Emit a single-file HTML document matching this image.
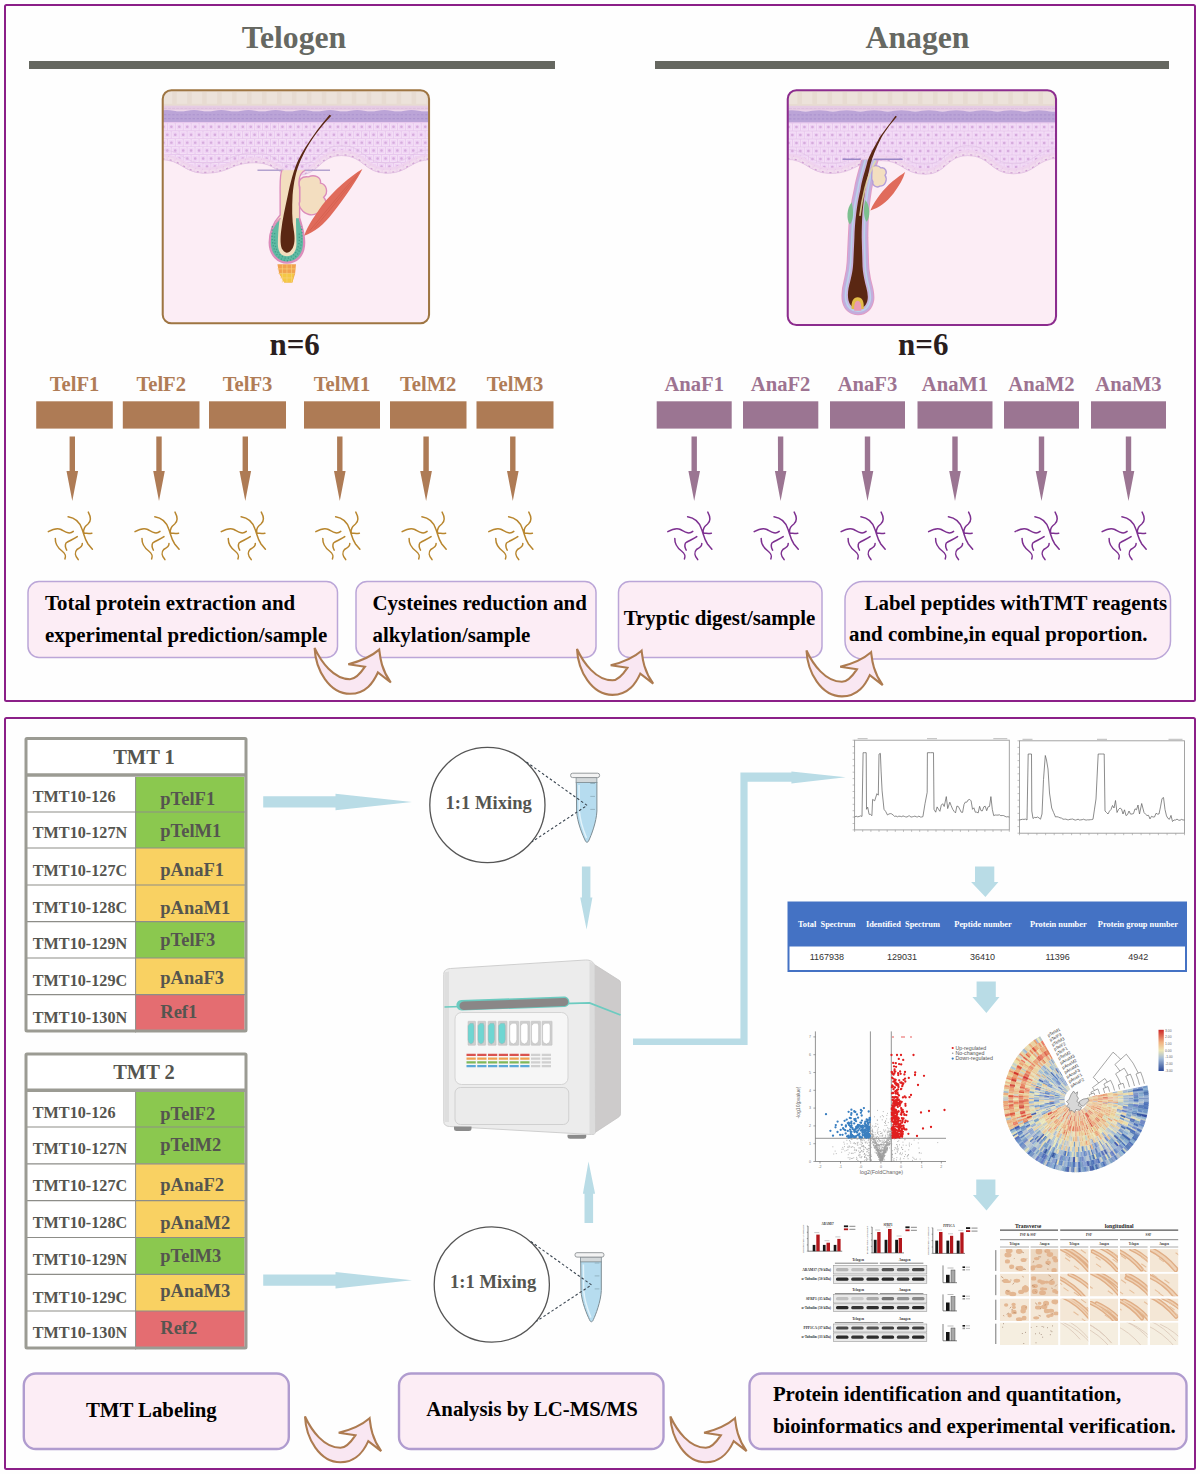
<!DOCTYPE html><html><head><meta charset="utf-8"><style>html,body{margin:0;padding:0;background:#fff;}svg{display:block;}</style></head><body>
<svg width="1200" height="1474" viewBox="0 0 1200 1474" font-family="Liberation Serif, serif">
<rect x="0" y="0" width="1200" height="1474" fill="#fefefe"/>
<rect x="5" y="5" width="1190" height="696" rx="1.5" fill="none" stroke="#8b1f88" stroke-width="2"/>
<rect x="5" y="718" width="1190" height="751" rx="1.5" fill="none" stroke="#8b1f88" stroke-width="2"/>
<text x="294" y="47.5" font-size="31.7" font-weight="bold" fill="#666862" text-anchor="middle">Telogen</text>
<text x="917.5" y="47.5" font-size="31.7" font-weight="bold" fill="#666862" text-anchor="middle">Anagen</text>
<rect x="29" y="61" width="526" height="8" fill="#656760"/>
<rect x="655" y="61" width="514" height="8" fill="#656760"/>
<text x="294.6" y="354.6" font-size="31" font-weight="bold" fill="#2a1e1e" text-anchor="middle">n=6</text>
<text x="923.3" y="354.6" font-size="31" font-weight="bold" fill="#2a1e1e" text-anchor="middle">n=6</text>
<g transform="translate(160,88) scale(0.226667)">
<clipPath id="cT"><rect x="12" y="10" width="1175" height="1028" rx="38"/></clipPath>
<clipPath id="eT"><path d="M0,140 H1200 V316 C1100.0,316 1100.0,376 1000,376 C900.0,376 900.0,298 800,298 C702.5,298 702.5,386 605,386 C512.5,386 512.5,330 420,330 C310.0,330 310.0,376 200,376 C100.0,376 100.0,316 0,316  V140 Z"/></clipPath>
<g clip-path="url(#cT)">
<rect x="0" y="0" width="1200" height="1060" fill="#fcedf5"/>
<path d="M0,140 H1200 V316 C1100.0,316 1100.0,376 1000,376 C900.0,376 900.0,298 800,298 C702.5,298 702.5,386 605,386 C512.5,386 512.5,330 420,330 C310.0,330 310.0,376 200,376 C100.0,376 100.0,316 0,316  V140 Z" fill="#e8c8ee"/>
<g clip-path="url(#eT)">
<path d="M2,158h26v26h-26zM37,158h26v26h-26zM72,158h26v26h-26zM107,158h26v26h-26zM142,158h26v26h-26zM177,158h26v26h-26zM212,158h26v26h-26zM247,158h26v26h-26zM282,158h26v26h-26zM317,158h26v26h-26zM352,158h26v26h-26zM387,158h26v26h-26zM422,158h26v26h-26zM457,158h26v26h-26zM492,158h26v26h-26zM527,158h26v26h-26zM562,158h26v26h-26zM597,158h26v26h-26zM632,158h26v26h-26zM667,158h26v26h-26zM702,158h26v26h-26zM737,158h26v26h-26zM772,158h26v26h-26zM807,158h26v26h-26zM842,158h26v26h-26zM877,158h26v26h-26zM912,158h26v26h-26zM947,158h26v26h-26zM982,158h26v26h-26zM1017,158h26v26h-26zM1052,158h26v26h-26zM1087,158h26v26h-26zM1122,158h26v26h-26zM1157,158h26v26h-26zM1192,158h26v26h-26zM1227,158h26v26h-26zM19,193h26v26h-26zM54,193h26v26h-26zM89,193h26v26h-26zM124,193h26v26h-26zM159,193h26v26h-26zM194,193h26v26h-26zM229,193h26v26h-26zM264,193h26v26h-26zM299,193h26v26h-26zM334,193h26v26h-26zM369,193h26v26h-26zM404,193h26v26h-26zM439,193h26v26h-26zM474,193h26v26h-26zM509,193h26v26h-26zM544,193h26v26h-26zM579,193h26v26h-26zM614,193h26v26h-26zM649,193h26v26h-26zM684,193h26v26h-26zM719,193h26v26h-26zM754,193h26v26h-26zM789,193h26v26h-26zM824,193h26v26h-26zM859,193h26v26h-26zM894,193h26v26h-26zM929,193h26v26h-26zM964,193h26v26h-26zM999,193h26v26h-26zM1034,193h26v26h-26zM1069,193h26v26h-26zM1104,193h26v26h-26zM1139,193h26v26h-26zM1174,193h26v26h-26zM1209,193h26v26h-26zM1244,193h26v26h-26zM2,228h26v26h-26zM37,228h26v26h-26zM72,228h26v26h-26zM107,228h26v26h-26zM142,228h26v26h-26zM177,228h26v26h-26zM212,228h26v26h-26zM247,228h26v26h-26zM282,228h26v26h-26zM317,228h26v26h-26zM352,228h26v26h-26zM387,228h26v26h-26zM422,228h26v26h-26zM457,228h26v26h-26zM492,228h26v26h-26zM527,228h26v26h-26zM562,228h26v26h-26zM597,228h26v26h-26zM632,228h26v26h-26zM667,228h26v26h-26zM702,228h26v26h-26zM737,228h26v26h-26zM772,228h26v26h-26zM807,228h26v26h-26zM842,228h26v26h-26zM877,228h26v26h-26zM912,228h26v26h-26zM947,228h26v26h-26zM982,228h26v26h-26zM1017,228h26v26h-26zM1052,228h26v26h-26zM1087,228h26v26h-26zM1122,228h26v26h-26zM1157,228h26v26h-26zM1192,228h26v26h-26zM1227,228h26v26h-26zM19,263h26v26h-26zM54,263h26v26h-26zM89,263h26v26h-26zM124,263h26v26h-26zM159,263h26v26h-26zM194,263h26v26h-26zM229,263h26v26h-26zM264,263h26v26h-26zM299,263h26v26h-26zM334,263h26v26h-26zM369,263h26v26h-26zM404,263h26v26h-26zM439,263h26v26h-26zM474,263h26v26h-26zM509,263h26v26h-26zM544,263h26v26h-26zM579,263h26v26h-26zM614,263h26v26h-26zM649,263h26v26h-26zM684,263h26v26h-26zM719,263h26v26h-26zM754,263h26v26h-26zM789,263h26v26h-26zM824,263h26v26h-26zM859,263h26v26h-26zM894,263h26v26h-26zM929,263h26v26h-26zM964,263h26v26h-26zM999,263h26v26h-26zM1034,263h26v26h-26zM1069,263h26v26h-26zM1104,263h26v26h-26zM1139,263h26v26h-26zM1174,263h26v26h-26zM1209,263h26v26h-26zM1244,263h26v26h-26zM2,298h26v26h-26zM37,298h26v26h-26zM72,298h26v26h-26zM107,298h26v26h-26zM142,298h26v26h-26zM177,298h26v26h-26zM212,298h26v26h-26zM247,298h26v26h-26zM282,298h26v26h-26zM317,298h26v26h-26zM352,298h26v26h-26zM387,298h26v26h-26zM422,298h26v26h-26zM457,298h26v26h-26zM492,298h26v26h-26zM527,298h26v26h-26zM562,298h26v26h-26zM597,298h26v26h-26zM632,298h26v26h-26zM667,298h26v26h-26zM702,298h26v26h-26zM737,298h26v26h-26zM772,298h26v26h-26zM807,298h26v26h-26zM842,298h26v26h-26zM877,298h26v26h-26zM912,298h26v26h-26zM947,298h26v26h-26zM982,298h26v26h-26zM1017,298h26v26h-26zM1052,298h26v26h-26zM1087,298h26v26h-26zM1122,298h26v26h-26zM1157,298h26v26h-26zM1192,298h26v26h-26zM1227,298h26v26h-26zM19,333h26v26h-26zM54,333h26v26h-26zM89,333h26v26h-26zM124,333h26v26h-26zM159,333h26v26h-26zM194,333h26v26h-26zM229,333h26v26h-26zM264,333h26v26h-26zM299,333h26v26h-26zM334,333h26v26h-26zM369,333h26v26h-26zM404,333h26v26h-26zM439,333h26v26h-26zM474,333h26v26h-26zM509,333h26v26h-26zM544,333h26v26h-26zM579,333h26v26h-26zM614,333h26v26h-26zM649,333h26v26h-26zM684,333h26v26h-26zM719,333h26v26h-26zM754,333h26v26h-26zM789,333h26v26h-26zM824,333h26v26h-26zM859,333h26v26h-26zM894,333h26v26h-26zM929,333h26v26h-26zM964,333h26v26h-26zM999,333h26v26h-26zM1034,333h26v26h-26zM1069,333h26v26h-26zM1104,333h26v26h-26zM1139,333h26v26h-26zM1174,333h26v26h-26zM1209,333h26v26h-26zM1244,333h26v26h-26zM2,368h26v26h-26zM37,368h26v26h-26zM72,368h26v26h-26zM107,368h26v26h-26zM142,368h26v26h-26zM177,368h26v26h-26zM212,368h26v26h-26zM247,368h26v26h-26zM282,368h26v26h-26zM317,368h26v26h-26zM352,368h26v26h-26zM387,368h26v26h-26zM422,368h26v26h-26zM457,368h26v26h-26zM492,368h26v26h-26zM527,368h26v26h-26zM562,368h26v26h-26zM597,368h26v26h-26zM632,368h26v26h-26zM667,368h26v26h-26zM702,368h26v26h-26zM737,368h26v26h-26zM772,368h26v26h-26zM807,368h26v26h-26zM842,368h26v26h-26zM877,368h26v26h-26zM912,368h26v26h-26zM947,368h26v26h-26zM982,368h26v26h-26zM1017,368h26v26h-26zM1052,368h26v26h-26zM1087,368h26v26h-26zM1122,368h26v26h-26zM1157,368h26v26h-26zM1192,368h26v26h-26zM1227,368h26v26h-26z" fill="#efd2f4" stroke="#f4dff6" stroke-width="5" stroke-linejoin="round"/>
<path d="M15,171h0.5M50,171h0.5M85,171h0.5M120,171h0.5M155,171h0.5M190,171h0.5M225,171h0.5M260,171h0.5M295,171h0.5M330,171h0.5M365,171h0.5M400,171h0.5M435,171h0.5M470,171h0.5M505,171h0.5M540,171h0.5M575,171h0.5M610,171h0.5M645,171h0.5M680,171h0.5M715,171h0.5M750,171h0.5M785,171h0.5M820,171h0.5M855,171h0.5M890,171h0.5M925,171h0.5M960,171h0.5M995,171h0.5M1030,171h0.5M1065,171h0.5M1100,171h0.5M1135,171h0.5M1170,171h0.5M1205,171h0.5M1240,171h0.5M32,206h0.5M67,206h0.5M102,206h0.5M137,206h0.5M172,206h0.5M207,206h0.5M242,206h0.5M277,206h0.5M312,206h0.5M347,206h0.5M382,206h0.5M417,206h0.5M452,206h0.5M487,206h0.5M522,206h0.5M557,206h0.5M592,206h0.5M627,206h0.5M662,206h0.5M697,206h0.5M732,206h0.5M767,206h0.5M802,206h0.5M837,206h0.5M872,206h0.5M907,206h0.5M942,206h0.5M977,206h0.5M1012,206h0.5M1047,206h0.5M1082,206h0.5M1117,206h0.5M1152,206h0.5M1187,206h0.5M1222,206h0.5M1257,206h0.5M15,241h0.5M50,241h0.5M85,241h0.5M120,241h0.5M155,241h0.5M190,241h0.5M225,241h0.5M260,241h0.5M295,241h0.5M330,241h0.5M365,241h0.5M400,241h0.5M435,241h0.5M470,241h0.5M505,241h0.5M540,241h0.5M575,241h0.5M610,241h0.5M645,241h0.5M680,241h0.5M715,241h0.5M750,241h0.5M785,241h0.5M820,241h0.5M855,241h0.5M890,241h0.5M925,241h0.5M960,241h0.5M995,241h0.5M1030,241h0.5M1065,241h0.5M1100,241h0.5M1135,241h0.5M1170,241h0.5M1205,241h0.5M1240,241h0.5M32,276h0.5M67,276h0.5M102,276h0.5M137,276h0.5M172,276h0.5M207,276h0.5M242,276h0.5M277,276h0.5M312,276h0.5M347,276h0.5M382,276h0.5M417,276h0.5M452,276h0.5M487,276h0.5M522,276h0.5M557,276h0.5M592,276h0.5M627,276h0.5M662,276h0.5M697,276h0.5M732,276h0.5M767,276h0.5M802,276h0.5M837,276h0.5M872,276h0.5M907,276h0.5M942,276h0.5M977,276h0.5M1012,276h0.5M1047,276h0.5M1082,276h0.5M1117,276h0.5M1152,276h0.5M1187,276h0.5M1222,276h0.5M1257,276h0.5M15,311h0.5M50,311h0.5M85,311h0.5M120,311h0.5M155,311h0.5M190,311h0.5M225,311h0.5M260,311h0.5M295,311h0.5M330,311h0.5M365,311h0.5M400,311h0.5M435,311h0.5M470,311h0.5M505,311h0.5M540,311h0.5M575,311h0.5M610,311h0.5M645,311h0.5M680,311h0.5M715,311h0.5M750,311h0.5M785,311h0.5M820,311h0.5M855,311h0.5M890,311h0.5M925,311h0.5M960,311h0.5M995,311h0.5M1030,311h0.5M1065,311h0.5M1100,311h0.5M1135,311h0.5M1170,311h0.5M1205,311h0.5M1240,311h0.5M32,346h0.5M67,346h0.5M102,346h0.5M137,346h0.5M172,346h0.5M207,346h0.5M242,346h0.5M277,346h0.5M312,346h0.5M347,346h0.5M382,346h0.5M417,346h0.5M452,346h0.5M487,346h0.5M522,346h0.5M557,346h0.5M592,346h0.5M627,346h0.5M662,346h0.5M697,346h0.5M732,346h0.5M767,346h0.5M802,346h0.5M837,346h0.5M872,346h0.5M907,346h0.5M942,346h0.5M977,346h0.5M1012,346h0.5M1047,346h0.5M1082,346h0.5M1117,346h0.5M1152,346h0.5M1187,346h0.5M1222,346h0.5M1257,346h0.5M15,381h0.5M50,381h0.5M85,381h0.5M120,381h0.5M155,381h0.5M190,381h0.5M225,381h0.5M260,381h0.5M295,381h0.5M330,381h0.5M365,381h0.5M400,381h0.5M435,381h0.5M470,381h0.5M505,381h0.5M540,381h0.5M575,381h0.5M610,381h0.5M645,381h0.5M680,381h0.5M715,381h0.5M750,381h0.5M785,381h0.5M820,381h0.5M855,381h0.5M890,381h0.5M925,381h0.5M960,381h0.5M995,381h0.5M1030,381h0.5M1065,381h0.5M1100,381h0.5M1135,381h0.5M1170,381h0.5M1205,381h0.5M1240,381h0.5" stroke="#d6acdd" stroke-width="11" stroke-linecap="round"/>
<path d="M0,316 C100.0,316 100.0,376 200,376 C310.0,376 310.0,330 420,330 C512.5,330 512.5,386 605,386 C702.5,386 702.5,298 800,298 C900.0,298 900.0,376 1000,376 C1100.0,376 1100.0,316 1200,316 " fill="none" stroke="#efd3ee" stroke-width="46" transform="translate(0,-2)"/>
<path d="M0,316 C100.0,316 100.0,376 200,376 C310.0,376 310.0,330 420,330 C512.5,330 512.5,386 605,386 C702.5,386 702.5,298 800,298 C900.0,298 900.0,376 1000,376 C1100.0,376 1100.0,316 1200,316 " fill="none" stroke="#dcbde0" stroke-width="2" transform="translate(0,-44)"/>
<path d="M0,316 C100.0,316 100.0,376 200,376 C310.0,376 310.0,330 420,330 C512.5,330 512.5,386 605,386 C702.5,386 702.5,298 800,298 C900.0,298 900.0,376 1000,376 C1100.0,376 1100.0,316 1200,316 " fill="none" stroke="#e6c2e6" stroke-width="34" stroke-dasharray="3 30" transform="translate(0,-2)"/>
<path d="M0,316 C100.0,316 100.0,376 200,376 C310.0,376 310.0,330 420,330 C512.5,330 512.5,386 605,386 C702.5,386 702.5,298 800,298 C900.0,298 900.0,376 1000,376 C1100.0,376 1100.0,316 1200,316 " fill="none" stroke="#f2dcee" stroke-width="24" stroke-dasharray="26 7" transform="translate(0,-2)"/>
<path d="M0,316 C100.0,316 100.0,376 200,376 C310.0,376 310.0,330 420,330 C512.5,330 512.5,386 605,386 C702.5,386 702.5,298 800,298 C900.0,298 900.0,376 1000,376 C1100.0,376 1100.0,316 1200,316 " fill="none" stroke="#cf9fd2" stroke-width="9" stroke-dasharray="9 24" stroke-dashoffset="-9" transform="translate(0,-2)"/>
</g>
<path d="M0,316 C100.0,316 100.0,376 200,376 C310.0,376 310.0,330 420,330 C512.5,330 512.5,386 605,386 C702.5,386 702.5,298 800,298 C900.0,298 900.0,376 1000,376 C1100.0,376 1100.0,316 1200,316 " fill="none" stroke="#e0bfe0" stroke-width="3"/>
<rect x="0" y="0" width="1200" height="80" fill="#e7dbd1"/>
<rect x="8" y="18" width="46" height="52" fill="#ece2da"/>
<rect x="74" y="18" width="46" height="52" fill="#ece2da"/>
<rect x="140" y="18" width="46" height="52" fill="#ece2da"/>
<rect x="206" y="18" width="46" height="52" fill="#ece2da"/>
<rect x="272" y="18" width="46" height="52" fill="#ece2da"/>
<rect x="338" y="18" width="46" height="52" fill="#ece2da"/>
<rect x="404" y="18" width="46" height="52" fill="#ece2da"/>
<rect x="470" y="18" width="46" height="52" fill="#ece2da"/>
<rect x="536" y="18" width="46" height="52" fill="#ece2da"/>
<rect x="602" y="18" width="46" height="52" fill="#ece2da"/>
<rect x="668" y="18" width="46" height="52" fill="#ece2da"/>
<rect x="734" y="18" width="46" height="52" fill="#ece2da"/>
<rect x="800" y="18" width="46" height="52" fill="#ece2da"/>
<rect x="866" y="18" width="46" height="52" fill="#ece2da"/>
<rect x="932" y="18" width="46" height="52" fill="#ece2da"/>
<rect x="998" y="18" width="46" height="52" fill="#ece2da"/>
<rect x="1064" y="18" width="46" height="52" fill="#ece2da"/>
<rect x="1130" y="18" width="46" height="52" fill="#ece2da"/>
<rect x="1196" y="18" width="46" height="52" fill="#ece2da"/>
<rect x="0" y="78" width="1200" height="22" fill="#e6cce4"/>
<path d="M0,90 H1200" stroke="#d9b8d9" stroke-width="3" stroke-dasharray="12 6"/>
<path d="M0,100 Q30,94 60,100 T120,100 T180,100 T240,100 T300,100 T360,100 T420,100 T480,100 T540,100 T600,100 T660,100 T720,100 T780,100 T840,100 T900,100 T960,100 T1020,100 T1080,100 T1140,100 T1200,100 V150 H0 Z" fill="#bba4d7"/>
<path d="M0,118 H1200 M0,135 H1200" stroke="#ad94cf" stroke-width="5" stroke-dasharray="10 8"/>
</g>
<path d="M430,363 H545 M638,363 H750" stroke="#b3a2cf" stroke-width="6"/>
<path d="M538,363 C528,380 530,420 530,470 L530,560 C498,595 482,640 482,682 C482,740 522,772 560,772 C604,772 638,740 638,682 C638,640 625,600 616,572 L616,450 C612,410 610,380 640,363" fill="#f3debf" stroke="#dc8cbb" stroke-width="6"/>
<path d="M617,438 C606,405 625,388 655,392 C680,380 712,392 708,420 C735,425 745,462 722,482 C744,505 725,550 695,552 C672,566 640,560 624,536 C612,520 612,510 617,500 Z" fill="#f3dec0" stroke="#dc8cbb" stroke-width="6"/>
<path d="M532,575 C500,600 486,640 486,682 C486,736 522,768 560,768 C602,768 634,736 634,682 C634,640 622,600 614,575 L600,575 C600,620 602,660 602,690 C600,730 578,742 560,742 C540,742 522,730 520,690 C520,660 522,620 528,575 Z" fill="#5fbaa3"/>
<path d="M532,575 C500,600 486,640 486,682 C486,736 522,768 560,768 C602,768 634,736 634,682 C634,640 622,600 614,575" fill="none" stroke="#dc8cbb" stroke-width="6"/>
<path d="M506,640 C500,700 520,745 560,752 C600,745 620,700 614,640 M496,610 C486,700 515,760 560,762 C608,760 634,700 624,610" fill="none" stroke="#3f9e8a" stroke-width="6" stroke-dasharray="5 9"/>
<path d="M748,118 C700,175 650,240 610,318 C590,360 575,420 564,472 C552,530 540,580 535,626 C530,660 530,700 541,714 C548,724 555,727 559,727 C566,727 575,722 580,714 C596,695 596,660 590,626 C582,580 582,530 585,472 C590,420 598,370 621,318 C650,250 700,180 756,122 Z" fill="#5a2713"/>
<path d="M518,778 L600,778 L596,820 L584,858 L548,858 L526,820 Z" fill="#f1a24e"/>
<path d="M528,818 L592,818 L584,858 L548,858 Z" fill="#f4c844"/>
<path d="M518,798 H600 M522,818 H596 M530,838 H588 M540,778 V858 M560,778 V858 M580,778 V858" stroke="#f7d27a" stroke-width="3"/>
<path d="M636,652 C652,605 688,556 716,516 C768,450 838,390 893,357 C872,402 824,470 762,552 C722,605 682,636 636,652 Z" fill="#e06b5b"/>
<path d="M660,630 C720,560 790,470 880,372 M680,620 C740,550 800,475 870,390" stroke="#cf5a48" stroke-width="2.5" fill="none"/>
<rect x="12" y="10" width="1175" height="1028" rx="38" fill="none" stroke="#9e7542" stroke-width="9"/>
</g>
<g transform="translate(785,88) scale(0.228333)">
<clipPath id="cA"><rect x="12" y="10" width="1175" height="1028" rx="38"/></clipPath>
<clipPath id="eA"><path d="M0,140 H1200 V308 C1100.0,308 1100.0,376 1000,376 C900.0,376 900.0,296 800,296 C707.5,296 707.5,378 615,378 C517.5,378 517.5,318 420,318 C310.0,318 310.0,374 200,374 C100.0,374 100.0,312 0,312  V140 Z"/></clipPath>
<g clip-path="url(#cA)">
<rect x="0" y="0" width="1200" height="1060" fill="#fcedf5"/>
<path d="M0,140 H1200 V308 C1100.0,308 1100.0,376 1000,376 C900.0,376 900.0,296 800,296 C707.5,296 707.5,378 615,378 C517.5,378 517.5,318 420,318 C310.0,318 310.0,374 200,374 C100.0,374 100.0,312 0,312  V140 Z" fill="#e8c8ee"/>
<g clip-path="url(#eA)">
<path d="M2,158h26v26h-26zM37,158h26v26h-26zM72,158h26v26h-26zM107,158h26v26h-26zM142,158h26v26h-26zM177,158h26v26h-26zM212,158h26v26h-26zM247,158h26v26h-26zM282,158h26v26h-26zM317,158h26v26h-26zM352,158h26v26h-26zM387,158h26v26h-26zM422,158h26v26h-26zM457,158h26v26h-26zM492,158h26v26h-26zM527,158h26v26h-26zM562,158h26v26h-26zM597,158h26v26h-26zM632,158h26v26h-26zM667,158h26v26h-26zM702,158h26v26h-26zM737,158h26v26h-26zM772,158h26v26h-26zM807,158h26v26h-26zM842,158h26v26h-26zM877,158h26v26h-26zM912,158h26v26h-26zM947,158h26v26h-26zM982,158h26v26h-26zM1017,158h26v26h-26zM1052,158h26v26h-26zM1087,158h26v26h-26zM1122,158h26v26h-26zM1157,158h26v26h-26zM1192,158h26v26h-26zM1227,158h26v26h-26zM19,193h26v26h-26zM54,193h26v26h-26zM89,193h26v26h-26zM124,193h26v26h-26zM159,193h26v26h-26zM194,193h26v26h-26zM229,193h26v26h-26zM264,193h26v26h-26zM299,193h26v26h-26zM334,193h26v26h-26zM369,193h26v26h-26zM404,193h26v26h-26zM439,193h26v26h-26zM474,193h26v26h-26zM509,193h26v26h-26zM544,193h26v26h-26zM579,193h26v26h-26zM614,193h26v26h-26zM649,193h26v26h-26zM684,193h26v26h-26zM719,193h26v26h-26zM754,193h26v26h-26zM789,193h26v26h-26zM824,193h26v26h-26zM859,193h26v26h-26zM894,193h26v26h-26zM929,193h26v26h-26zM964,193h26v26h-26zM999,193h26v26h-26zM1034,193h26v26h-26zM1069,193h26v26h-26zM1104,193h26v26h-26zM1139,193h26v26h-26zM1174,193h26v26h-26zM1209,193h26v26h-26zM1244,193h26v26h-26zM2,228h26v26h-26zM37,228h26v26h-26zM72,228h26v26h-26zM107,228h26v26h-26zM142,228h26v26h-26zM177,228h26v26h-26zM212,228h26v26h-26zM247,228h26v26h-26zM282,228h26v26h-26zM317,228h26v26h-26zM352,228h26v26h-26zM387,228h26v26h-26zM422,228h26v26h-26zM457,228h26v26h-26zM492,228h26v26h-26zM527,228h26v26h-26zM562,228h26v26h-26zM597,228h26v26h-26zM632,228h26v26h-26zM667,228h26v26h-26zM702,228h26v26h-26zM737,228h26v26h-26zM772,228h26v26h-26zM807,228h26v26h-26zM842,228h26v26h-26zM877,228h26v26h-26zM912,228h26v26h-26zM947,228h26v26h-26zM982,228h26v26h-26zM1017,228h26v26h-26zM1052,228h26v26h-26zM1087,228h26v26h-26zM1122,228h26v26h-26zM1157,228h26v26h-26zM1192,228h26v26h-26zM1227,228h26v26h-26zM19,263h26v26h-26zM54,263h26v26h-26zM89,263h26v26h-26zM124,263h26v26h-26zM159,263h26v26h-26zM194,263h26v26h-26zM229,263h26v26h-26zM264,263h26v26h-26zM299,263h26v26h-26zM334,263h26v26h-26zM369,263h26v26h-26zM404,263h26v26h-26zM439,263h26v26h-26zM474,263h26v26h-26zM509,263h26v26h-26zM544,263h26v26h-26zM579,263h26v26h-26zM614,263h26v26h-26zM649,263h26v26h-26zM684,263h26v26h-26zM719,263h26v26h-26zM754,263h26v26h-26zM789,263h26v26h-26zM824,263h26v26h-26zM859,263h26v26h-26zM894,263h26v26h-26zM929,263h26v26h-26zM964,263h26v26h-26zM999,263h26v26h-26zM1034,263h26v26h-26zM1069,263h26v26h-26zM1104,263h26v26h-26zM1139,263h26v26h-26zM1174,263h26v26h-26zM1209,263h26v26h-26zM1244,263h26v26h-26zM2,298h26v26h-26zM37,298h26v26h-26zM72,298h26v26h-26zM107,298h26v26h-26zM142,298h26v26h-26zM177,298h26v26h-26zM212,298h26v26h-26zM247,298h26v26h-26zM282,298h26v26h-26zM317,298h26v26h-26zM352,298h26v26h-26zM387,298h26v26h-26zM422,298h26v26h-26zM457,298h26v26h-26zM492,298h26v26h-26zM527,298h26v26h-26zM562,298h26v26h-26zM597,298h26v26h-26zM632,298h26v26h-26zM667,298h26v26h-26zM702,298h26v26h-26zM737,298h26v26h-26zM772,298h26v26h-26zM807,298h26v26h-26zM842,298h26v26h-26zM877,298h26v26h-26zM912,298h26v26h-26zM947,298h26v26h-26zM982,298h26v26h-26zM1017,298h26v26h-26zM1052,298h26v26h-26zM1087,298h26v26h-26zM1122,298h26v26h-26zM1157,298h26v26h-26zM1192,298h26v26h-26zM1227,298h26v26h-26zM19,333h26v26h-26zM54,333h26v26h-26zM89,333h26v26h-26zM124,333h26v26h-26zM159,333h26v26h-26zM194,333h26v26h-26zM229,333h26v26h-26zM264,333h26v26h-26zM299,333h26v26h-26zM334,333h26v26h-26zM369,333h26v26h-26zM404,333h26v26h-26zM439,333h26v26h-26zM474,333h26v26h-26zM509,333h26v26h-26zM544,333h26v26h-26zM579,333h26v26h-26zM614,333h26v26h-26zM649,333h26v26h-26zM684,333h26v26h-26zM719,333h26v26h-26zM754,333h26v26h-26zM789,333h26v26h-26zM824,333h26v26h-26zM859,333h26v26h-26zM894,333h26v26h-26zM929,333h26v26h-26zM964,333h26v26h-26zM999,333h26v26h-26zM1034,333h26v26h-26zM1069,333h26v26h-26zM1104,333h26v26h-26zM1139,333h26v26h-26zM1174,333h26v26h-26zM1209,333h26v26h-26zM1244,333h26v26h-26zM2,368h26v26h-26zM37,368h26v26h-26zM72,368h26v26h-26zM107,368h26v26h-26zM142,368h26v26h-26zM177,368h26v26h-26zM212,368h26v26h-26zM247,368h26v26h-26zM282,368h26v26h-26zM317,368h26v26h-26zM352,368h26v26h-26zM387,368h26v26h-26zM422,368h26v26h-26zM457,368h26v26h-26zM492,368h26v26h-26zM527,368h26v26h-26zM562,368h26v26h-26zM597,368h26v26h-26zM632,368h26v26h-26zM667,368h26v26h-26zM702,368h26v26h-26zM737,368h26v26h-26zM772,368h26v26h-26zM807,368h26v26h-26zM842,368h26v26h-26zM877,368h26v26h-26zM912,368h26v26h-26zM947,368h26v26h-26zM982,368h26v26h-26zM1017,368h26v26h-26zM1052,368h26v26h-26zM1087,368h26v26h-26zM1122,368h26v26h-26zM1157,368h26v26h-26zM1192,368h26v26h-26zM1227,368h26v26h-26z" fill="#efd2f4" stroke="#f4dff6" stroke-width="5" stroke-linejoin="round"/>
<path d="M15,171h0.5M50,171h0.5M85,171h0.5M120,171h0.5M155,171h0.5M190,171h0.5M225,171h0.5M260,171h0.5M295,171h0.5M330,171h0.5M365,171h0.5M400,171h0.5M435,171h0.5M470,171h0.5M505,171h0.5M540,171h0.5M575,171h0.5M610,171h0.5M645,171h0.5M680,171h0.5M715,171h0.5M750,171h0.5M785,171h0.5M820,171h0.5M855,171h0.5M890,171h0.5M925,171h0.5M960,171h0.5M995,171h0.5M1030,171h0.5M1065,171h0.5M1100,171h0.5M1135,171h0.5M1170,171h0.5M1205,171h0.5M1240,171h0.5M32,206h0.5M67,206h0.5M102,206h0.5M137,206h0.5M172,206h0.5M207,206h0.5M242,206h0.5M277,206h0.5M312,206h0.5M347,206h0.5M382,206h0.5M417,206h0.5M452,206h0.5M487,206h0.5M522,206h0.5M557,206h0.5M592,206h0.5M627,206h0.5M662,206h0.5M697,206h0.5M732,206h0.5M767,206h0.5M802,206h0.5M837,206h0.5M872,206h0.5M907,206h0.5M942,206h0.5M977,206h0.5M1012,206h0.5M1047,206h0.5M1082,206h0.5M1117,206h0.5M1152,206h0.5M1187,206h0.5M1222,206h0.5M1257,206h0.5M15,241h0.5M50,241h0.5M85,241h0.5M120,241h0.5M155,241h0.5M190,241h0.5M225,241h0.5M260,241h0.5M295,241h0.5M330,241h0.5M365,241h0.5M400,241h0.5M435,241h0.5M470,241h0.5M505,241h0.5M540,241h0.5M575,241h0.5M610,241h0.5M645,241h0.5M680,241h0.5M715,241h0.5M750,241h0.5M785,241h0.5M820,241h0.5M855,241h0.5M890,241h0.5M925,241h0.5M960,241h0.5M995,241h0.5M1030,241h0.5M1065,241h0.5M1100,241h0.5M1135,241h0.5M1170,241h0.5M1205,241h0.5M1240,241h0.5M32,276h0.5M67,276h0.5M102,276h0.5M137,276h0.5M172,276h0.5M207,276h0.5M242,276h0.5M277,276h0.5M312,276h0.5M347,276h0.5M382,276h0.5M417,276h0.5M452,276h0.5M487,276h0.5M522,276h0.5M557,276h0.5M592,276h0.5M627,276h0.5M662,276h0.5M697,276h0.5M732,276h0.5M767,276h0.5M802,276h0.5M837,276h0.5M872,276h0.5M907,276h0.5M942,276h0.5M977,276h0.5M1012,276h0.5M1047,276h0.5M1082,276h0.5M1117,276h0.5M1152,276h0.5M1187,276h0.5M1222,276h0.5M1257,276h0.5M15,311h0.5M50,311h0.5M85,311h0.5M120,311h0.5M155,311h0.5M190,311h0.5M225,311h0.5M260,311h0.5M295,311h0.5M330,311h0.5M365,311h0.5M400,311h0.5M435,311h0.5M470,311h0.5M505,311h0.5M540,311h0.5M575,311h0.5M610,311h0.5M645,311h0.5M680,311h0.5M715,311h0.5M750,311h0.5M785,311h0.5M820,311h0.5M855,311h0.5M890,311h0.5M925,311h0.5M960,311h0.5M995,311h0.5M1030,311h0.5M1065,311h0.5M1100,311h0.5M1135,311h0.5M1170,311h0.5M1205,311h0.5M1240,311h0.5M32,346h0.5M67,346h0.5M102,346h0.5M137,346h0.5M172,346h0.5M207,346h0.5M242,346h0.5M277,346h0.5M312,346h0.5M347,346h0.5M382,346h0.5M417,346h0.5M452,346h0.5M487,346h0.5M522,346h0.5M557,346h0.5M592,346h0.5M627,346h0.5M662,346h0.5M697,346h0.5M732,346h0.5M767,346h0.5M802,346h0.5M837,346h0.5M872,346h0.5M907,346h0.5M942,346h0.5M977,346h0.5M1012,346h0.5M1047,346h0.5M1082,346h0.5M1117,346h0.5M1152,346h0.5M1187,346h0.5M1222,346h0.5M1257,346h0.5M15,381h0.5M50,381h0.5M85,381h0.5M120,381h0.5M155,381h0.5M190,381h0.5M225,381h0.5M260,381h0.5M295,381h0.5M330,381h0.5M365,381h0.5M400,381h0.5M435,381h0.5M470,381h0.5M505,381h0.5M540,381h0.5M575,381h0.5M610,381h0.5M645,381h0.5M680,381h0.5M715,381h0.5M750,381h0.5M785,381h0.5M820,381h0.5M855,381h0.5M890,381h0.5M925,381h0.5M960,381h0.5M995,381h0.5M1030,381h0.5M1065,381h0.5M1100,381h0.5M1135,381h0.5M1170,381h0.5M1205,381h0.5M1240,381h0.5" stroke="#d6acdd" stroke-width="11" stroke-linecap="round"/>
<path d="M0,312 C100.0,312 100.0,374 200,374 C310.0,374 310.0,318 420,318 C517.5,318 517.5,378 615,378 C707.5,378 707.5,296 800,296 C900.0,296 900.0,376 1000,376 C1100.0,376 1100.0,308 1200,308 " fill="none" stroke="#efd3ee" stroke-width="46" transform="translate(0,-2)"/>
<path d="M0,312 C100.0,312 100.0,374 200,374 C310.0,374 310.0,318 420,318 C517.5,318 517.5,378 615,378 C707.5,378 707.5,296 800,296 C900.0,296 900.0,376 1000,376 C1100.0,376 1100.0,308 1200,308 " fill="none" stroke="#dcbde0" stroke-width="2" transform="translate(0,-44)"/>
<path d="M0,312 C100.0,312 100.0,374 200,374 C310.0,374 310.0,318 420,318 C517.5,318 517.5,378 615,378 C707.5,378 707.5,296 800,296 C900.0,296 900.0,376 1000,376 C1100.0,376 1100.0,308 1200,308 " fill="none" stroke="#e6c2e6" stroke-width="34" stroke-dasharray="3 30" transform="translate(0,-2)"/>
<path d="M0,312 C100.0,312 100.0,374 200,374 C310.0,374 310.0,318 420,318 C517.5,318 517.5,378 615,378 C707.5,378 707.5,296 800,296 C900.0,296 900.0,376 1000,376 C1100.0,376 1100.0,308 1200,308 " fill="none" stroke="#f2dcee" stroke-width="24" stroke-dasharray="26 7" transform="translate(0,-2)"/>
<path d="M0,312 C100.0,312 100.0,374 200,374 C310.0,374 310.0,318 420,318 C517.5,318 517.5,378 615,378 C707.5,378 707.5,296 800,296 C900.0,296 900.0,376 1000,376 C1100.0,376 1100.0,308 1200,308 " fill="none" stroke="#cf9fd2" stroke-width="9" stroke-dasharray="9 24" stroke-dashoffset="-9" transform="translate(0,-2)"/>
</g>
<path d="M0,312 C100.0,312 100.0,374 200,374 C310.0,374 310.0,318 420,318 C517.5,318 517.5,378 615,378 C707.5,378 707.5,296 800,296 C900.0,296 900.0,376 1000,376 C1100.0,376 1100.0,308 1200,308 " fill="none" stroke="#e0bfe0" stroke-width="3"/>
<rect x="0" y="0" width="1200" height="80" fill="#e7dbd1"/>
<rect x="8" y="18" width="46" height="52" fill="#ece2da"/>
<rect x="74" y="18" width="46" height="52" fill="#ece2da"/>
<rect x="140" y="18" width="46" height="52" fill="#ece2da"/>
<rect x="206" y="18" width="46" height="52" fill="#ece2da"/>
<rect x="272" y="18" width="46" height="52" fill="#ece2da"/>
<rect x="338" y="18" width="46" height="52" fill="#ece2da"/>
<rect x="404" y="18" width="46" height="52" fill="#ece2da"/>
<rect x="470" y="18" width="46" height="52" fill="#ece2da"/>
<rect x="536" y="18" width="46" height="52" fill="#ece2da"/>
<rect x="602" y="18" width="46" height="52" fill="#ece2da"/>
<rect x="668" y="18" width="46" height="52" fill="#ece2da"/>
<rect x="734" y="18" width="46" height="52" fill="#ece2da"/>
<rect x="800" y="18" width="46" height="52" fill="#ece2da"/>
<rect x="866" y="18" width="46" height="52" fill="#ece2da"/>
<rect x="932" y="18" width="46" height="52" fill="#ece2da"/>
<rect x="998" y="18" width="46" height="52" fill="#ece2da"/>
<rect x="1064" y="18" width="46" height="52" fill="#ece2da"/>
<rect x="1130" y="18" width="46" height="52" fill="#ece2da"/>
<rect x="1196" y="18" width="46" height="52" fill="#ece2da"/>
<rect x="0" y="78" width="1200" height="22" fill="#e6cce4"/>
<path d="M0,90 H1200" stroke="#d9b8d9" stroke-width="3" stroke-dasharray="12 6"/>
<path d="M0,100 Q30,94 60,100 T120,100 T180,100 T240,100 T300,100 T360,100 T420,100 T480,100 T540,100 T600,100 T660,100 T720,100 T780,100 T840,100 T900,100 T960,100 T1020,100 T1080,100 T1140,100 T1200,100 V150 H0 Z" fill="#bba4d7"/>
<path d="M0,118 H1200 M0,135 H1200" stroke="#ad94cf" stroke-width="5" stroke-dasharray="10 8"/>
</g>
<clipPath id="fA"><rect x="0" y="314" width="1200" height="800"/></clipPath>
<g clip-path="url(#fA)">
<path d="M484,122 C450,170 420,205 408,228 C385,270 366,300 358,335 C345,380 336,410 331,442 C322,480 316,515 312,549 C307,590 305,620 304,656 L299,763 C297,800 292,820 286,845 C278,875 272,900 278,930 C284,955 300,966 320,966 C342,966 358,952 362,925 C366,895 352,865 347,835 C342,810 339,790 339,763 L336,656 C336,620 337,590 339,549 C342,515 346,480 352,442 C358,410 364,380 374,335 C384,300 398,265 417,228 C430,200 460,160 490,126 Z" fill="#e39ac3" stroke="#e39ac3" stroke-width="58" stroke-linejoin="round"/>
<path d="M484,122 C450,170 420,205 408,228 C385,270 366,300 358,335 C345,380 336,410 331,442 C322,480 316,515 312,549 C307,590 305,620 304,656 L299,763 C297,800 292,820 286,845 C278,875 272,900 278,930 C284,955 300,966 320,966 C342,966 358,952 362,925 C366,895 352,865 347,835 C342,810 339,790 339,763 L336,656 C336,620 337,590 339,549 C342,515 346,480 352,442 C358,410 364,380 374,335 C384,300 398,265 417,228 C430,200 460,160 490,126 Z" fill="#c4acdc" stroke="#c4acdc" stroke-width="50" stroke-linejoin="round"/>
<path d="M484,122 C450,170 420,205 408,228 C385,270 366,300 358,335 C345,380 336,410 331,442 C322,480 316,515 312,549 C307,590 305,620 304,656 L299,763 C297,800 292,820 286,845 C278,875 272,900 278,930 C284,955 300,966 320,966 C342,966 358,952 362,925 C366,895 352,865 347,835 C342,810 339,790 339,763 L336,656 C336,620 337,590 339,549 C342,515 346,480 352,442 C358,410 364,380 374,335 C384,300 398,265 417,228 C430,200 460,160 490,126 Z" fill="#b9d3ec" stroke="#b9d3ec" stroke-width="30" stroke-linejoin="round"/>
<path d="M484,122 C450,170 420,205 408,228 C385,270 366,300 358,335 C345,380 336,410 331,442 C322,480 316,515 312,549 C307,590 305,620 304,656 L299,763 C297,800 292,820 286,845 C278,875 272,900 278,930 C284,955 300,966 320,966 C342,966 358,952 362,925 C366,895 352,865 347,835 C342,810 339,790 339,763 L336,656 C336,620 337,590 339,549 C342,515 346,480 352,442 C358,410 364,380 374,335 C384,300 398,265 417,228 C430,200 460,160 490,126 Z" fill="#c4acdc" stroke="#c9b4de" stroke-width="16" stroke-linejoin="round"/>
</g>
<path d="M252,312 H332 M388,312 H515" stroke="#9a86c6" stroke-width="7"/>
<path d="M380,350 C385,335 410,338 420,350 C440,345 450,370 438,382 C450,400 440,430 415,430 C400,440 380,425 385,410 C372,395 385,380 380,350 Z" fill="#f3dfc0" stroke="#b49ed8" stroke-width="6"/>
<path d="M292,500 C270,525 268,575 284,598 C300,578 302,540 292,500 Z" fill="#7cbf8f"/>
<path d="M352,490 C374,515 374,565 358,586 C344,568 342,528 352,490 Z" fill="#7cbf8f"/>
<path d="M484,122 C450,170 420,205 408,228 C385,270 366,300 358,335 C345,380 336,410 331,442 C322,480 316,515 312,549 C307,590 305,620 304,656 L299,763 C297,800 292,820 286,845 C278,875 272,900 278,930 C284,955 300,966 320,966 C342,966 358,952 362,925 C366,895 352,865 347,835 C342,810 339,790 339,763 L336,656 C336,620 337,590 339,549 C342,515 346,480 352,442 C358,410 364,380 374,335 C384,300 398,265 417,228 C430,200 460,160 490,126 Z" fill="#5a2713"/>
<path d="M398,318 C380,350 362,390 350,440 C340,480 333,520 328,560" stroke="#e8d9a6" stroke-width="7" fill="none" opacity="0.85"/>
<path d="M292,968 C288,935 300,916 318,916 C338,916 348,935 344,968 Z" fill="#e2bd48"/>
<path d="M303,976 C301,950 308,932 318,932 C330,932 336,950 334,976 Z" fill="#e99bb3"/>
<path d="M374,536 C395,490 430,445 470,410 C492,392 512,378 526,368 C518,398 500,428 475,462 C445,500 412,525 374,536 Z" fill="#e06b5b"/>
<rect x="12" y="10" width="1175" height="1028" rx="38" fill="none" stroke="#8c2c8e" stroke-width="9"/>
</g>
<text x="74.5" y="391" font-size="20.6" font-weight="bold" fill="#b07c56" text-anchor="middle">TelF1</text>
<rect x="36.2" y="401.3" width="76.6" height="27.3" fill="#ae7b55"/>
<path d="M69.6,436.5 h5.4 v34.5 h3.1 L72.3,501 L66.5,471 h3.1 z" fill="#ae7b55"/>
<path d="M4.3,25.7 C9,23 13,21.5 17,23.5 S25,29 29.3,25.4 M24.1,10.8 C32,12 36,17 38,23 C40,28 40.5,33 44,38 L48.4,43.2 M44.3,6.1 C47,11 47.5,15 44,18 C40,21 39,24 40,27 C43,27.5 46,27.5 47.9,27.2 M11.3,32.4 C11,39 14,42 18,45 C22,48 22,50 20.9,52.9 M33.3,30.6 C30,33 25,35 22,37 C21,39 21.5,42 22.7,44.1 M38.3,37.4 C38.5,40 37,41 33,43.5 C30.5,46 31,50 34.2,53.6" transform="translate(44.0,506)" fill="none" stroke="#b8862e" stroke-width="1.5" stroke-linecap="round"/>
<text x="161.2" y="391" font-size="20.6" font-weight="bold" fill="#b07c56" text-anchor="middle">TelF2</text>
<rect x="122.8" y="401.3" width="76.7" height="27.3" fill="#ae7b55"/>
<path d="M156.3,436.5 h5.4 v34.5 h3.1 L159.0,501 L153.2,471 h3.1 z" fill="#ae7b55"/>
<path d="M4.3,25.7 C9,23 13,21.5 17,23.5 S25,29 29.3,25.4 M24.1,10.8 C32,12 36,17 38,23 C40,28 40.5,33 44,38 L48.4,43.2 M44.3,6.1 C47,11 47.5,15 44,18 C40,21 39,24 40,27 C43,27.5 46,27.5 47.9,27.2 M11.3,32.4 C11,39 14,42 18,45 C22,48 22,50 20.9,52.9 M33.3,30.6 C30,33 25,35 22,37 C21,39 21.5,42 22.7,44.1 M38.3,37.4 C38.5,40 37,41 33,43.5 C30.5,46 31,50 34.2,53.6" transform="translate(130.7,506)" fill="none" stroke="#b8862e" stroke-width="1.5" stroke-linecap="round"/>
<text x="247.5" y="391" font-size="20.6" font-weight="bold" fill="#b07c56" text-anchor="middle">TelF3</text>
<rect x="209" y="401.3" width="77.0" height="27.3" fill="#ae7b55"/>
<path d="M242.6,436.5 h5.4 v34.5 h3.1 L245.3,501 L239.5,471 h3.1 z" fill="#ae7b55"/>
<path d="M4.3,25.7 C9,23 13,21.5 17,23.5 S25,29 29.3,25.4 M24.1,10.8 C32,12 36,17 38,23 C40,28 40.5,33 44,38 L48.4,43.2 M44.3,6.1 C47,11 47.5,15 44,18 C40,21 39,24 40,27 C43,27.5 46,27.5 47.9,27.2 M11.3,32.4 C11,39 14,42 18,45 C22,48 22,50 20.9,52.9 M33.3,30.6 C30,33 25,35 22,37 C21,39 21.5,42 22.7,44.1 M38.3,37.4 C38.5,40 37,41 33,43.5 C30.5,46 31,50 34.2,53.6" transform="translate(217.0,506)" fill="none" stroke="#b8862e" stroke-width="1.5" stroke-linecap="round"/>
<text x="342.0" y="391" font-size="20.6" font-weight="bold" fill="#b07c56" text-anchor="middle">TelM1</text>
<rect x="304" y="401.3" width="76.0" height="27.3" fill="#ae7b55"/>
<path d="M337.1,436.5 h5.4 v34.5 h3.1 L339.8,501 L334.0,471 h3.1 z" fill="#ae7b55"/>
<path d="M4.3,25.7 C9,23 13,21.5 17,23.5 S25,29 29.3,25.4 M24.1,10.8 C32,12 36,17 38,23 C40,28 40.5,33 44,38 L48.4,43.2 M44.3,6.1 C47,11 47.5,15 44,18 C40,21 39,24 40,27 C43,27.5 46,27.5 47.9,27.2 M11.3,32.4 C11,39 14,42 18,45 C22,48 22,50 20.9,52.9 M33.3,30.6 C30,33 25,35 22,37 C21,39 21.5,42 22.7,44.1 M38.3,37.4 C38.5,40 37,41 33,43.5 C30.5,46 31,50 34.2,53.6" transform="translate(311.5,506)" fill="none" stroke="#b8862e" stroke-width="1.5" stroke-linecap="round"/>
<text x="428.2" y="391" font-size="20.6" font-weight="bold" fill="#b07c56" text-anchor="middle">TelM2</text>
<rect x="390" y="401.3" width="76.5" height="27.3" fill="#ae7b55"/>
<path d="M423.4,436.5 h5.4 v34.5 h3.1 L426.1,501 L420.2,471 h3.1 z" fill="#ae7b55"/>
<path d="M4.3,25.7 C9,23 13,21.5 17,23.5 S25,29 29.3,25.4 M24.1,10.8 C32,12 36,17 38,23 C40,28 40.5,33 44,38 L48.4,43.2 M44.3,6.1 C47,11 47.5,15 44,18 C40,21 39,24 40,27 C43,27.5 46,27.5 47.9,27.2 M11.3,32.4 C11,39 14,42 18,45 C22,48 22,50 20.9,52.9 M33.3,30.6 C30,33 25,35 22,37 C21,39 21.5,42 22.7,44.1 M38.3,37.4 C38.5,40 37,41 33,43.5 C30.5,46 31,50 34.2,53.6" transform="translate(397.8,506)" fill="none" stroke="#b8862e" stroke-width="1.5" stroke-linecap="round"/>
<text x="515.0" y="391" font-size="20.6" font-weight="bold" fill="#b07c56" text-anchor="middle">TelM3</text>
<rect x="476.5" y="401.3" width="77.0" height="27.3" fill="#ae7b55"/>
<path d="M510.1,436.5 h5.4 v34.5 h3.1 L512.8,501 L507.0,471 h3.1 z" fill="#ae7b55"/>
<path d="M4.3,25.7 C9,23 13,21.5 17,23.5 S25,29 29.3,25.4 M24.1,10.8 C32,12 36,17 38,23 C40,28 40.5,33 44,38 L48.4,43.2 M44.3,6.1 C47,11 47.5,15 44,18 C40,21 39,24 40,27 C43,27.5 46,27.5 47.9,27.2 M11.3,32.4 C11,39 14,42 18,45 C22,48 22,50 20.9,52.9 M33.3,30.6 C30,33 25,35 22,37 C21,39 21.5,42 22.7,44.1 M38.3,37.4 C38.5,40 37,41 33,43.5 C30.5,46 31,50 34.2,53.6" transform="translate(484.5,506)" fill="none" stroke="#b8862e" stroke-width="1.5" stroke-linecap="round"/>
<text x="694.2" y="391" font-size="20.6" font-weight="bold" fill="#9d7391" text-anchor="middle">AnaF1</text>
<rect x="656.7" y="401.3" width="75.0" height="27.3" fill="#9b7592"/>
<path d="M691.5,436.5 h5.4 v34.5 h3.1 L694.2,501 L688.4,471 h3.1 z" fill="#9b7592"/>
<path d="M4.3,25.7 C9,23 13,21.5 17,23.5 S25,29 29.3,25.4 M24.1,10.8 C32,12 36,17 38,23 C40,28 40.5,33 44,38 L48.4,43.2 M44.3,6.1 C47,11 47.5,15 44,18 C40,21 39,24 40,27 C43,27.5 46,27.5 47.9,27.2 M11.3,32.4 C11,39 14,42 18,45 C22,48 22,50 20.9,52.9 M33.3,30.6 C30,33 25,35 22,37 C21,39 21.5,42 22.7,44.1 M38.3,37.4 C38.5,40 37,41 33,43.5 C30.5,46 31,50 34.2,53.6" transform="translate(663.5,506)" fill="none" stroke="#7d3090" stroke-width="1.5" stroke-linecap="round"/>
<text x="780.6" y="391" font-size="20.6" font-weight="bold" fill="#9d7391" text-anchor="middle">AnaF2</text>
<rect x="743" y="401.3" width="75.3" height="27.3" fill="#9b7592"/>
<path d="M777.9,436.5 h5.4 v34.5 h3.1 L780.6,501 L774.9,471 h3.1 z" fill="#9b7592"/>
<path d="M4.3,25.7 C9,23 13,21.5 17,23.5 S25,29 29.3,25.4 M24.1,10.8 C32,12 36,17 38,23 C40,28 40.5,33 44,38 L48.4,43.2 M44.3,6.1 C47,11 47.5,15 44,18 C40,21 39,24 40,27 C43,27.5 46,27.5 47.9,27.2 M11.3,32.4 C11,39 14,42 18,45 C22,48 22,50 20.9,52.9 M33.3,30.6 C30,33 25,35 22,37 C21,39 21.5,42 22.7,44.1 M38.3,37.4 C38.5,40 37,41 33,43.5 C30.5,46 31,50 34.2,53.6" transform="translate(749.9,506)" fill="none" stroke="#7d3090" stroke-width="1.5" stroke-linecap="round"/>
<text x="867.5" y="391" font-size="20.6" font-weight="bold" fill="#9d7391" text-anchor="middle">AnaF3</text>
<rect x="830" y="401.3" width="75.0" height="27.3" fill="#9b7592"/>
<path d="M864.8,436.5 h5.4 v34.5 h3.1 L867.5,501 L861.7,471 h3.1 z" fill="#9b7592"/>
<path d="M4.3,25.7 C9,23 13,21.5 17,23.5 S25,29 29.3,25.4 M24.1,10.8 C32,12 36,17 38,23 C40,28 40.5,33 44,38 L48.4,43.2 M44.3,6.1 C47,11 47.5,15 44,18 C40,21 39,24 40,27 C43,27.5 46,27.5 47.9,27.2 M11.3,32.4 C11,39 14,42 18,45 C22,48 22,50 20.9,52.9 M33.3,30.6 C30,33 25,35 22,37 C21,39 21.5,42 22.7,44.1 M38.3,37.4 C38.5,40 37,41 33,43.5 C30.5,46 31,50 34.2,53.6" transform="translate(836.8,506)" fill="none" stroke="#7d3090" stroke-width="1.5" stroke-linecap="round"/>
<text x="955.0" y="391" font-size="20.6" font-weight="bold" fill="#9d7391" text-anchor="middle">AnaM1</text>
<rect x="917.5" y="401.3" width="75.0" height="27.3" fill="#9b7592"/>
<path d="M952.3,436.5 h5.4 v34.5 h3.1 L955.0,501 L949.2,471 h3.1 z" fill="#9b7592"/>
<path d="M4.3,25.7 C9,23 13,21.5 17,23.5 S25,29 29.3,25.4 M24.1,10.8 C32,12 36,17 38,23 C40,28 40.5,33 44,38 L48.4,43.2 M44.3,6.1 C47,11 47.5,15 44,18 C40,21 39,24 40,27 C43,27.5 46,27.5 47.9,27.2 M11.3,32.4 C11,39 14,42 18,45 C22,48 22,50 20.9,52.9 M33.3,30.6 C30,33 25,35 22,37 C21,39 21.5,42 22.7,44.1 M38.3,37.4 C38.5,40 37,41 33,43.5 C30.5,46 31,50 34.2,53.6" transform="translate(924.3,506)" fill="none" stroke="#7d3090" stroke-width="1.5" stroke-linecap="round"/>
<text x="1041.5" y="391" font-size="20.6" font-weight="bold" fill="#9d7391" text-anchor="middle">AnaM2</text>
<rect x="1004" y="401.3" width="75.0" height="27.3" fill="#9b7592"/>
<path d="M1038.8,436.5 h5.4 v34.5 h3.1 L1041.5,501 L1035.7,471 h3.1 z" fill="#9b7592"/>
<path d="M4.3,25.7 C9,23 13,21.5 17,23.5 S25,29 29.3,25.4 M24.1,10.8 C32,12 36,17 38,23 C40,28 40.5,33 44,38 L48.4,43.2 M44.3,6.1 C47,11 47.5,15 44,18 C40,21 39,24 40,27 C43,27.5 46,27.5 47.9,27.2 M11.3,32.4 C11,39 14,42 18,45 C22,48 22,50 20.9,52.9 M33.3,30.6 C30,33 25,35 22,37 C21,39 21.5,42 22.7,44.1 M38.3,37.4 C38.5,40 37,41 33,43.5 C30.5,46 31,50 34.2,53.6" transform="translate(1010.8,506)" fill="none" stroke="#7d3090" stroke-width="1.5" stroke-linecap="round"/>
<text x="1128.5" y="391" font-size="20.6" font-weight="bold" fill="#9d7391" text-anchor="middle">AnaM3</text>
<rect x="1091" y="401.3" width="75.0" height="27.3" fill="#9b7592"/>
<path d="M1125.8,436.5 h5.4 v34.5 h3.1 L1128.5,501 L1122.7,471 h3.1 z" fill="#9b7592"/>
<path d="M4.3,25.7 C9,23 13,21.5 17,23.5 S25,29 29.3,25.4 M24.1,10.8 C32,12 36,17 38,23 C40,28 40.5,33 44,38 L48.4,43.2 M44.3,6.1 C47,11 47.5,15 44,18 C40,21 39,24 40,27 C43,27.5 46,27.5 47.9,27.2 M11.3,32.4 C11,39 14,42 18,45 C22,48 22,50 20.9,52.9 M33.3,30.6 C30,33 25,35 22,37 C21,39 21.5,42 22.7,44.1 M38.3,37.4 C38.5,40 37,41 33,43.5 C30.5,46 31,50 34.2,53.6" transform="translate(1097.8,506)" fill="none" stroke="#7d3090" stroke-width="1.5" stroke-linecap="round"/>
<rect x="28" y="581.5" width="309.5" height="76.0" rx="11" fill="#fcedf5" stroke="#bba6d8" stroke-width="1.5"/>
<rect x="356" y="581.5" width="240.0" height="76.0" rx="11" fill="#fcedf5" stroke="#bba6d8" stroke-width="1.5"/>
<rect x="618.5" y="581.5" width="203.5" height="76.0" rx="11" fill="#fcedf5" stroke="#bba6d8" stroke-width="1.5"/>
<rect x="845" y="581.5" width="325.5" height="77.5" rx="18" fill="#fcedf5" stroke="#bba6d8" stroke-width="1.5"/>
<text x="45" y="610" font-size="20.9" font-weight="bold" fill="#000" text-anchor="start" >Total protein extraction and</text>
<text x="45" y="641.5" font-size="20.9" font-weight="bold" fill="#000" text-anchor="start" >experimental prediction/sample</text>
<text x="372.5" y="610" font-size="20.9" font-weight="bold" fill="#000" text-anchor="start" >Cysteines reduction and</text>
<text x="372.5" y="641.5" font-size="20.9" font-weight="bold" fill="#000" text-anchor="start" >alkylation/sample</text>
<text x="623.7" y="625" font-size="20.9" font-weight="bold" fill="#000" text-anchor="start" >Tryptic digest/sample</text>
<text x="864.5" y="610" font-size="20.9" font-weight="bold" fill="#000" text-anchor="start" >Label peptides withTMT reagents</text>
<text x="849" y="641" font-size="20.9" font-weight="bold" fill="#000" text-anchor="start" >and combine,in equal proportion.</text>
<rect x="23.8" y="1373.5" width="265.0" height="75.5" rx="12" fill="#fcedf5" stroke="#b09ccf" stroke-width="2.4"/>
<rect x="399" y="1373.5" width="264.5" height="75.5" rx="12" fill="#fcedf5" stroke="#b09ccf" stroke-width="2.4"/>
<rect x="749.5" y="1373.5" width="437.0" height="75.5" rx="12" fill="#fcedf5" stroke="#b09ccf" stroke-width="2.4"/>
<text x="151.3" y="1416.7" font-size="20.8" font-weight="bold" fill="#000" text-anchor="middle">TMT Labeling</text>
<text x="532.1" y="1416" font-size="20.8" font-weight="bold" fill="#000" text-anchor="middle">Analysis by LC-MS/MS</text>
<text x="772.9" y="1400.7" font-size="20.85" font-weight="bold" fill="#000">Protein identification and quantitation,</text>
<text x="772.9" y="1433" font-size="20.85" font-weight="bold" fill="#000">bioinformatics and experimental verification.</text>
<path d="M314.6,647.9 C315.6,669.9 329.3,693.8 350.0,693.8 C366.3,693.8 373.5,682.0 377.9,672.5 L390.8,682.5 C381.3,669.5 380.2,657.6 379.2,649.6 C371.2,656.6 360.3,661.2 348.3,664.2 L365.0,666.7 C358.0,677.2 354.0,679.2 350.0,679.2 C333.5,679.2 321.0,661.8 314.6,647.9 Z" fill="#f9e7f2" stroke="#ad7b50" stroke-width="2.1" stroke-linejoin="miter"/>
<path d="M577.0,649.0 C578.0,671.0 591.7,694.9 612.4,694.9 C628.7,694.9 635.9,683.1 640.3,673.6 L653.2,683.6 C643.7,670.6 642.6,658.7 641.6,650.7 C633.6,657.7 622.7,662.3 610.7,665.3 L627.4,667.8 C620.4,678.3 616.4,680.3 612.4,680.3 C595.9,680.3 583.4,662.9 577.0,649.0 Z" fill="#f9e7f2" stroke="#ad7b50" stroke-width="2.1" stroke-linejoin="miter"/>
<path d="M806.5,650.5 C807.5,672.5 821.2,696.4 841.9,696.4 C858.2,696.4 865.4,684.6 869.8,675.1 L882.7,685.1 C873.2,672.1 872.1,660.2 871.1,652.2 C863.1,659.2 852.2,663.8 840.2,666.8 L856.9,669.3 C849.9,679.8 845.9,681.8 841.9,681.8 C825.4,681.8 812.9,664.4 806.5,650.5 Z" fill="#f9e7f2" stroke="#ad7b50" stroke-width="2.1" stroke-linejoin="miter"/>
<path d="M305.0,1416.5 C306.0,1438.5 319.7,1462.3 340.4,1462.3 C356.7,1462.3 363.9,1450.6 368.3,1441.1 L381.2,1451.1 C371.7,1438.1 370.6,1426.2 369.6,1418.2 C361.6,1425.2 350.7,1429.8 338.7,1432.8 L355.4,1435.3 C348.4,1445.8 344.4,1447.8 340.4,1447.8 C323.9,1447.8 311.4,1430.4 305.0,1416.5 Z" fill="#f9e7f2" stroke="#ad7b50" stroke-width="2.1" stroke-linejoin="miter"/>
<path d="M670.4,1416.5 C671.4,1438.5 685.1,1462.3 705.8,1462.3 C722.1,1462.3 729.3,1450.6 733.7,1441.1 L746.6,1451.1 C737.1,1438.1 736.0,1426.2 735.0,1418.2 C727.0,1425.2 716.1,1429.8 704.1,1432.8 L720.8,1435.3 C713.8,1445.8 709.8,1447.8 705.8,1447.8 C689.3,1447.8 676.8,1430.4 670.4,1416.5 Z" fill="#f9e7f2" stroke="#ad7b50" stroke-width="2.1" stroke-linejoin="miter"/>
<rect x="26.5" y="738.5" width="219" height="292.5" fill="#fff"/>
<rect x="135.6" y="777" width="109" height="35.0" fill="#8bc84f"/>
<rect x="135.6" y="812" width="109" height="36.0" fill="#8bc84f"/>
<rect x="135.6" y="848" width="109" height="37.0" fill="#f9d162"/>
<rect x="135.6" y="885" width="109" height="36.6" fill="#f9d162"/>
<rect x="135.6" y="921.6" width="109" height="36.4" fill="#8bc84f"/>
<rect x="135.6" y="958" width="109" height="36.6" fill="#f9d162"/>
<rect x="135.6" y="994.6" width="109" height="36.4" fill="#e46d71"/>
<path d="M27,812.0 H245" stroke="#8d8d88" stroke-width="1.2"/>
<path d="M27,848.0 H245" stroke="#8d8d88" stroke-width="1.2"/>
<path d="M27,885.0 H245" stroke="#8d8d88" stroke-width="1.2"/>
<path d="M27,921.6 H245" stroke="#8d8d88" stroke-width="1.2"/>
<path d="M27,958.0 H245" stroke="#8d8d88" stroke-width="1.2"/>
<path d="M27,994.6 H245" stroke="#8d8d88" stroke-width="1.2"/>
<path d="M135.6,777 V1032.5" stroke="#8d8d88" stroke-width="1"/>
<path d="M26.5,775 H245.5" stroke="#9b9b93" stroke-width="3.5"/>
<rect x="26" y="738.5" width="220" height="292.5" fill="none" stroke="#9b9b93" stroke-width="3" rx="1"/>
<text x="144" y="764.4" font-size="20.5" font-weight="bold" fill="#55554f" text-anchor="middle">TMT 1</text>
<text x="32.8" y="802.3" font-size="16.2" font-weight="bold" fill="#55554f">TMT10-126</text>
<text x="160.3" y="805" font-size="18.5" font-weight="bold" fill="#55554f">pTelF1</text>
<text x="32.8" y="838.3" font-size="16.2" font-weight="bold" fill="#55554f">TMT10-127N</text>
<text x="160.3" y="836.7" font-size="18.5" font-weight="bold" fill="#55554f">pTelM1</text>
<text x="32.8" y="876" font-size="16.2" font-weight="bold" fill="#55554f">TMT10-127C</text>
<text x="160.3" y="876" font-size="18.5" font-weight="bold" fill="#55554f">pAnaF1</text>
<text x="32.8" y="913" font-size="16.2" font-weight="bold" fill="#55554f">TMT10-128C</text>
<text x="160.3" y="914" font-size="18.5" font-weight="bold" fill="#55554f">pAnaM1</text>
<text x="32.8" y="949" font-size="16.2" font-weight="bold" fill="#55554f">TMT10-129N</text>
<text x="160.3" y="945.6" font-size="18.5" font-weight="bold" fill="#55554f">pTelF3</text>
<text x="32.8" y="986.4" font-size="16.2" font-weight="bold" fill="#55554f">TMT10-129C</text>
<text x="160.3" y="983.6" font-size="18.5" font-weight="bold" fill="#55554f">pAnaF3</text>
<text x="32.8" y="1023" font-size="16.2" font-weight="bold" fill="#55554f">TMT10-130N</text>
<text x="160.3" y="1018" font-size="18.5" font-weight="bold" fill="#55554f">Ref1</text>
<rect x="26.5" y="1053.9" width="219" height="294.0999999999999" fill="#fff"/>
<rect x="135.6" y="1091.7" width="109" height="35.3" fill="#8bc84f"/>
<rect x="135.6" y="1127" width="109" height="36.8" fill="#8bc84f"/>
<rect x="135.6" y="1163.8" width="109" height="36.9" fill="#f9d162"/>
<rect x="135.6" y="1200.7" width="109" height="36.8" fill="#f9d162"/>
<rect x="135.6" y="1237.5" width="109" height="36.8" fill="#8bc84f"/>
<rect x="135.6" y="1274.3" width="109" height="36.7" fill="#f9d162"/>
<rect x="135.6" y="1311" width="109" height="36.0" fill="#e46d71"/>
<path d="M27,1127.0 H245" stroke="#8d8d88" stroke-width="1.2"/>
<path d="M27,1163.8 H245" stroke="#8d8d88" stroke-width="1.2"/>
<path d="M27,1200.7 H245" stroke="#8d8d88" stroke-width="1.2"/>
<path d="M27,1237.5 H245" stroke="#8d8d88" stroke-width="1.2"/>
<path d="M27,1274.3 H245" stroke="#8d8d88" stroke-width="1.2"/>
<path d="M27,1311.0 H245" stroke="#8d8d88" stroke-width="1.2"/>
<path d="M135.6,1091.7 V1349.5" stroke="#8d8d88" stroke-width="1"/>
<path d="M26.5,1090.3 H245.5" stroke="#9b9b93" stroke-width="3.5"/>
<rect x="26" y="1053.9" width="220" height="294.0999999999999" fill="none" stroke="#9b9b93" stroke-width="3" rx="1"/>
<text x="144" y="1079" font-size="20.5" font-weight="bold" fill="#55554f" text-anchor="middle">TMT 2</text>
<text x="32.8" y="1117.6" font-size="16.2" font-weight="bold" fill="#55554f">TMT10-126</text>
<text x="160.3" y="1119.7" font-size="18.5" font-weight="bold" fill="#55554f">pTelF2</text>
<text x="32.8" y="1154.4" font-size="16.2" font-weight="bold" fill="#55554f">TMT10-127N</text>
<text x="160.3" y="1151.2" font-size="18.5" font-weight="bold" fill="#55554f">pTelM2</text>
<text x="32.8" y="1191.2" font-size="16.2" font-weight="bold" fill="#55554f">TMT10-127C</text>
<text x="160.3" y="1191.2" font-size="18.5" font-weight="bold" fill="#55554f">pAnaF2</text>
<text x="32.8" y="1228" font-size="16.2" font-weight="bold" fill="#55554f">TMT10-128C</text>
<text x="160.3" y="1229" font-size="18.5" font-weight="bold" fill="#55554f">pAnaM2</text>
<text x="32.8" y="1264.8" font-size="16.2" font-weight="bold" fill="#55554f">TMT10-129N</text>
<text x="160.3" y="1261.7" font-size="18.5" font-weight="bold" fill="#55554f">pTelM3</text>
<text x="32.8" y="1302.7" font-size="16.2" font-weight="bold" fill="#55554f">TMT10-129C</text>
<text x="160.3" y="1297.4" font-size="18.5" font-weight="bold" fill="#55554f">pAnaM3</text>
<text x="32.8" y="1338.4" font-size="16.2" font-weight="bold" fill="#55554f">TMT10-130N</text>
<text x="160.3" y="1334.2" font-size="18.5" font-weight="bold" fill="#55554f">Ref2</text>
<path d="M263.2,796.3 H335.5 V793.7 L412,801.9 L335.5,810.2 V807.5 H263.2 Z" fill="#b9dce6"/>
<path d="M263.2,1274.6 H335.5 V1272.0 L412,1280.2 L335.5,1288.5 V1285.8 H263.2 Z" fill="#b9dce6"/>
<path d="M581.9,866.6 H590.4 V897.5 H592.4 L586.6,929.4 L580.2,897.5 H581.9 Z" fill="#b9dce6"/>
<path d="M584.5,1222.9 H593.1 V1193.8 H595.1 L588.5,1161.5 L582.9,1193.8 H584.5 Z" fill="#b9dce6"/>
<path d="M633,1038.4 H740.4 V772.6 H791.4 V771.5 L845.7,777.3 L791.4,783.4 V781.7 H747.6 V1045 H633 Z" fill="#b9dce6"/>
<path d="M975,866.5 H994.3 V882 H998.4 L985.4,897 L971.1,882 H975 Z" fill="#b9dce6"/>
<path d="M976.6,981.6 H995.8 V997.1 H999.5 L986.4,1013 L972.4,997.1 H976.6 Z" fill="#b9dce6"/>
<path d="M976.25,1179.6 H995.4 V1195 H999.2 L986.5,1210.4 L972.9,1195 H976.25 Z" fill="#b9dce6"/>
<g transform="translate(0,0)">
<circle cx="487.4" cy="805" r="57.6" fill="#fff" stroke="#555" stroke-width="1.3"/>
<text x="488.7" y="808.8" font-size="18.6" font-weight="bold" fill="#55554f" text-anchor="middle">1:1 Mixing</text>
<path d="M576.3,782 L576.6,811 C577,822 583,836 585,840 C586,843 588,843 589,840 C591,836 596.5,822 596.9,811 L596.9,782 Z" fill="#b6dcef" stroke="#7d8c93" stroke-width="1"/>
<path d="M579,785 L579.3,811 C580,820 584,832 586.5,838" stroke="#e2f3fb" stroke-width="1.5" fill="none"/>
<rect x="576.1" y="777.4" width="20.8" height="5" fill="#d3d8da" stroke="#7d8c93" stroke-width="0.8"/>
<rect x="570.6" y="773.2" width="29" height="4.4" rx="2" fill="#f3f3f3" stroke="#8a8f92" stroke-width="0.9"/>
<path d="M590.3,783.5 H595 M590.3,796.4 H595 M590.3,809.4 H595" stroke="#8aa9b8" stroke-width="0.8"/>
<path d="M526.4,762 L587.1,805.4 L532,841.8" fill="none" stroke="#3a4550" stroke-width="1.1" stroke-dasharray="2.6 2.2"/>
</g>
<g transform="translate(4.4,479.5)">
<circle cx="487.4" cy="805" r="57.6" fill="#fff" stroke="#555" stroke-width="1.3"/>
<text x="488.7" y="808.8" font-size="18.6" font-weight="bold" fill="#55554f" text-anchor="middle">1:1 Mixing</text>
<path d="M576.3,782 L576.6,811 C577,822 583,836 585,840 C586,843 588,843 589,840 C591,836 596.5,822 596.9,811 L596.9,782 Z" fill="#b6dcef" stroke="#7d8c93" stroke-width="1"/>
<path d="M579,785 L579.3,811 C580,820 584,832 586.5,838" stroke="#e2f3fb" stroke-width="1.5" fill="none"/>
<rect x="576.1" y="777.4" width="20.8" height="5" fill="#d3d8da" stroke="#7d8c93" stroke-width="0.8"/>
<rect x="570.6" y="773.2" width="29" height="4.4" rx="2" fill="#f3f3f3" stroke="#8a8f92" stroke-width="0.9"/>
<path d="M590.3,783.5 H595 M590.3,796.4 H595 M590.3,809.4 H595" stroke="#8aa9b8" stroke-width="0.8"/>
<path d="M526.4,762 L587.1,805.4 L532,841.8" fill="none" stroke="#3a4550" stroke-width="1.1" stroke-dasharray="2.6 2.2"/>
</g>
<g transform="translate(380,940) scale(0.25)">
<path d="M835,84 L958,162 C962,166 962,170 962,175 L962,695 C962,702 958,706 952,710 L848,778 Z" fill="#cdcbcb" stroke="#c2c0c0" stroke-width="3"/>
<path d="M255,138 C255,122 264,116 282,114 L822,80 C842,79 856,88 858,104 L860,770 C860,776 855,779 846,778 L278,746 C263,745 255,738 255,726 Z" fill="#ececec" stroke="#cfcfcf" stroke-width="4"/>
<path d="M258,130 L258,728 L276,728 L276,126 Z" fill="#dedede"/>
<path d="M838,86 L838,776 L858,778 L858,96 Z" fill="#dcdcdc"/>
<path d="M258,268 L838,252 L962,300" fill="none" stroke="#6ccbc0" stroke-width="7"/>
<path d="M325,240 L735,226 C760,225 768,262 740,268 L328,282 C300,283 298,241 325,240 Z" fill="#6ccbc0"/>
<path d="M335,246 L738,232 C756,232 760,262 738,264 L336,280 C312,281 312,247 335,246 Z" fill="#8a8787"/>
<rect x="300" y="290" width="452" height="288" rx="26" fill="#f6f6f6" stroke="#d4d4d4" stroke-width="4"/>
<rect x="352" y="325" width="30" height="96" rx="2" fill="#cfcfcf" stroke="#bdbdbd" stroke-width="2"/>
<path d="M361.0,333 h12.0 l3,10 v55 l-3,12 l-9.0,6 l-9.0,-6 l-3,-12 v-55 z" fill="#6fd6d2" stroke="#a9a9a9" stroke-width="1.5"/>
<rect x="391.6" y="325" width="31" height="96" rx="2" fill="#cfcfcf" stroke="#bdbdbd" stroke-width="2"/>
<path d="M400.8,333 h12.6 l3,10 v55 l-3,12 l-9.3,6 l-9.3,-6 l-3,-12 v-55 z" fill="#6fd6d2" stroke="#a9a9a9" stroke-width="1.5"/>
<rect x="432.4" y="325" width="32" height="96" rx="2" fill="#cfcfcf" stroke="#bdbdbd" stroke-width="2"/>
<path d="M441.8,333 h13.2 l3,10 v55 l-3,12 l-9.6,6 l-9.6,-6 l-3,-12 v-55 z" fill="#6fd6d2" stroke="#a9a9a9" stroke-width="1.5"/>
<rect x="473.2" y="325" width="35" height="96" rx="2" fill="#cfcfcf" stroke="#bdbdbd" stroke-width="2"/>
<path d="M483.2,333 h15.0 l3,10 v55 l-3,12 l-10.5,6 l-10.5,-6 l-3,-12 v-55 z" fill="#6fd6d2" stroke="#a9a9a9" stroke-width="1.5"/>
<rect x="517.6" y="325" width="37" height="96" rx="2" fill="#cfcfcf" stroke="#bdbdbd" stroke-width="2"/>
<path d="M528.0,333 h16.2 l3,10 v55 l-3,12 l-11.1,6 l-11.1,-6 l-3,-12 v-55 z" fill="#ffffff" stroke="#a9a9a9" stroke-width="1.5"/>
<rect x="561.2" y="325" width="38" height="96" rx="2" fill="#cfcfcf" stroke="#bdbdbd" stroke-width="2"/>
<path d="M571.8,333 h16.8 l3,10 v55 l-3,12 l-11.4,6 l-11.4,-6 l-3,-12 v-55 z" fill="#ffffff" stroke="#a9a9a9" stroke-width="1.5"/>
<rect x="604.8" y="325" width="37" height="96" rx="2" fill="#cfcfcf" stroke="#bdbdbd" stroke-width="2"/>
<path d="M615.2,333 h16.2 l3,10 v55 l-3,12 l-11.1,6 l-11.1,-6 l-3,-12 v-55 z" fill="#ffffff" stroke="#a9a9a9" stroke-width="1.5"/>
<rect x="648.4" y="325" width="40" height="96" rx="2" fill="#cfcfcf" stroke="#bdbdbd" stroke-width="2"/>
<path d="M659.4,333 h18.0 l3,10 v55 l-3,12 l-12.0,6 l-12.0,-6 l-3,-12 v-55 z" fill="#ffffff" stroke="#a9a9a9" stroke-width="1.5"/>
<rect x="346" y="455" width="37" height="9" fill="#d9534f"/>
<rect x="346" y="470" width="37" height="9" fill="#f0a050"/>
<rect x="346" y="485" width="37" height="9" fill="#7fb85a"/>
<rect x="346" y="500" width="37" height="9" fill="#5ba8d8"/>
<rect x="389" y="455" width="37" height="9" fill="#d9534f"/>
<rect x="389" y="470" width="37" height="9" fill="#f0a050"/>
<rect x="389" y="485" width="37" height="9" fill="#7fb85a"/>
<rect x="389" y="500" width="37" height="9" fill="#5ba8d8"/>
<rect x="432" y="455" width="37" height="9" fill="#d9534f"/>
<rect x="432" y="470" width="37" height="9" fill="#f0a050"/>
<rect x="432" y="485" width="37" height="9" fill="#7fb85a"/>
<rect x="432" y="500" width="37" height="9" fill="#5ba8d8"/>
<rect x="475" y="455" width="37" height="9" fill="#d9534f"/>
<rect x="475" y="470" width="37" height="9" fill="#f0a050"/>
<rect x="475" y="485" width="37" height="9" fill="#7fb85a"/>
<rect x="475" y="500" width="37" height="9" fill="#5ba8d8"/>
<rect x="518" y="455" width="37" height="9" fill="#d9534f"/>
<rect x="518" y="470" width="37" height="9" fill="#f0a050"/>
<rect x="518" y="485" width="37" height="9" fill="#7fb85a"/>
<rect x="518" y="500" width="37" height="9" fill="#5ba8d8"/>
<rect x="561" y="455" width="37" height="9" fill="#d9534f"/>
<rect x="561" y="470" width="37" height="9" fill="#f0a050"/>
<rect x="561" y="485" width="37" height="9" fill="#7fb85a"/>
<rect x="561" y="500" width="37" height="9" fill="#5ba8d8"/>
<rect x="604" y="455" width="37" height="9" fill="#d0d0d0"/>
<rect x="604" y="470" width="37" height="9" fill="#d0d0d0"/>
<rect x="604" y="485" width="37" height="9" fill="#d0d0d0"/>
<rect x="604" y="500" width="37" height="9" fill="#d0d0d0"/>
<rect x="647" y="455" width="37" height="9" fill="#d0d0d0"/>
<rect x="647" y="470" width="37" height="9" fill="#d0d0d0"/>
<rect x="647" y="485" width="37" height="9" fill="#d0d0d0"/>
<rect x="647" y="500" width="37" height="9" fill="#d0d0d0"/>
<rect x="300" y="590" width="455" height="148" rx="22" fill="#ebebeb" stroke="#d0d0d0" stroke-width="4"/>
<path d="M296,746 h70 v10 q0,8 -10,8 h-50 q-10,0 -10,-8 z" fill="#8b8b8b"/>
<path d="M750,779 h75 v8 q0,8 -10,8 h-55 q-10,0 -10,-8 z" fill="#8b8b8b"/>
</g>
<rect x="854.6" y="740.2" width="154.7" height="89.7" fill="#fff" stroke="#9a9a9a" stroke-width="0.9"/>
<path d="M852.6,740.2h2M852.6,746.6h2M852.6,753.0h2M852.6,759.4h2M852.6,765.8h2M852.6,772.2h2M852.6,778.6h2M852.6,785.0h2M852.6,791.5h2M852.6,797.9h2M852.6,804.3h2M852.6,810.7h2M852.6,817.1h2M852.6,823.5h2M852.6,829.9h2M854.6,829.9v2M862.7,829.9v2M870.9,829.9v2M879.0,829.9v2M887.2,829.9v2M895.3,829.9v2M903.5,829.9v2M911.6,829.9v2M919.7,829.9v2M927.9,829.9v2M936.0,829.9v2M944.2,829.9v2M952.3,829.9v2M960.4,829.9v2M968.6,829.9v2M976.7,829.9v2M984.9,829.9v2M993.0,829.9v2M1001.2,829.9v2M1009.3,829.9v2" stroke="#999" stroke-width="0.6"/>
<path d="M854.6,817.1 L856.1,816.2 L857.6,816.8 L859.1,816.5 L860.5,815.9 L862.0,816.4 L863.1,752.7 L864.7,752.7 L866.2,752.7 L866.5,809.3 L867.7,807.2 L869.1,814.3 L870.5,814.4 L871.9,815.7 L872.6,799.4 L874.7,800.8 L876.9,793.7 L878.3,795.2 L879.0,754.1 L880.4,753.4 L881.1,771.1 L882.1,790.9 L884.0,809.3 L885.7,811.5 L887.5,815.0 L888.9,814.0 L890.3,813.6 L891.7,813.9 L893.2,815.1 L894.6,816.4 L896.0,816.0 L897.4,816.8 L898.8,816.2 L900.2,816.3 L901.7,816.7 L903.0,815.9 L904.3,816.4 L905.6,816.9 L907.0,817.0 L908.3,816.1 L909.6,815.9 L911.0,817.1 L912.3,816.8 L913.6,816.5 L914.9,816.1 L916.3,816.8 L917.6,816.9 L918.9,816.1 L920.3,817.0 L921.6,817.0 L922.9,816.7 L925.0,803.7 L927.2,792.3 L927.4,752.7 L929.0,752.7 L930.5,752.7 L932.0,752.7 L933.5,752.7 L934.0,809.3 L935.7,812.2 L937.1,806.9 L938.5,809.3 L939.9,811.3 L941.3,805.1 L942.7,803.7 L944.2,806.5 L946.3,796.6 L947.7,808.6 L949.8,802.2 L951.2,805.7 L952.7,809.3 L954.1,811.4 L955.5,812.9 L956.9,806.1 L958.3,806.5 L959.7,809.1 L961.2,812.2 L962.6,812.4 L964.0,804.5 L965.4,802.0 L966.8,802.2 L968.2,799.9 L969.7,799.4 L971.1,800.9 L972.5,809.3 L973.9,807.8 L975.3,812.2 L976.7,812.2 L978.2,812.9 L979.6,806.3 L981.0,810.7 L982.4,810.8 L983.8,806.8 L985.2,806.2 L986.7,810.7 L988.1,806.8 L989.5,806.5 L990.9,796.6 L992.3,809.3 L993.7,815.6 L995.2,815.0 L996.6,815.1 L998.0,815.1 L999.4,814.8 L1000.8,815.7 L1002.2,815.5 L1003.7,815.6 L1005.1,816.4 L1006.5,816.9 L1007.9,816.7 L1009.3,817.1" fill="none" stroke="#666" stroke-width="0.75" stroke-linejoin="round"/>
<path d="M857.6,738.7h10 M927.0,738.7h10 M993.3,738.7h14" stroke="#bbb" stroke-width="1"/>
<rect x="1019.5" y="740.8" width="165.0" height="92.4" fill="#fff" stroke="#9a9a9a" stroke-width="0.9"/>
<path d="M1017.5,740.8h2M1017.5,747.4h2M1017.5,754.0h2M1017.5,760.6h2M1017.5,767.2h2M1017.5,773.8h2M1017.5,780.4h2M1017.5,787.0h2M1017.5,793.6h2M1017.5,800.2h2M1017.5,806.8h2M1017.5,813.4h2M1017.5,820.0h2M1017.5,826.6h2M1017.5,833.2h2M1019.5,833.2v2M1028.2,833.2v2M1036.9,833.2v2M1045.6,833.2v2M1054.2,833.2v2M1062.9,833.2v2M1071.6,833.2v2M1080.3,833.2v2M1089.0,833.2v2M1097.7,833.2v2M1106.3,833.2v2M1115.0,833.2v2M1123.7,833.2v2M1132.4,833.2v2M1141.1,833.2v2M1149.8,833.2v2M1158.4,833.2v2M1167.1,833.2v2M1175.8,833.2v2M1184.5,833.2v2" stroke="#999" stroke-width="0.6"/>
<path d="M1019.5,820.0 L1021.0,819.6 L1022.5,819.3 L1024.0,819.4 L1025.5,819.1 L1027.0,820.0 L1028.2,754.0 L1029.8,754.0 L1031.5,754.0 L1031.8,811.0 L1033.0,818.5 L1034.5,817.4 L1036.0,817.7 L1037.5,817.0 L1039.0,817.9 L1040.5,819.2 L1042.0,814.0 L1043.5,779.5 L1045.3,755.5 L1046.5,760.0 L1048.0,769.0 L1049.5,793.0 L1051.7,808.0 L1053.6,812.5 L1055.5,817.0 L1057.0,816.7 L1058.5,817.1 L1060.0,817.8 L1061.5,818.1 L1063.0,819.2 L1064.5,819.2 L1065.9,819.1 L1067.2,819.7 L1068.6,819.8 L1070.0,819.3 L1071.3,819.2 L1072.7,819.0 L1074.0,819.7 L1075.4,820.1 L1076.8,819.7 L1078.1,819.2 L1079.5,820.0 L1080.8,819.9 L1082.2,819.7 L1083.5,819.2 L1084.9,819.8 L1086.2,820.1 L1087.6,819.8 L1088.9,819.9 L1090.3,819.7 L1091.6,819.6 L1093.0,819.2 L1094.5,809.1 L1096.0,799.0 L1098.2,754.0 L1099.7,754.0 L1101.2,754.0 L1102.7,754.0 L1104.2,754.0 L1105.0,811.0 L1106.5,812.5 L1108.0,814.0 L1109.5,811.1 L1111.0,809.5 L1112.5,805.5 L1114.0,808.0 L1115.5,800.5 L1117.0,812.5 L1118.5,809.5 L1120.0,808.0 L1121.5,809.0 L1123.0,814.0 L1124.5,809.8 L1126.0,815.6 L1127.5,814.6 L1129.0,811.0 L1130.5,814.1 L1132.0,814.0 L1133.5,813.6 L1135.0,808.8 L1136.5,809.8 L1138.0,805.0 L1139.5,814.0 L1141.7,803.5 L1144.0,812.5 L1145.5,814.2 L1147.0,815.5 L1148.5,815.3 L1150.0,818.9 L1151.5,816.3 L1153.0,817.0 L1154.5,817.0 L1156.0,813.3 L1157.5,814.1 L1159.0,814.0 L1160.5,806.9 L1162.0,798.6 L1163.5,797.5 L1165.0,809.5 L1166.5,815.9 L1168.0,818.5 L1169.5,819.2 L1171.0,815.4 L1172.5,821.5 L1174.0,820.0 L1175.5,820.0 L1177.0,819.1 L1178.5,820.1 L1180.0,820.3 L1181.5,819.4 L1183.0,820.0 L1184.5,820.0" fill="none" stroke="#666" stroke-width="0.75" stroke-linejoin="round"/>
<path d="M1022.5,739.3h10 M1097.0,739.3h10 M1168.5,739.3h14" stroke="#bbb" stroke-width="1"/>
<rect x="788.5" y="902.5" width="397.5" height="68.5" fill="#fff" stroke="#4472c4" stroke-width="2"/>
<rect x="788.5" y="902.5" width="397.5" height="44" fill="#4472c4"/>
<text x="826.7" y="927" font-size="8.4" font-weight="bold" fill="#fff" text-anchor="middle" xml:space="preserve">Total  Spectrum</text>
<text x="902.9" y="927" font-size="8.4" font-weight="bold" fill="#fff" text-anchor="middle" xml:space="preserve">Identified  Spectrum</text>
<text x="983" y="927" font-size="8.4" font-weight="bold" fill="#fff" text-anchor="middle" xml:space="preserve">Peptide number</text>
<text x="1058.3" y="927" font-size="8.4" font-weight="bold" fill="#fff" text-anchor="middle" xml:space="preserve">Protein number</text>
<text x="1137.9" y="927" font-size="8.4" font-weight="bold" fill="#fff" text-anchor="middle" xml:space="preserve">Protein group number</text>
<text x="826.9" y="960" font-size="9" fill="#333" text-anchor="middle" font-family="Liberation Sans, sans-serif">1167938</text>
<text x="902.1" y="960" font-size="9" fill="#333" text-anchor="middle" font-family="Liberation Sans, sans-serif">129031</text>
<text x="982.5" y="960" font-size="9" fill="#333" text-anchor="middle" font-family="Liberation Sans, sans-serif">36410</text>
<text x="1057.7" y="960" font-size="9" fill="#333" text-anchor="middle" font-family="Liberation Sans, sans-serif">11396</text>
<text x="1138.2" y="960" font-size="9" fill="#333" text-anchor="middle" font-family="Liberation Sans, sans-serif">4942</text>
<path d="M815.4,1031.4 V1161.5 H946 M870.4,1031.4 V1161.5 M891.3,1031.4 V1161.5 M815.4,1138.3 H946" stroke="#666" stroke-width="0.7" fill="none"/>
<path d="M813.4,1161.5h2M813.4,1143.7h2M813.4,1125.9h2M813.4,1108.1h2M813.4,1090.3h2M813.4,1072.5h2M813.4,1054.7h2M813.4,1036.9h2M820,1161.5v2M840.5,1161.5v2M860.7,1161.5v2M880.9,1161.5v2M901,1161.5v2M921.7,1161.5v2M941.3,1161.5v2" stroke="#666" stroke-width="0.6"/>
<text x="811" y="1162.8" font-size="3.6" fill="#777" text-anchor="end" font-family="Liberation Sans, sans-serif">0</text>
<text x="811" y="1145.0" font-size="3.6" fill="#777" text-anchor="end" font-family="Liberation Sans, sans-serif">1</text>
<text x="811" y="1127.2" font-size="3.6" fill="#777" text-anchor="end" font-family="Liberation Sans, sans-serif">2</text>
<text x="811" y="1109.4" font-size="3.6" fill="#777" text-anchor="end" font-family="Liberation Sans, sans-serif">3</text>
<text x="811" y="1091.6" font-size="3.6" fill="#777" text-anchor="end" font-family="Liberation Sans, sans-serif">4</text>
<text x="811" y="1073.8" font-size="3.6" fill="#777" text-anchor="end" font-family="Liberation Sans, sans-serif">5</text>
<text x="811" y="1056.0" font-size="3.6" fill="#777" text-anchor="end" font-family="Liberation Sans, sans-serif">6</text>
<text x="811" y="1038.2" font-size="3.6" fill="#777" text-anchor="end" font-family="Liberation Sans, sans-serif">7</text>
<text x="820" y="1167.5" font-size="3.6" fill="#777" text-anchor="middle" font-family="Liberation Sans, sans-serif">-2</text>
<text x="840.5" y="1167.5" font-size="3.6" fill="#777" text-anchor="middle" font-family="Liberation Sans, sans-serif">-1</text>
<text x="860.7" y="1167.5" font-size="3.6" fill="#777" text-anchor="middle" font-family="Liberation Sans, sans-serif">-0</text>
<text x="880.9" y="1167.5" font-size="3.6" fill="#777" text-anchor="middle" font-family="Liberation Sans, sans-serif">0</text>
<text x="901" y="1167.5" font-size="3.6" fill="#777" text-anchor="middle" font-family="Liberation Sans, sans-serif">0</text>
<text x="921.7" y="1167.5" font-size="3.6" fill="#777" text-anchor="middle" font-family="Liberation Sans, sans-serif">1</text>
<text x="941.3" y="1167.5" font-size="3.6" fill="#777" text-anchor="middle" font-family="Liberation Sans, sans-serif">2</text>
<text x="0" y="0" font-size="5" fill="#666" text-anchor="middle" font-family="Liberation Sans, sans-serif" transform="translate(799.5,1102.5) rotate(-90)">-log10(pvalue)</text>
<text x="881.4" y="1174" font-size="5.4" fill="#666" text-anchor="middle" font-family="Liberation Sans, sans-serif">log2(FoldChange)</text>
<path d="M879.9,1158.3h0.9M880.0,1158.7h0.9M882.4,1158.6h0.9M872.3,1131.3h0.9M884.0,1140.2h0.9M880.1,1154.6h0.9M886.7,1150.7h0.9M885.0,1137.1h0.9M881.7,1146.9h0.9M871.9,1134.7h0.9M879.3,1159.0h0.9M879.5,1147.2h0.9M885.0,1151.0h0.9M882.3,1144.7h0.9M872.8,1144.6h0.9M885.2,1130.1h0.9M881.3,1159.4h0.9M880.4,1160.8h0.9M879.1,1148.7h0.9M877.0,1110.4h0.9M887.3,1144.8h0.9M880.7,1159.2h0.9M881.9,1161.1h0.9M889.4,1141.8h0.9M875.7,1153.1h0.9M882.0,1153.6h0.9M876.1,1144.6h0.9M881.6,1157.5h0.9M885.9,1145.9h0.9M880.9,1161.4h0.9M886.6,1142.1h0.9M881.4,1159.5h0.9M880.3,1157.6h0.9M888.8,1145.4h0.9M876.7,1145.8h0.9M880.7,1157.2h0.9M879.5,1155.0h0.9M880.1,1160.5h0.9M878.7,1150.7h0.9M880.6,1159.9h0.9M883.1,1153.2h0.9M877.8,1146.9h0.9M877.1,1154.5h0.9M883.5,1150.2h0.9M879.2,1157.9h0.9M882.8,1154.2h0.9M876.2,1150.0h0.9M872.6,1139.2h0.9M882.8,1111.6h0.9M890.0,1135.3h0.9M878.1,1156.5h0.9M880.3,1144.3h0.9M884.2,1159.9h0.9M876.0,1142.4h0.9M881.4,1144.7h0.9M875.2,1139.0h0.9M876.8,1148.4h0.9M878.6,1149.9h0.9M891.9,1134.3h0.9M880.3,1151.0h0.9M875.8,1138.4h0.9M878.3,1148.1h0.9M869.8,1135.5h0.9M881.2,1161.4h0.9M877.7,1152.9h0.9M876.9,1120.1h0.9M888.8,1143.0h0.9M884.3,1131.8h0.9M877.1,1150.5h0.9M883.6,1144.9h0.9M879.3,1155.7h0.9M884.2,1148.6h0.9M873.0,1142.2h0.9M881.1,1157.4h0.9M873.2,1139.5h0.9M891.3,1126.2h0.9M877.2,1150.7h0.9M890.2,1129.9h0.9M889.5,1138.2h0.9M880.2,1151.3h0.9M883.4,1152.2h0.9M882.9,1152.7h0.9M880.5,1157.9h0.9M881.6,1158.2h0.9M888.5,1135.1h0.9M873.8,1126.8h0.9M880.1,1133.5h0.9M874.0,1148.2h0.9M883.3,1154.6h0.9M886.8,1143.1h0.9M887.9,1144.2h0.9M878.7,1157.4h0.9M882.3,1157.5h0.9M875.2,1142.6h0.9M873.9,1142.5h0.9M885.3,1137.1h0.9M879.7,1149.2h0.9M875.2,1141.2h0.9M873.2,1142.8h0.9M877.2,1136.5h0.9M880.7,1160.9h0.9M871.7,1133.4h0.9M882.1,1155.9h0.9M891.5,1137.2h0.9M886.7,1148.0h0.9M879.0,1156.9h0.9M879.3,1154.6h0.9M882.9,1153.0h0.9M870.2,1124.8h0.9M882.3,1160.2h0.9M886.2,1118.8h0.9M889.4,1132.0h0.9M881.3,1159.3h0.9M880.3,1160.5h0.9M887.9,1137.2h0.9M880.1,1160.1h0.9M875.3,1149.9h0.9M878.2,1149.6h0.9M873.2,1139.5h0.9M887.3,1137.4h0.9M879.4,1145.1h0.9M886.3,1141.0h0.9M880.9,1160.7h0.9M880.8,1161.1h0.9M871.0,1133.9h0.9M880.8,1159.4h0.9M886.7,1148.9h0.9M873.3,1139.8h0.9M879.9,1157.8h0.9M878.3,1154.6h0.9M889.3,1144.2h0.9M878.5,1153.2h0.9M888.0,1138.2h0.9M891.2,1130.4h0.9M880.2,1160.1h0.9M884.6,1147.8h0.9M881.2,1160.1h0.9M874.7,1148.2h0.9M892.1,1130.9h0.9M878.4,1153.0h0.9M879.2,1155.5h0.9M889.8,1119.1h0.9M886.9,1148.2h0.9M874.1,1138.3h0.9M884.5,1125.5h0.9M885.2,1145.1h0.9M881.4,1144.5h0.9M880.9,1157.7h0.9M884.3,1147.5h0.9M886.2,1145.0h0.9M880.2,1155.2h0.9M883.0,1147.7h0.9M880.7,1161.0h0.9M880.9,1158.4h0.9M880.9,1159.8h0.9M870.8,1127.8h0.9M884.6,1155.5h0.9M891.1,1134.8h0.9M873.0,1144.8h0.9M885.3,1151.1h0.9M880.8,1160.4h0.9M880.3,1151.9h0.9M876.1,1149.8h0.9M891.1,1134.4h0.9M891.9,1129.4h0.9M879.9,1116.9h0.9M882.0,1158.9h0.9M878.0,1155.0h0.9M874.3,1141.5h0.9M888.4,1144.7h0.9M886.8,1134.0h0.9M873.2,1136.2h0.9M882.1,1158.1h0.9M882.8,1151.0h0.9M874.7,1132.7h0.9M876.5,1153.7h0.9M881.5,1160.1h0.9M881.5,1157.4h0.9M885.5,1146.1h0.9M886.4,1115.4h0.9M888.1,1140.3h0.9M870.0,1126.9h0.9M878.9,1148.5h0.9M869.9,1129.9h0.9M880.8,1161.1h0.9M884.6,1146.5h0.9M887.0,1113.4h0.9M883.7,1152.3h0.9M880.8,1149.3h0.9M889.9,1135.0h0.9M878.9,1145.3h0.9M882.4,1155.2h0.9M880.3,1144.5h0.9M880.4,1153.8h0.9M889.5,1143.6h0.9M882.1,1159.1h0.9M884.6,1142.2h0.9M880.5,1153.5h0.9M873.4,1134.9h0.9M870.3,1131.8h0.9M890.1,1135.0h0.9M887.8,1140.6h0.9M888.3,1130.2h0.9M880.2,1149.9h0.9M881.0,1148.2h0.9M883.0,1153.8h0.9M890.3,1136.0h0.9M873.8,1145.8h0.9M881.2,1155.3h0.9M885.7,1148.7h0.9M882.4,1155.0h0.9M889.6,1137.0h0.9M890.4,1140.2h0.9M882.6,1155.5h0.9M890.8,1136.5h0.9M869.6,1134.4h0.9M883.1,1141.9h0.9M881.9,1157.7h0.9M885.0,1147.9h0.9M880.1,1158.9h0.9M887.0,1127.8h0.9M875.2,1143.4h0.9M874.1,1116.8h0.9M884.5,1152.8h0.9M881.7,1158.0h0.9M877.8,1149.6h0.9M876.8,1150.3h0.9M885.9,1144.6h0.9M879.3,1155.8h0.9M872.2,1134.7h0.9M878.4,1153.2h0.9M881.7,1159.2h0.9M881.5,1157.0h0.9M880.9,1161.3h0.9M879.8,1154.5h0.9M882.9,1152.4h0.9M883.7,1137.5h0.9M883.1,1138.7h0.9M872.6,1135.4h0.9M870.7,1130.2h0.9M881.3,1161.3h0.9M887.4,1134.9h0.9M883.2,1156.7h0.9M878.2,1139.0h0.9M888.7,1139.0h0.9M878.2,1134.3h0.9M880.7,1160.6h0.9M884.6,1146.2h0.9M872.5,1132.4h0.9M880.9,1161.0h0.9M879.9,1156.6h0.9M875.4,1123.7h0.9M873.1,1145.6h0.9M889.4,1135.1h0.9M884.4,1148.8h0.9M881.0,1160.0h0.9M875.8,1144.2h0.9M879.8,1150.7h0.9M890.6,1136.1h0.9M883.9,1151.1h0.9M870.7,1134.6h0.9M875.8,1145.5h0.9M880.9,1160.1h0.9M878.7,1155.6h0.9M878.0,1150.6h0.9M885.8,1150.1h0.9M880.2,1157.7h0.9M881.3,1160.9h0.9M883.2,1155.1h0.9M891.6,1136.5h0.9M887.5,1145.0h0.9M881.2,1159.8h0.9M870.4,1138.0h0.9M876.5,1146.9h0.9M881.4,1140.9h0.9M892.2,1132.8h0.9M884.0,1142.3h0.9M872.5,1136.0h0.9M879.5,1156.8h0.9M880.4,1156.5h0.9M882.8,1153.2h0.9M881.3,1156.0h0.9M874.6,1143.3h0.9M883.9,1142.9h0.9M883.2,1129.9h0.9M888.7,1144.3h0.9M880.7,1159.8h0.9M881.5,1151.1h0.9M884.4,1146.5h0.9M885.1,1121.7h0.9M879.7,1153.2h0.9M881.0,1160.2h0.9M879.4,1159.4h0.9M875.8,1137.3h0.9M888.0,1143.9h0.9M880.3,1156.7h0.9M878.1,1144.7h0.9M880.6,1136.0h0.9M876.2,1145.1h0.9M878.9,1155.2h0.9M870.0,1129.1h0.9M870.9,1138.0h0.9M879.4,1158.6h0.9M882.6,1154.1h0.9M871.4,1136.7h0.9M882.2,1156.6h0.9M879.3,1136.0h0.9M886.8,1148.3h0.9M881.5,1159.0h0.9M879.3,1153.2h0.9M881.0,1156.9h0.9M874.7,1146.5h0.9M886.9,1148.6h0.9M884.9,1144.6h0.9M878.7,1150.1h0.9M882.6,1152.7h0.9M878.1,1149.9h0.9M881.6,1157.8h0.9M892.1,1136.1h0.9M884.4,1148.5h0.9M878.1,1152.7h0.9M883.8,1155.8h0.9M885.3,1152.6h0.9M884.2,1122.5h0.9M886.7,1141.1h0.9M880.7,1155.0h0.9M878.1,1149.8h0.9M882.9,1156.9h0.9M871.9,1142.2h0.9M881.9,1161.2h0.9M875.7,1150.0h0.9M882.6,1145.8h0.9M869.6,1136.3h0.9M883.0,1143.0h0.9M882.8,1148.6h0.9M877.5,1145.7h0.9M887.8,1122.6h0.9M880.3,1150.9h0.9M872.4,1136.8h0.9M880.8,1151.0h0.9M882.0,1159.7h0.9M889.5,1131.1h0.9M873.9,1139.1h0.9M872.1,1126.1h0.9M876.8,1140.6h0.9M878.1,1152.9h0.9M877.3,1124.3h0.9M885.6,1141.6h0.9M876.0,1143.3h0.9M880.9,1161.5h0.9M875.0,1126.1h0.9M884.4,1151.2h0.9M878.3,1157.3h0.9M890.6,1137.0h0.9M881.8,1157.8h0.9M881.7,1157.8h0.9M882.6,1149.8h0.9M876.2,1147.7h0.9M889.3,1138.4h0.9M881.8,1119.8h0.9M875.1,1147.6h0.9M888.8,1137.0h0.9M881.6,1160.9h0.9M880.5,1160.1h0.9M873.6,1138.7h0.9M881.9,1135.7h0.9M881.2,1157.2h0.9M877.0,1155.7h0.9M881.3,1157.5h0.9M880.6,1156.7h0.9M888.5,1128.4h0.9M877.9,1154.0h0.9M889.9,1137.5h0.9M877.4,1155.4h0.9M880.5,1159.6h0.9M877.9,1137.6h0.9M889.6,1131.5h0.9M878.0,1127.4h0.9M890.0,1136.1h0.9M882.0,1156.7h0.9M887.4,1142.9h0.9M886.2,1151.1h0.9M880.5,1157.6h0.9M880.0,1156.3h0.9M889.6,1135.7h0.9M872.1,1131.6h0.9M871.8,1137.5h0.9M882.5,1140.8h0.9M886.2,1138.4h0.9M889.0,1137.3h0.9M880.9,1161.5h0.9M877.7,1150.7h0.9M884.1,1155.0h0.9M879.6,1161.1h0.9M879.7,1131.5h0.9M877.1,1133.1h0.9M888.9,1144.0h0.9M882.6,1150.6h0.9M881.1,1133.4h0.9M886.2,1147.7h0.9M884.1,1150.0h0.9M881.5,1154.5h0.9M883.5,1145.3h0.9M877.0,1151.7h0.9M885.2,1120.8h0.9M881.7,1155.6h0.9M884.2,1153.9h0.9M888.5,1131.8h0.9M874.8,1140.6h0.9M879.5,1156.1h0.9M885.7,1142.4h0.9M888.0,1132.0h0.9M881.3,1154.9h0.9M881.1,1160.3h0.9M892.1,1134.3h0.9M888.9,1147.9h0.9M879.0,1154.2h0.9M890.2,1138.0h0.9M884.5,1148.1h0.9M872.1,1129.2h0.9M872.4,1142.1h0.9M879.6,1159.7h0.9M890.7,1138.8h0.9M879.4,1151.0h0.9M880.9,1145.0h0.9M871.5,1135.8h0.9M875.7,1136.9h0.9M885.3,1152.7h0.9M880.7,1153.5h0.9M880.6,1156.2h0.9M876.8,1148.4h0.9M883.3,1155.3h0.9M875.9,1143.8h0.9M878.3,1139.8h0.9M881.5,1158.1h0.9M876.7,1153.2h0.9M875.3,1148.6h0.9M887.5,1140.7h0.9M875.7,1126.4h0.9M890.3,1137.6h0.9M882.1,1142.2h0.9M877.3,1151.3h0.9M882.2,1153.6h0.9M881.9,1149.9h0.9M879.1,1154.8h0.9M880.2,1159.2h0.9M882.6,1156.4h0.9M885.6,1149.9h0.9M885.1,1151.8h0.9M887.7,1142.7h0.9M882.7,1150.2h0.9M883.4,1144.3h0.9M884.5,1150.4h0.9M874.6,1152.2h0.9M875.9,1152.4h0.9M883.2,1151.9h0.9M885.2,1142.2h0.9M880.4,1156.9h0.9M874.5,1144.0h0.9M869.4,1136.4h0.9M881.8,1147.6h0.9M882.7,1159.9h0.9M874.5,1140.0h0.9M878.2,1154.1h0.9M886.5,1143.4h0.9M876.7,1147.8h0.9M881.6,1132.9h0.9M878.8,1152.8h0.9M888.3,1139.7h0.9M878.1,1157.2h0.9M881.4,1159.6h0.9M875.5,1147.4h0.9M887.2,1145.1h0.9M879.2,1154.3h0.9M889.0,1133.9h0.9M884.2,1149.2h0.9M878.6,1156.7h0.9M881.3,1160.4h0.9M886.8,1145.4h0.9M879.8,1158.2h0.9M886.7,1147.6h0.9M872.4,1134.4h0.9M877.6,1145.6h0.9M885.3,1152.2h0.9M890.2,1131.5h0.9M879.3,1153.9h0.9M880.7,1160.9h0.9M882.8,1153.0h0.9M878.6,1153.8h0.9M889.0,1138.0h0.9M880.7,1156.7h0.9M872.1,1137.3h0.9M883.7,1149.2h0.9M880.1,1160.7h0.9M871.4,1134.0h0.9M892.1,1129.8h0.9M879.7,1141.1h0.9M887.4,1139.9h0.9M881.0,1160.5h0.9M877.6,1132.0h0.9M886.6,1149.6h0.9M880.7,1161.2h0.9M884.3,1148.7h0.9M881.8,1161.2h0.9M880.8,1159.8h0.9M883.9,1150.9h0.9M875.3,1146.6h0.9M889.8,1133.5h0.9M886.3,1148.4h0.9M890.6,1137.1h0.9M881.2,1159.3h0.9M887.7,1142.3h0.9M885.1,1149.9h0.9M883.2,1154.1h0.9M886.0,1145.2h0.9M876.8,1130.9h0.9M885.9,1149.7h0.9M887.9,1144.3h0.9M885.5,1146.4h0.9M889.7,1139.5h0.9M871.7,1131.1h0.9M881.2,1159.2h0.9M891.8,1125.8h0.9M881.4,1157.0h0.9M880.7,1150.8h0.9M881.4,1158.9h0.9M882.8,1152.4h0.9M872.4,1141.6h0.9M890.3,1135.8h0.9M876.9,1120.2h0.9M878.6,1153.5h0.9M877.5,1155.5h0.9M884.6,1150.0h0.9M875.1,1142.6h0.9M890.4,1133.9h0.9M885.7,1145.4h0.9M889.0,1144.4h0.9M870.3,1131.1h0.9M886.8,1131.2h0.9M884.7,1148.2h0.9M881.0,1160.7h0.9M890.5,1136.2h0.9M891.0,1134.6h0.9M890.0,1121.4h0.9M879.6,1157.2h0.9M885.1,1151.2h0.9M879.1,1154.6h0.9M876.1,1137.9h0.9M885.0,1145.7h0.9M873.5,1136.8h0.9M880.9,1159.1h0.9M880.9,1161.5h0.9M871.6,1139.2h0.9M872.1,1130.4h0.9M883.0,1116.7h0.9M890.4,1138.9h0.9M882.4,1153.2h0.9M879.9,1156.4h0.9M883.5,1159.0h0.9M889.6,1143.4h0.9M879.5,1157.3h0.9M891.1,1135.9h0.9M879.6,1144.5h0.9M881.0,1160.7h0.9M879.9,1140.9h0.9M881.0,1160.3h0.9M885.0,1135.3h0.9M887.8,1145.8h0.9M877.0,1132.9h0.9M880.2,1159.7h0.9M879.9,1160.0h0.9M873.5,1140.3h0.9M870.6,1136.7h0.9M883.9,1155.8h0.9M876.8,1147.2h0.9M884.3,1152.3h0.9M877.2,1144.9h0.9M879.1,1146.8h0.9M883.5,1149.8h0.9M883.4,1152.0h0.9M876.2,1144.1h0.9M870.1,1132.7h0.9M883.2,1152.6h0.9M881.8,1138.4h0.9M880.5,1146.4h0.9M882.1,1155.4h0.9M876.9,1145.0h0.9M882.6,1150.5h0.9M877.1,1149.3h0.9M890.1,1136.4h0.9M890.6,1131.9h0.9M877.4,1129.1h0.9M874.4,1142.3h0.9M872.8,1138.7h0.9M882.4,1135.0h0.9M881.4,1159.7h0.9M872.2,1137.6h0.9M882.8,1157.4h0.9M880.3,1158.9h0.9M887.6,1139.1h0.9M880.1,1158.0h0.9M885.1,1123.4h0.9M879.8,1155.7h0.9M886.1,1149.7h0.9M888.9,1137.7h0.9M876.6,1153.6h0.9M880.4,1156.0h0.9M881.9,1157.3h0.9M873.6,1147.2h0.9M889.5,1134.9h0.9M881.8,1157.0h0.9M878.3,1138.8h0.9M883.5,1144.3h0.9M872.1,1136.3h0.9M882.9,1155.4h0.9M876.6,1148.3h0.9M882.1,1155.6h0.9M881.9,1136.1h0.9M876.4,1149.4h0.9M873.2,1141.9h0.9M876.0,1138.9h0.9M880.8,1152.4h0.9M870.8,1140.6h0.9M878.8,1154.3h0.9M881.5,1158.4h0.9M884.5,1151.2h0.9M877.7,1152.2h0.9M881.5,1142.7h0.9M882.8,1151.3h0.9M879.8,1160.8h0.9M880.9,1161.4h0.9M882.6,1144.1h0.9M876.4,1150.8h0.9M884.6,1150.0h0.9M875.9,1147.1h0.9M887.2,1144.1h0.9M881.8,1157.3h0.9M884.1,1152.6h0.9M879.5,1153.8h0.9M883.0,1153.0h0.9M881.3,1159.1h0.9M882.8,1158.8h0.9M878.6,1154.4h0.9M878.4,1142.1h0.9M884.2,1153.3h0.9M874.0,1143.7h0.9M890.0,1138.7h0.9M880.7,1143.9h0.9M872.3,1143.0h0.9M881.8,1156.3h0.9M880.7,1160.7h0.9M880.8,1161.2h0.9M879.6,1153.9h0.9M879.0,1151.0h0.9M886.9,1149.8h0.9M880.8,1161.2h0.9M884.1,1156.6h0.9M875.3,1134.7h0.9M875.2,1142.0h0.9M884.8,1152.2h0.9M878.7,1153.4h0.9M876.4,1149.3h0.9M882.2,1147.6h0.9M886.2,1142.3h0.9M889.2,1143.8h0.9M871.6,1139.8h0.9M883.5,1157.1h0.9M883.8,1147.4h0.9M878.6,1145.9h0.9M869.5,1121.8h0.9M878.4,1159.3h0.9M890.6,1128.8h0.9M880.9,1161.4h0.9M881.4,1150.8h0.9M882.0,1156.8h0.9M874.7,1145.9h0.9M880.9,1155.1h0.9M890.1,1136.1h0.9M879.5,1152.8h0.9M885.7,1151.8h0.9M886.2,1140.2h0.9M879.3,1156.5h0.9M877.2,1150.2h0.9M891.6,1127.7h0.9M877.4,1151.8h0.9M886.3,1125.4h0.9M881.3,1159.1h0.9M879.0,1156.1h0.9M879.7,1154.7h0.9M879.3,1145.0h0.9M889.7,1141.6h0.9M886.9,1144.2h0.9M880.3,1161.1h0.9M881.9,1157.7h0.9M875.2,1145.6h0.9M877.4,1144.3h0.9M881.1,1160.9h0.9M878.1,1153.5h0.9M876.9,1150.5h0.9M885.9,1145.3h0.9M882.6,1154.2h0.9M874.1,1147.5h0.9M873.7,1139.7h0.9M883.3,1152.9h0.9M881.2,1160.4h0.9M880.8,1161.1h0.9M875.2,1145.6h0.9M878.9,1140.2h0.9M876.0,1145.5h0.9M877.8,1151.8h0.9M880.6,1154.8h0.9M875.3,1145.7h0.9M879.5,1150.8h0.9M879.2,1154.8h0.9M886.7,1148.9h0.9M875.7,1146.9h0.9M883.2,1152.1h0.9M877.9,1152.7h0.9M878.0,1151.4h0.9M878.0,1145.2h0.9M873.7,1140.7h0.9M877.2,1141.6h0.9M875.6,1147.9h0.9M885.0,1150.1h0.9M886.1,1143.6h0.9M880.6,1153.5h0.9M879.2,1160.4h0.9M888.6,1138.3h0.9M880.6,1158.3h0.9M878.5,1154.6h0.9M877.8,1145.0h0.9M878.8,1155.2h0.9M889.6,1139.7h0.9M883.6,1150.4h0.9M886.9,1132.5h0.9M888.6,1144.0h0.9M872.9,1139.7h0.9M877.9,1152.5h0.9M881.9,1115.6h0.9M878.2,1152.3h0.9M883.9,1151.9h0.9M887.1,1147.1h0.9M880.9,1161.1h0.9M886.8,1138.9h0.9M876.8,1149.7h0.9M891.5,1129.6h0.9M889.8,1135.4h0.9M875.0,1142.7h0.9M886.4,1148.0h0.9M879.6,1151.3h0.9M887.7,1136.1h0.9M879.3,1140.9h0.9M879.1,1156.3h0.9M883.3,1150.2h0.9M891.7,1130.6h0.9M877.3,1143.9h0.9M882.3,1157.2h0.9M880.0,1150.9h0.9M878.7,1150.3h0.9M879.7,1156.8h0.9M881.6,1154.4h0.9M880.7,1155.2h0.9M879.7,1159.9h0.9M881.2,1160.6h0.9M884.4,1151.7h0.9M875.4,1142.0h0.9M884.0,1151.1h0.9M885.7,1149.5h0.9M886.9,1142.4h0.9M869.5,1138.0h0.9M881.5,1157.6h0.9M878.5,1147.8h0.9M882.7,1158.3h0.9M878.9,1154.7h0.9M878.9,1152.5h0.9M878.6,1145.4h0.9M874.7,1141.1h0.9M874.2,1146.2h0.9M892.3,1137.0h0.9M885.2,1147.6h0.9M881.8,1138.7h0.9M886.8,1139.6h0.9M880.6,1144.8h0.9M889.5,1143.0h0.9M885.3,1141.5h0.9M884.4,1148.0h0.9M887.6,1131.9h0.9M883.8,1131.1h0.9M883.5,1152.9h0.9M876.4,1146.8h0.9M883.8,1147.2h0.9M881.1,1149.9h0.9M889.0,1141.6h0.9M881.0,1158.8h0.9M889.4,1134.9h0.9M887.1,1144.5h0.9M876.8,1149.4h0.9M885.8,1146.3h0.9M883.8,1155.7h0.9M883.6,1152.8h0.9M881.4,1159.4h0.9M873.4,1145.5h0.9M881.0,1144.6h0.9M878.5,1154.0h0.9M881.6,1150.1h0.9M866.0,1157.7h0.9M891.0,1154.9h0.9M849.5,1157.8h0.9M844.0,1146.6h0.9M864.9,1155.3h0.9M846.7,1143.8h0.9M867.8,1140.5h0.9M869.4,1155.7h0.9M892.0,1154.5h0.9M900.1,1152.8h0.9M859.4,1155.7h0.9M859.4,1152.4h0.9M847.5,1149.7h0.9M863.4,1146.6h0.9M859.6,1154.6h0.9M832.4,1146.8h0.9M907.2,1155.5h0.9M900.1,1158.1h0.9M898.3,1140.8h0.9M897.0,1146.3h0.9M908.8,1144.9h0.9M860.1,1151.9h0.9M870.7,1160.7h0.9M899.1,1144.8h0.9M866.9,1149.2h0.9M908.3,1149.8h0.9M902.5,1142.2h0.9M893.6,1158.6h0.9M865.1,1142.9h0.9M899.5,1153.8h0.9M851.6,1153.3h0.9M899.6,1153.9h0.9M847.8,1154.7h0.9M918.5,1148.1h0.9M896.1,1159.9h0.9M919.0,1152.7h0.9M870.8,1160.3h0.9M897.0,1152.1h0.9M863.8,1140.6h0.9M861.9,1143.6h0.9M850.6,1147.0h0.9M870.0,1155.2h0.9M891.9,1157.6h0.9M914.6,1159.5h0.9M869.3,1146.9h0.9M857.5,1160.6h0.9M867.9,1152.9h0.9M859.3,1157.1h0.9M847.1,1147.1h0.9M866.4,1158.5h0.9M858.8,1148.0h0.9M865.6,1154.8h0.9M901.4,1147.8h0.9M835.8,1153.6h0.9M920.7,1153.2h0.9M841.2,1152.2h0.9M860.9,1144.8h0.9M869.0,1157.6h0.9M852.3,1146.5h0.9M863.2,1149.2h0.9M863.4,1138.6h0.9M869.3,1145.6h0.9M868.6,1152.8h0.9M862.9,1145.5h0.9M869.6,1154.6h0.9M865.1,1147.6h0.9M861.4,1142.4h0.9M869.5,1158.9h0.9M864.0,1156.9h0.9M869.5,1156.9h0.9M907.9,1154.7h0.9M861.3,1140.0h0.9M870.7,1161.4h0.9M848.7,1146.1h0.9M856.2,1159.4h0.9M869.8,1155.6h0.9M864.5,1138.8h0.9M864.6,1157.5h0.9M869.5,1154.8h0.9M899.7,1159.3h0.9M912.1,1160.4h0.9M895.3,1153.3h0.9M863.6,1147.2h0.9M912.4,1157.3h0.9M856.7,1139.4h0.9M850.3,1143.1h0.9M852.9,1143.2h0.9M869.3,1139.8h0.9M866.3,1151.9h0.9M864.1,1157.3h0.9M850.9,1153.3h0.9M860.2,1139.1h0.9M846.4,1140.3h0.9M867.3,1155.5h0.9M868.6,1145.3h0.9M868.9,1148.5h0.9M909.1,1146.1h0.9M849.4,1159.3h0.9M867.8,1155.8h0.9M864.7,1142.2h0.9M858.6,1138.8h0.9M865.8,1142.0h0.9M897.3,1141.5h0.9M860.5,1139.2h0.9M870.4,1156.4h0.9M862.5,1150.9h0.9M896.8,1151.2h0.9M897.6,1150.1h0.9M868.6,1159.1h0.9M870.7,1159.4h0.9M870.8,1147.3h0.9M861.4,1146.1h0.9M891.4,1153.1h0.9M868.3,1148.6h0.9M855.7,1150.6h0.9M869.4,1144.0h0.9M864.2,1153.6h0.9M902.2,1149.5h0.9M893.5,1160.4h0.9M856.8,1144.9h0.9M853.7,1147.5h0.9M858.2,1151.0h0.9M896.8,1145.0h0.9M843.4,1142.2h0.9M854.5,1143.7h0.9M851.9,1158.4h0.9M841.5,1149.3h0.9M846.3,1150.4h0.9M860.3,1140.3h0.9M850.9,1158.5h0.9M860.2,1147.7h0.9M904.7,1139.0h0.9M891.3,1144.0h0.9M834.7,1151.1h0.9M862.5,1152.0h0.9M891.0,1145.4h0.9M902.7,1145.1h0.9M897.2,1147.1h0.9M864.0,1153.6h0.9M850.8,1139.5h0.9M868.5,1145.5h0.9M861.1,1150.5h0.9M862.2,1146.2h0.9M870.5,1154.9h0.9M917.8,1142.9h0.9M863.2,1146.1h0.9M869.7,1144.2h0.9M868.5,1142.2h0.9M901.3,1154.7h0.9M916.1,1159.1h0.9M896.1,1144.5h0.9M891.8,1156.0h0.9M908.9,1143.1h0.9M854.5,1152.6h0.9M918.4,1139.1h0.9M868.8,1155.7h0.9M870.2,1143.5h0.9M905.7,1145.3h0.9M843.9,1144.1h0.9M851.6,1139.3h0.9M856.2,1157.4h0.9M894.2,1149.7h0.9M862.9,1151.6h0.9M858.2,1155.6h0.9M857.4,1145.2h0.9M863.9,1160.3h0.9M901.1,1147.3h0.9M852.7,1153.3h0.9M892.0,1154.2h0.9M868.8,1149.9h0.9M866.1,1149.1h0.9M869.2,1153.9h0.9M861.4,1156.5h0.9M937.3,1142.6h0.9M899.9,1161.3h0.9M842.3,1147.4h0.9M860.7,1139.4h0.9M904.3,1139.8h0.9M842.8,1149.1h0.9M848.8,1152.9h0.9M904.7,1151.3h0.9M863.6,1149.7h0.9M896.4,1157.6h0.9M892.6,1160.0h0.9M870.5,1143.7h0.9M896.7,1149.1h0.9M893.9,1139.0h0.9M911.0,1144.3h0.9M844.5,1150.9h0.9M866.9,1143.2h0.9M868.5,1148.3h0.9M870.1,1147.0h0.9M857.0,1161.1h0.9M851.3,1147.3h0.9M895.3,1148.0h0.9M919.7,1159.1h0.9M905.0,1154.6h0.9M869.5,1152.4h0.9M855.9,1150.6h0.9M861.8,1143.2h0.9M860.4,1139.4h0.9M857.2,1143.2h0.9M918.7,1152.9h0.9M907.7,1158.7h0.9M865.0,1147.8h0.9M859.6,1144.3h0.9M894.8,1153.6h0.9M860.7,1157.8h0.9M857.6,1142.3h0.9M860.4,1141.9h0.9M913.7,1140.1h0.9M908.1,1154.8h0.9M866.6,1159.2h0.9M903.4,1158.6h0.9M869.9,1159.2h0.9M861.0,1151.1h0.9M863.7,1154.5h0.9M858.7,1154.2h0.9M865.6,1161.4h0.9M866.8,1151.5h0.9M913.5,1158.4h0.9M902.1,1153.2h0.9M860.1,1148.8h0.9M849.8,1141.7h0.9M854.2,1149.1h0.9M866.7,1159.8h0.9M867.2,1149.8h0.9M858.5,1147.9h0.9M897.9,1148.8h0.9M855.1,1143.7h0.9M870.8,1156.4h0.9M892.1,1150.8h0.9M859.4,1152.4h0.9M856.7,1142.9h0.9M847.7,1157.7h0.9M862.6,1139.7h0.9M868.0,1139.2h0.9M904.0,1156.5h0.9M869.5,1160.1h0.9M861.7,1140.6h0.9M868.4,1150.7h0.9M833.3,1154.0h0.9M902.2,1149.5h0.9M896.5,1149.0h0.9M861.5,1146.5h0.9M855.7,1149.6h0.9M849.1,1140.6h0.9M853.9,1150.3h0.9M848.4,1147.6h0.9M865.5,1159.7h0.9M864.4,1156.6h0.9M856.5,1158.8h0.9M854.0,1142.8h0.9M906.8,1156.7h0.9M869.0,1142.3h0.9M853.3,1157.8h0.9M866.0,1160.6h0.9M860.7,1157.4h0.9M894.6,1147.7h0.9M848.7,1146.3h0.9" stroke="#a0a0a0" stroke-width="0.8"/>
<path d="M893.0,1134.6h0.01M894.6,1080.3h0.01M898.6,1103.7h0.01M903.3,1083.5h0.01M899.1,1127.7h0.01M895.7,1122.0h0.01M896.3,1132.4h0.01M898.0,1089.4h0.01M894.4,1133.3h0.01M898.6,1118.2h0.01M894.7,1109.4h0.01M898.1,1119.1h0.01M893.6,1102.5h0.01M896.2,1129.9h0.01M893.0,1128.5h0.01M899.8,1105.8h0.01M897.1,1102.7h0.01M898.7,1100.1h0.01M904.9,1129.4h0.01M901.7,1101.8h0.01M892.6,1093.0h0.01M894.0,1129.2h0.01M904.2,1128.8h0.01M898.3,1085.0h0.01M897.8,1133.7h0.01M902.5,1121.3h0.01M893.9,1110.6h0.01M892.4,1118.4h0.01M896.1,1110.2h0.01M896.7,1115.7h0.01M901.9,1125.8h0.01M900.6,1134.6h0.01M892.3,1105.3h0.01M900.5,1123.5h0.01M897.8,1106.9h0.01M900.1,1136.3h0.01M905.5,1105.8h0.01M894.8,1128.8h0.01M902.1,1136.8h0.01M898.9,1128.8h0.01M899.6,1104.9h0.01M898.2,1137.2h0.01M897.7,1104.8h0.01M900.8,1131.3h0.01M905.4,1104.0h0.01M901.5,1082.4h0.01M895.3,1124.1h0.01M895.8,1110.0h0.01M895.4,1082.2h0.01M895.1,1132.0h0.01M895.7,1134.2h0.01M891.9,1120.1h0.01M893.8,1101.7h0.01M895.1,1113.2h0.01M893.6,1128.8h0.01M892.6,1097.2h0.01M905.1,1078.6h0.01M893.2,1062.9h0.01M901.4,1114.8h0.01M900.8,1114.3h0.01M893.5,1100.1h0.01M902.2,1135.8h0.01M893.5,1100.9h0.01M896.6,1135.3h0.01M895.9,1110.6h0.01M892.9,1115.8h0.01M891.7,1071.9h0.01M891.9,1115.0h0.01M897.3,1098.7h0.01M896.1,1136.8h0.01M894.3,1111.8h0.01M894.8,1097.5h0.01M905.3,1081.5h0.01M906.4,1129.4h0.01M901.1,1108.1h0.01M906.9,1111.7h0.01M894.2,1123.0h0.01M893.5,1109.5h0.01M894.3,1073.3h0.01M895.8,1063.2h0.01M895.5,1118.8h0.01M900.1,1104.0h0.01M908.8,1077.9h0.01M896.3,1133.5h0.01M909.5,1097.2h0.01M893.7,1130.3h0.01M892.6,1127.4h0.01M893.4,1093.0h0.01M908.4,1133.8h0.01M897.7,1094.0h0.01M894.0,1066.3h0.01M892.5,1137.8h0.01M894.8,1105.5h0.01M903.2,1059.9h0.01M899.1,1102.9h0.01M892.7,1114.3h0.01M895.1,1083.5h0.01M895.2,1100.3h0.01M896.1,1118.7h0.01M902.5,1120.0h0.01M895.1,1129.6h0.01M896.8,1121.7h0.01M894.5,1071.0h0.01M901.5,1112.8h0.01M900.9,1089.2h0.01M899.5,1127.2h0.01M892.2,1085.4h0.01M892.8,1078.3h0.01M892.7,1108.0h0.01M897.7,1119.4h0.01M893.2,1129.3h0.01M900.7,1073.8h0.01M895.9,1091.0h0.01M892.9,1100.0h0.01M891.8,1128.8h0.01M895.7,1079.8h0.01M893.3,1081.7h0.01M894.4,1111.9h0.01M892.1,1108.6h0.01M894.7,1115.6h0.01M895.2,1111.3h0.01M893.2,1086.5h0.01M893.4,1108.3h0.01M897.8,1123.5h0.01M902.2,1086.2h0.01M901.6,1133.6h0.01M896.0,1104.2h0.01M898.4,1135.7h0.01M894.9,1134.5h0.01M896.8,1104.1h0.01M894.5,1079.5h0.01M905.7,1097.4h0.01M901.9,1118.1h0.01M899.1,1064.1h0.01M892.1,1077.7h0.01M892.9,1130.9h0.01M897.5,1092.5h0.01M895.2,1091.3h0.01M898.1,1073.2h0.01M896.4,1085.0h0.01M893.1,1105.4h0.01M893.7,1106.7h0.01M898.6,1111.3h0.01M893.9,1118.8h0.01M892.1,1072.4h0.01M905.0,1122.3h0.01M900.4,1124.1h0.01M895.2,1131.3h0.01M898.1,1117.6h0.01M898.9,1131.3h0.01M906.3,1115.1h0.01M895.6,1123.6h0.01M894.6,1103.8h0.01M902.7,1110.0h0.01M900.1,1071.5h0.01M897.6,1117.6h0.01M893.5,1133.5h0.01M897.8,1130.3h0.01M897.0,1119.4h0.01M896.1,1066.8h0.01M896.4,1105.0h0.01M898.8,1099.6h0.01M893.3,1134.7h0.01M893.1,1130.2h0.01M901.9,1083.1h0.01M895.7,1117.9h0.01M893.7,1127.0h0.01M893.2,1103.3h0.01M897.8,1100.3h0.01M892.9,1136.5h0.01M894.6,1136.3h0.01M895.8,1093.5h0.01M903.7,1127.6h0.01M896.6,1126.6h0.01M901.3,1088.8h0.01M901.5,1082.8h0.01M893.5,1116.5h0.01M896.5,1102.1h0.01M894.5,1132.2h0.01M899.2,1080.3h0.01M893.8,1115.3h0.01M900.2,1101.3h0.01M899.0,1095.4h0.01M895.0,1117.1h0.01M896.3,1110.9h0.01M898.8,1124.2h0.01M898.8,1118.4h0.01M895.8,1137.8h0.01M891.8,1108.5h0.01M904.2,1114.2h0.01M898.2,1075.0h0.01M892.5,1132.9h0.01M891.8,1109.3h0.01M894.2,1137.5h0.01M892.5,1110.6h0.01M896.8,1102.6h0.01M894.3,1105.8h0.01M901.5,1109.5h0.01M896.1,1134.8h0.01M899.0,1133.8h0.01M903.6,1079.8h0.01M898.5,1125.6h0.01M897.0,1134.9h0.01M904.4,1074.4h0.01M898.8,1125.1h0.01M897.0,1103.6h0.01M899.1,1130.6h0.01M901.4,1135.1h0.01M893.0,1093.2h0.01M894.4,1131.1h0.01M894.7,1130.8h0.01M902.7,1134.0h0.01M896.7,1112.1h0.01M898.3,1120.1h0.01M896.8,1097.1h0.01M915.2,1072.5h0.01M894.5,1102.6h0.01M903.5,1125.7h0.01M892.4,1135.7h0.01M894.4,1113.6h0.01M892.6,1099.9h0.01M902.5,1128.9h0.01M894.8,1134.7h0.01M897.0,1132.5h0.01M899.2,1137.2h0.01M893.5,1074.7h0.01M894.6,1106.6h0.01M894.3,1124.3h0.01M897.2,1114.3h0.01M900.5,1103.4h0.01M896.0,1136.9h0.01M901.7,1112.8h0.01M905.6,1120.6h0.01M895.4,1097.2h0.01M898.2,1127.6h0.01M895.5,1134.9h0.01M895.2,1136.8h0.01M892.6,1073.8h0.01M894.9,1087.4h0.01M893.2,1126.6h0.01M893.9,1128.9h0.01M894.3,1073.5h0.01M902.7,1084.8h0.01M891.9,1087.2h0.01M895.4,1117.7h0.01M903.5,1118.5h0.01M895.3,1071.5h0.01M893.1,1135.1h0.01M904.4,1114.9h0.01M893.4,1124.7h0.01M897.8,1084.1h0.01M902.9,1097.4h0.01M892.4,1121.7h0.01M902.1,1129.0h0.01M895.9,1102.5h0.01M901.0,1126.6h0.01M904.7,1096.5h0.01M896.3,1118.0h0.01M893.4,1129.6h0.01M896.9,1137.0h0.01M891.9,1114.0h0.01M896.9,1135.1h0.01M893.0,1097.1h0.01M901.2,1133.7h0.01M902.9,1112.2h0.01M899.0,1102.8h0.01M897.2,1089.9h0.01M891.8,1112.6h0.01M895.7,1126.4h0.01M894.3,1124.0h0.01M892.1,1127.8h0.01M894.9,1120.1h0.01M895.1,1120.7h0.01M892.0,1072.8h0.01M897.4,1112.6h0.01M898.9,1129.2h0.01M896.8,1103.4h0.01M898.8,1058.9h0.01M898.7,1126.7h0.01M899.6,1126.1h0.01M893.5,1133.8h0.01M894.1,1110.3h0.01M897.6,1097.4h0.01M899.8,1124.7h0.01M896.6,1124.0h0.01M892.4,1107.6h0.01M907.6,1121.3h0.01M892.5,1130.7h0.01M900.2,1120.8h0.01M899.6,1137.6h0.01M901.5,1110.7h0.01M902.2,1122.5h0.01M893.4,1115.0h0.01M896.7,1083.7h0.01M894.4,1121.0h0.01M894.5,1121.7h0.01M898.1,1126.3h0.01M895.2,1096.9h0.01M891.8,1118.2h0.01M896.6,1104.4h0.01M892.0,1093.3h0.01M900.3,1082.6h0.01M896.5,1100.0h0.01M897.4,1123.5h0.01M903.3,1112.0h0.01M894.1,1097.8h0.01M893.5,1089.2h0.01M898.5,1087.1h0.01M892.7,1117.9h0.01M894.1,1129.6h0.01M896.4,1133.1h0.01M892.9,1112.6h0.01M901.3,1130.2h0.01M900.5,1127.7h0.01M897.2,1103.4h0.01M893.2,1114.6h0.01M896.8,1113.9h0.01M894.2,1131.8h0.01M894.6,1069.3h0.01M900.9,1132.0h0.01M902.9,1131.8h0.01M895.9,1111.4h0.01M901.2,1064.4h0.01M898.7,1111.5h0.01M895.0,1132.0h0.01M900.8,1126.6h0.01M892.8,1133.4h0.01M898.1,1121.8h0.01M898.3,1086.2h0.01M902.1,1129.9h0.01M944.5,1110.0h0.01M929.0,1111.0h0.01M921.0,1112.5h0.01M923.0,1128.5h0.01M915.0,1075.0h0.01M917.0,1136.0h0.01M931.0,1127.0h0.01M924.0,1075.8h0.01M918.0,1085.0h0.01M911.0,1095.0h0.01M905.0,1072.0h0.01M891.5,1055.0h0.01M897.0,1055.0h0.01M901.0,1055.0h0.01M913.5,1055.0h0.01" stroke="#e01f1f" stroke-width="2.3" stroke-linecap="round"/>
<path d="M847.1,1136.4h0.01M868.6,1135.8h0.01M854.6,1136.7h0.01M865.7,1130.8h0.01M867.8,1128.8h0.01M869.9,1118.0h0.01M862.0,1127.0h0.01M859.3,1125.3h0.01M859.4,1136.1h0.01M857.1,1132.5h0.01M864.8,1123.3h0.01M859.8,1125.5h0.01M865.2,1124.8h0.01M860.5,1137.0h0.01M861.7,1127.0h0.01M854.7,1119.2h0.01M868.3,1132.0h0.01M849.2,1137.1h0.01M858.1,1117.7h0.01M858.0,1124.9h0.01M837.6,1121.6h0.01M857.4,1127.3h0.01M863.3,1130.5h0.01M850.7,1127.0h0.01M868.0,1120.1h0.01M868.4,1124.0h0.01M869.0,1135.6h0.01M866.3,1134.4h0.01M860.4,1122.6h0.01M850.9,1134.2h0.01M863.9,1108.1h0.01M857.0,1114.5h0.01M855.8,1137.1h0.01M867.7,1135.8h0.01M862.8,1135.3h0.01M869.0,1133.9h0.01M850.9,1133.5h0.01M851.4,1137.2h0.01M851.7,1137.1h0.01M861.3,1137.2h0.01M867.2,1121.4h0.01M858.3,1130.4h0.01M867.5,1133.1h0.01M842.5,1134.8h0.01M866.5,1137.1h0.01M868.4,1130.1h0.01M861.9,1126.6h0.01M851.3,1136.3h0.01M867.7,1125.3h0.01M853.0,1136.5h0.01M854.5,1132.1h0.01M869.0,1127.6h0.01M840.7,1129.8h0.01M868.1,1123.6h0.01M870.0,1135.6h0.01M868.6,1137.7h0.01M850.5,1131.5h0.01M856.3,1131.4h0.01M857.8,1127.1h0.01M852.1,1134.9h0.01M826.0,1114.2h0.01M869.9,1119.2h0.01M846.7,1119.6h0.01M851.4,1121.7h0.01M866.4,1136.6h0.01M861.1,1122.8h0.01M856.0,1127.1h0.01M861.9,1120.6h0.01M864.7,1131.4h0.01M861.9,1137.5h0.01M860.9,1110.0h0.01M863.6,1130.2h0.01M852.5,1136.1h0.01M861.7,1115.5h0.01M862.7,1130.7h0.01M859.6,1133.6h0.01M851.4,1109.7h0.01M830.4,1130.8h0.01M868.7,1111.5h0.01M855.5,1131.2h0.01M851.5,1131.8h0.01M867.6,1127.0h0.01M840.1,1134.8h0.01M843.1,1128.2h0.01M858.8,1126.1h0.01M860.9,1112.8h0.01M856.4,1128.5h0.01M864.9,1136.9h0.01M862.6,1129.2h0.01M845.2,1130.2h0.01M861.9,1129.4h0.01M865.4,1135.8h0.01M845.9,1125.4h0.01M851.2,1122.8h0.01M867.3,1121.8h0.01M854.7,1120.1h0.01M847.8,1130.9h0.01M869.6,1136.8h0.01M866.3,1137.8h0.01M867.3,1136.3h0.01M853.7,1136.1h0.01M861.7,1110.8h0.01M855.3,1112.0h0.01M867.2,1126.5h0.01M869.2,1128.6h0.01M866.9,1134.9h0.01M867.5,1136.8h0.01M854.5,1131.1h0.01M849.8,1137.2h0.01M848.6,1111.8h0.01M864.9,1134.4h0.01M851.2,1114.8h0.01M861.1,1126.8h0.01M856.1,1121.2h0.01M854.2,1123.4h0.01M863.3,1135.2h0.01M866.4,1134.6h0.01M854.5,1129.8h0.01M841.8,1124.8h0.01M866.1,1134.7h0.01M866.6,1130.8h0.01M869.2,1131.1h0.01M854.7,1136.9h0.01M862.4,1132.5h0.01M833.0,1135.7h0.01M862.0,1125.8h0.01M861.0,1130.5h0.01M850.8,1136.0h0.01M859.6,1128.5h0.01M866.7,1127.9h0.01M837.5,1132.0h0.01M845.7,1133.4h0.01M864.6,1126.3h0.01M865.4,1125.3h0.01M867.8,1134.0h0.01M851.6,1125.9h0.01M865.3,1121.7h0.01M851.4,1123.7h0.01M859.3,1134.0h0.01M862.4,1132.5h0.01M862.7,1134.8h0.01M853.9,1129.9h0.01M844.6,1120.8h0.01M862.7,1132.9h0.01M864.4,1132.7h0.01M848.7,1137.7h0.01M852.4,1128.0h0.01M854.3,1111.1h0.01M868.9,1136.7h0.01M848.8,1124.8h0.01M867.6,1122.5h0.01M859.7,1137.5h0.01M850.0,1125.9h0.01M856.1,1136.1h0.01M865.6,1126.7h0.01M851.4,1113.2h0.01M862.9,1125.6h0.01M843.6,1129.2h0.01M835.8,1125.1h0.01M865.1,1129.5h0.01M848.6,1122.7h0.01M854.3,1119.1h0.01M854.3,1131.7h0.01M854.3,1111.5h0.01M852.5,1128.9h0.01M862.6,1129.4h0.01M858.6,1125.5h0.01M863.1,1127.7h0.01M865.9,1124.7h0.01M851.7,1135.6h0.01M850.8,1118.2h0.01M866.3,1133.2h0.01M865.1,1135.7h0.01M847.8,1123.1h0.01M868.6,1126.6h0.01M835.5,1127.3h0.01M869.0,1129.2h0.01M861.3,1130.4h0.01M861.8,1126.5h0.01M855.1,1119.8h0.01M867.3,1129.8h0.01M869.6,1122.2h0.01M854.2,1137.3h0.01M870.0,1120.0h0.01M866.7,1119.4h0.01M849.1,1123.2h0.01M850.0,1129.6h0.01M852.4,1136.7h0.01M868.3,1134.8h0.01M857.7,1135.2h0.01M856.8,1126.5h0.01M869.5,1118.2h0.01M869.2,1126.7h0.01M848.5,1135.6h0.01M867.5,1132.8h0.01M857.3,1127.8h0.01M849.8,1117.9h0.01M855.7,1128.9h0.01M855.6,1118.9h0.01M845.9,1126.6h0.01" stroke="#3a7fc0" stroke-width="2.3" stroke-linecap="round"/>
<path d="M893,1037 h0.01 M902,1037 h0.01 M904,1037 h0.01 M911,1037 h0.01" stroke="#e88" stroke-width="1.8" stroke-linecap="round" fill="none"/>
<circle cx="952.7" cy="1048" r="1.1" fill="#e01f1f"/><circle cx="952.7" cy="1053.3" r="0.8" fill="#999"/><circle cx="952.7" cy="1058.6" r="1.1" fill="#3a7fc0"/>
<text x="955.5" y="1049.8" font-size="5.3" fill="#555" font-family="Liberation Sans, sans-serif">Up-regulated</text>
<text x="955.5" y="1055.1" font-size="5.3" fill="#555" font-family="Liberation Sans, sans-serif">No-changed</text>
<text x="955.5" y="1060.4" font-size="5.3" fill="#555" font-family="Liberation Sans, sans-serif">Down-regulated</text>
<path d="M1070.3,1089.5L1067.8,1085.1L1067.3,1085.3L1070.0,1089.7ZM1055.2,1062.8L1052.7,1058.4L1051.4,1059.2L1054.0,1063.5ZM1042.6,1040.6L1040.1,1036.2L1038.0,1037.4L1040.7,1041.7ZM1047.7,1068.2L1044.3,1064.4L1043.2,1065.5L1046.7,1069.2ZM1026.5,1070.2L1022.1,1067.6L1021.1,1069.4L1025.6,1071.9ZM1061.5,1091.4L1057.0,1089.0L1056.7,1089.6L1061.2,1091.9ZM1045.4,1090.4L1040.5,1089.0L1040.2,1090.2L1045.1,1091.4ZM1044.1,1099.1L1039.0,1099.0L1039.0,1100.2L1044.1,1100.1ZM1054.3,1099.8L1049.2,1099.9L1049.2,1100.8L1054.3,1100.5ZM1035.6,1111.5L1030.7,1112.9L1031.2,1114.4L1036.0,1112.8ZM1041.5,1112.9L1036.7,1114.8L1037.2,1116.0L1041.9,1114.0ZM1046.4,1121.8L1042.3,1124.8L1043.2,1125.9L1047.1,1122.7ZM1041.6,1131.9L1037.8,1135.4L1039.0,1136.6L1042.6,1133.0ZM1038.8,1136.4L1035.2,1140.0L1036.5,1141.3L1040.1,1137.6ZM1039.4,1150.3L1036.4,1154.4L1038.2,1155.7L1041.1,1151.4ZM1056.7,1148.2L1054.8,1152.9L1056.5,1153.6L1058.3,1148.8ZM1062.7,1160.7L1061.7,1165.7L1063.8,1166.1L1064.7,1161.1ZM1116.2,1153.9L1119.3,1158.1L1121.1,1156.6L1118.0,1152.6ZM1107.1,1128.0L1110.8,1131.5L1111.8,1130.3L1108.0,1127.0ZM1118.3,1138.4L1122.1,1141.8L1123.5,1140.3L1119.6,1137.0ZM1116.3,1124.2L1120.6,1126.9L1121.5,1125.4L1117.1,1122.9ZM1128.0,1124.0L1132.6,1126.2L1133.4,1124.4L1128.7,1122.3ZM1140.6,1119.8L1145.5,1121.3L1146.1,1119.0L1141.2,1117.6ZM1122.1,1109.9L1127.1,1111.0L1127.4,1109.3L1122.4,1108.4ZM1112.3,1106.7L1117.4,1107.6L1117.6,1106.3L1112.6,1105.5ZM1118.0,1103.1L1123.1,1103.5L1123.2,1102.0L1118.1,1101.7ZM1128.2,1103.9L1133.3,1104.4L1133.4,1102.5L1128.3,1102.2ZM1123.2,1100.9L1128.3,1101.1L1128.4,1099.4L1123.3,1099.4Z" fill="#bac6c6"/>
<path d="M1067.8,1085.1L1065.3,1080.6L1064.7,1081.0L1067.3,1085.3ZM1068.3,1091.0L1064.9,1087.2L1064.5,1087.6L1068.0,1091.2ZM1053.3,1077.0L1049.7,1073.4L1048.9,1074.3L1052.6,1077.8ZM1058.3,1086.9L1054.1,1084.0L1053.6,1084.7L1057.9,1087.5ZM1049.0,1082.5L1044.6,1079.8L1044.0,1080.8L1048.4,1083.4ZM1040.2,1090.0L1035.3,1088.7L1034.9,1090.0L1039.9,1091.1ZM1054.9,1094.5L1049.9,1093.3L1049.7,1094.2L1054.7,1095.2ZM1039.2,1095.0L1034.2,1094.3L1034.0,1095.7L1039.1,1096.2ZM1054.3,1098.0L1049.2,1097.7L1049.2,1098.5L1054.3,1098.7ZM1059.5,1101.5L1054.4,1102.2L1054.5,1102.9L1059.6,1102.1ZM1054.9,1104.5L1049.9,1105.7L1050.1,1106.6L1055.0,1105.2ZM1040.2,1109.0L1035.3,1110.4L1035.7,1111.7L1040.5,1110.2ZM1060.2,1104.7L1055.4,1106.2L1055.6,1106.9L1060.4,1105.2ZM1050.5,1107.8L1045.6,1109.4L1046.0,1110.4L1050.8,1108.7ZM1028.2,1131.5L1024.0,1134.3L1025.2,1136.0L1029.3,1133.0ZM1035.9,1133.2L1032.0,1136.5L1033.2,1137.9L1037.0,1134.5ZM1024.2,1143.1L1020.3,1146.4L1021.8,1148.2L1025.6,1144.7ZM1025.4,1144.5L1021.6,1147.9L1023.2,1149.6L1026.9,1146.1ZM1034.1,1146.0L1030.6,1149.7L1032.3,1151.2L1035.6,1147.3ZM1033.5,1152.2L1030.2,1156.1L1032.1,1157.6L1035.2,1153.5ZM1042.2,1152.2L1039.5,1156.5L1041.4,1157.7L1044.0,1153.3ZM1046.7,1154.8L1044.3,1159.3L1046.3,1160.3L1048.5,1155.7ZM1069.5,1161.7L1069.0,1166.8L1071.2,1167.0L1071.5,1161.9ZM1070.8,1167.0L1070.4,1172.1L1072.8,1172.2L1073.0,1167.1ZM1081.5,1161.8L1081.9,1166.9L1084.1,1166.7L1083.5,1161.6ZM1084.9,1151.1L1085.7,1156.1L1087.6,1155.8L1086.6,1150.8ZM1089.1,1144.9L1090.5,1149.8L1092.1,1149.3L1090.5,1144.5ZM1093.3,1159.6L1094.7,1164.6L1096.8,1163.9L1095.2,1159.1ZM1096.5,1164.0L1098.0,1168.9L1100.3,1168.1L1098.6,1163.3ZM1103.4,1161.4L1105.5,1166.1L1107.6,1165.1L1105.4,1160.5ZM1098.6,1141.0L1101.1,1145.5L1102.6,1144.6L1100.0,1140.2ZM1110.0,1158.0L1112.6,1162.4L1114.6,1161.2L1111.9,1156.9ZM1108.9,1152.7L1111.6,1157.1L1113.5,1155.9L1110.6,1151.6ZM1104.8,1143.3L1107.6,1147.5L1109.1,1146.5L1106.2,1142.3ZM1123.3,1147.9L1126.9,1151.6L1128.5,1149.9L1124.8,1146.4ZM1116.5,1132.7L1120.4,1136.0L1121.6,1134.5L1117.5,1131.4ZM1134.6,1133.3L1139.1,1135.9L1140.2,1133.8L1135.7,1131.4ZM1125.0,1117.9L1129.8,1119.7L1130.4,1117.9L1125.6,1116.3ZM1127.4,1109.6L1132.4,1110.6L1132.7,1108.8L1127.7,1107.9ZM1132.9,1107.5L1138.0,1108.2L1138.2,1106.2L1133.1,1105.6ZM1128.4,1099.6L1133.5,1099.6L1133.4,1097.8L1128.3,1097.9ZM1138.6,1099.7L1143.7,1099.7L1143.7,1097.5L1138.6,1097.6ZM1143.7,1099.7L1148.8,1099.7L1148.8,1097.3L1143.7,1097.5ZM1133.3,1094.9L1138.4,1094.5L1138.2,1092.5L1133.1,1093.1ZM1137.8,1089.4L1142.8,1088.6L1142.4,1086.4L1137.4,1087.4Z" fill="#7e96c6"/>
<path d="M1065.3,1080.6L1062.8,1076.2L1062.0,1076.6L1064.7,1081.0ZM1060.3,1071.7L1057.7,1067.3L1056.7,1067.9L1059.4,1072.2ZM1039.4,1042.5L1036.7,1038.2L1034.7,1039.5L1037.6,1043.8ZM1067.2,1092.1L1063.3,1088.8L1062.9,1089.2L1067.0,1092.4ZM1044.1,1080.6L1039.7,1078.0L1039.0,1079.2L1043.5,1081.7ZM1065.0,1096.2L1060.1,1094.8L1059.9,1095.3L1064.9,1096.6ZM1049.5,1095.5L1044.4,1094.7L1044.3,1095.7L1049.4,1096.3ZM1039.0,1098.0L1033.9,1097.8L1033.9,1099.2L1039.0,1099.2ZM1045.1,1107.7L1040.2,1109.0L1040.5,1110.2L1045.4,1108.7ZM1033.0,1119.0L1028.3,1121.1L1029.0,1122.6L1033.6,1120.4ZM1034.1,1138.9L1030.4,1142.4L1031.8,1143.8L1035.4,1140.2ZM1043.1,1140.2L1039.9,1144.2L1041.4,1145.4L1044.4,1141.3ZM1059.4,1149.2L1057.7,1154.0L1059.5,1154.6L1061.0,1149.7ZM1071.6,1156.8L1071.2,1161.9L1073.3,1162.0L1073.5,1156.9ZM1076.4,1162.1L1076.4,1167.2L1078.6,1167.1L1078.4,1162.0ZM1086.3,1150.8L1087.3,1155.9L1089.1,1155.5L1088.0,1150.5ZM1093.2,1149.0L1094.9,1153.8L1096.6,1153.1L1094.8,1148.4ZM1098.2,1158.0L1100.0,1162.8L1102.0,1162.0L1100.1,1157.3ZM1095.9,1147.9L1097.8,1152.7L1099.6,1151.9L1097.5,1147.3ZM1096.3,1142.2L1098.5,1146.8L1100.0,1146.0L1097.7,1141.5ZM1102.1,1150.7L1104.4,1155.2L1106.2,1154.3L1103.8,1149.8ZM1102.3,1144.8L1104.9,1149.2L1106.5,1148.2L1103.8,1143.9ZM1114.7,1155.0L1117.6,1159.2L1119.6,1157.8L1116.5,1153.7ZM1101.0,1133.4L1104.1,1137.5L1105.3,1136.6L1102.1,1132.6ZM1137.2,1128.4L1141.8,1130.6L1142.8,1128.4L1138.1,1126.4ZM1122.6,1091.9L1127.7,1091.1L1127.4,1089.4L1122.4,1090.4Z" fill="#aebad2"/>
<path d="M1062.8,1076.2L1060.3,1071.7L1059.4,1072.2L1062.0,1076.6ZM1060.6,1084.2L1056.9,1080.6L1056.3,1081.2L1060.1,1084.7ZM1067.4,1091.9L1063.6,1088.5L1063.2,1088.9L1067.2,1092.1ZM1062.4,1089.9L1058.3,1086.9L1057.9,1087.5L1062.1,1090.3ZM1052.2,1087.1L1047.7,1084.8L1047.2,1085.7L1051.8,1087.9ZM1065.7,1094.5L1061.1,1092.2L1060.8,1092.7L1065.5,1094.8ZM1041.1,1087.1L1036.3,1085.4L1035.9,1086.7L1040.7,1088.2ZM1055.0,1105.1L1050.1,1106.4L1050.3,1107.3L1055.2,1105.8ZM1051.0,1109.2L1046.2,1111.1L1046.6,1112.0L1051.3,1110.0ZM1014.3,1127.4L1009.7,1129.5L1010.7,1131.7L1015.3,1129.4ZM1016.8,1132.4L1012.4,1134.9L1013.6,1136.9L1017.9,1134.3ZM1024.0,1134.3L1019.7,1137.1L1021.0,1139.0L1025.2,1136.0ZM1033.0,1137.7L1029.2,1141.1L1030.6,1142.6L1034.3,1139.1ZM1037.8,1135.4L1034.1,1138.9L1035.4,1140.2L1039.0,1136.6ZM1045.3,1135.4L1042.0,1139.3L1043.3,1140.4L1046.5,1136.4ZM1051.9,1151.7L1049.7,1156.3L1051.6,1157.1L1053.6,1152.4ZM1049.7,1156.3L1047.6,1160.9L1049.6,1161.8L1051.6,1157.1ZM1054.8,1152.9L1052.9,1157.7L1054.8,1158.4L1056.5,1153.6ZM1056.1,1158.8L1054.5,1163.7L1056.6,1164.4L1058.1,1159.5ZM1054.5,1163.7L1052.9,1168.5L1055.1,1169.2L1056.6,1164.4ZM1065.3,1166.3L1064.5,1171.4L1066.8,1171.7L1067.5,1166.7ZM1068.5,1156.5L1067.8,1161.5L1069.8,1161.8L1070.3,1156.7ZM1072.7,1167.1L1072.4,1172.2L1074.8,1172.3L1074.9,1167.2ZM1090.0,1160.5L1091.1,1165.5L1093.3,1165.0L1092.0,1160.0ZM1090.5,1149.8L1091.9,1154.7L1093.7,1154.2L1092.1,1149.3ZM1094.6,1148.5L1096.4,1153.2L1098.1,1152.6L1096.1,1147.8ZM1113.2,1156.1L1116.0,1160.3L1117.9,1159.0L1115.0,1154.8ZM1117.3,1139.5L1120.9,1143.1L1122.3,1141.6L1118.5,1138.1ZM1124.6,1146.6L1128.3,1150.2L1129.9,1148.4L1126.1,1145.0ZM1125.9,1145.3L1129.6,1148.7L1131.2,1147.0L1127.3,1143.6ZM1132.7,1136.5L1137.0,1139.3L1138.2,1137.3L1133.9,1134.6ZM1129.3,1132.3L1133.7,1134.9L1134.8,1133.0L1130.4,1130.5ZM1133.7,1134.9L1138.0,1137.6L1139.2,1135.6L1134.8,1133.0ZM1129.2,1121.2L1134.0,1123.1L1134.7,1121.2L1129.9,1119.4ZM1131.7,1113.7L1136.6,1114.9L1137.1,1112.9L1132.1,1111.9ZM1138.0,1108.2L1143.0,1108.9L1143.3,1106.7L1138.2,1106.2ZM1138.2,1106.5L1143.3,1107.1L1143.5,1104.9L1138.4,1104.5ZM1143.3,1107.1L1148.3,1107.6L1148.6,1105.3L1143.5,1104.9ZM1143.6,1103.4L1148.7,1103.7L1148.8,1101.3L1143.7,1101.2ZM1133.5,1098.1L1138.6,1097.9L1138.5,1095.9L1133.4,1096.2ZM1143.6,1096.0L1148.7,1095.7L1148.5,1093.3L1143.4,1093.8Z" fill="#5a7eba"/>
<path d="M1057.7,1067.3L1055.2,1062.8L1054.0,1063.5L1056.7,1067.9ZM1070.1,1089.7L1067.4,1085.3L1067.0,1085.6L1069.7,1089.9ZM1043.7,1045.9L1041.0,1041.6L1039.1,1042.7L1041.9,1047.0ZM1056.6,1074.1L1053.5,1070.1L1052.6,1070.8L1055.8,1074.8ZM1032.0,1048.1L1028.7,1044.2L1026.9,1045.8L1030.3,1049.5ZM1032.8,1054.2L1029.2,1050.5L1027.7,1052.1L1031.3,1055.7ZM1044.5,1071.5L1040.7,1068.1L1039.7,1069.3L1043.6,1072.6ZM1051.5,1079.0L1047.6,1075.7L1046.9,1076.6L1050.9,1079.8ZM1039.8,1069.1L1035.9,1065.8L1034.8,1067.1L1038.8,1070.3ZM1021.9,1058.9L1017.8,1055.8L1016.4,1057.7L1020.6,1060.7ZM1045.2,1078.9L1041.0,1076.1L1040.2,1077.2L1044.5,1079.9ZM1018.7,1063.4L1014.4,1060.7L1013.2,1062.8L1017.6,1065.3ZM1039.7,1078.0L1035.3,1075.4L1034.6,1076.8L1039.0,1079.2ZM1035.3,1075.4L1030.9,1072.8L1030.1,1074.3L1034.6,1076.8ZM1016.8,1066.6L1012.4,1064.2L1011.2,1066.3L1015.8,1068.6ZM1033.5,1078.9L1028.9,1076.6L1028.2,1078.2L1032.8,1080.3ZM1060.9,1092.7L1056.2,1090.6L1055.9,1091.2L1060.7,1093.2ZM1055.8,1091.7L1051.0,1089.8L1050.7,1090.6L1055.5,1092.3ZM1065.1,1095.9L1060.2,1094.4L1060.0,1094.9L1065.0,1096.3ZM1055.4,1092.8L1050.5,1091.2L1050.2,1092.0L1055.1,1093.5ZM1021.4,1081.7L1016.5,1080.1L1015.9,1082.1L1020.8,1083.5ZM1044.9,1092.1L1040.0,1091.0L1039.7,1092.1L1044.7,1093.2ZM1035.0,1089.8L1030.0,1088.6L1029.7,1090.1L1034.7,1091.1ZM1020.1,1086.2L1015.1,1085.1L1014.7,1087.1L1019.7,1088.1ZM1010.1,1083.9L1005.2,1082.7L1004.7,1085.0L1009.7,1086.1ZM1034.7,1090.9L1029.7,1089.9L1029.4,1091.4L1034.5,1092.3ZM1039.5,1092.9L1034.5,1092.0L1034.3,1093.4L1039.3,1094.1ZM1034.3,1093.2L1029.3,1092.4L1029.1,1093.9L1034.1,1094.5ZM1029.1,1093.7L1024.0,1093.1L1023.8,1094.8L1028.9,1095.2ZM1024.0,1093.1L1019.0,1092.4L1018.8,1094.3L1023.8,1094.8ZM1059.5,1097.9L1054.4,1097.4L1054.3,1098.1L1059.4,1098.5ZM1008.5,1094.9L1003.4,1094.5L1003.2,1096.9L1008.4,1097.1ZM1018.6,1097.2L1013.5,1096.9L1013.4,1099.0L1018.5,1099.0ZM1064.5,1099.7L1059.4,1099.7L1059.4,1100.3L1064.5,1100.0ZM1033.9,1100.1L1028.7,1100.2L1028.8,1101.7L1033.9,1101.5ZM1019.0,1106.6L1013.9,1107.2L1014.2,1109.2L1019.2,1108.4ZM1049.7,1105.0L1044.7,1106.0L1045.0,1107.0L1049.9,1105.8ZM1034.7,1108.1L1029.7,1109.2L1030.1,1110.7L1035.0,1109.5ZM1030.3,1111.7L1025.4,1113.0L1025.9,1114.6L1030.8,1113.2ZM1055.2,1105.7L1050.3,1107.1L1050.5,1108.0L1055.4,1106.3ZM1051.6,1110.6L1046.9,1112.7L1047.4,1113.6L1051.9,1111.4ZM1065.7,1104.5L1061.1,1106.8L1061.3,1107.2L1065.8,1104.9ZM1039.2,1120.0L1034.7,1122.5L1035.5,1123.8L1039.9,1121.2ZM1052.9,1113.2L1048.5,1115.8L1049.1,1116.7L1053.4,1113.9ZM1039.7,1121.0L1035.3,1123.6L1036.2,1124.9L1040.5,1122.2ZM1057.6,1111.1L1053.3,1113.8L1053.8,1114.5L1058.0,1111.7ZM1036.0,1124.7L1031.7,1127.4L1032.6,1128.8L1036.9,1126.0ZM1066.6,1106.2L1062.5,1109.1L1062.8,1109.5L1066.8,1106.5ZM1050.0,1118.0L1045.8,1120.9L1046.5,1121.9L1050.6,1118.8ZM1045.8,1120.9L1041.6,1123.9L1042.4,1125.0L1046.5,1121.9ZM1058.6,1112.5L1054.6,1115.6L1055.1,1116.3L1059.1,1113.1ZM1043.0,1125.7L1039.0,1128.9L1040.0,1130.1L1043.9,1126.8ZM1032.0,1136.5L1028.1,1139.8L1029.4,1141.3L1033.2,1137.9ZM1060.2,1114.4L1056.4,1117.9L1057.1,1118.5L1060.7,1114.9ZM1053.3,1122.0L1049.7,1125.6L1050.6,1126.4L1054.1,1122.7ZM1046.9,1130.0L1043.4,1133.7L1044.5,1134.7L1047.9,1130.9ZM1065.2,1112.1L1061.9,1116.0L1062.4,1116.5L1065.6,1112.5ZM1059.1,1120.4L1055.9,1124.3L1056.8,1125.0L1059.8,1120.9ZM1047.3,1137.1L1044.2,1141.1L1045.6,1142.1L1048.6,1138.0ZM1044.2,1141.1L1041.1,1145.2L1042.6,1146.3L1045.6,1142.1ZM1041.1,1145.2L1038.0,1149.2L1039.7,1150.5L1042.6,1146.3ZM1066.3,1113.0L1063.3,1117.1L1063.9,1117.5L1066.7,1113.3ZM1054.3,1129.5L1051.3,1133.7L1052.5,1134.5L1055.3,1130.2ZM1051.3,1133.7L1048.4,1137.8L1049.6,1138.7L1052.5,1134.5ZM1066.7,1113.2L1063.8,1117.5L1064.4,1117.8L1067.1,1113.5ZM1064.3,1117.8L1061.5,1122.1L1062.3,1122.5L1064.9,1118.2ZM1053.3,1135.0L1050.5,1139.3L1051.8,1140.1L1054.4,1135.7ZM1059.5,1126.8L1056.9,1131.2L1057.9,1131.8L1060.4,1127.4ZM1063.4,1123.2L1061.0,1127.7L1062.0,1128.2L1064.2,1123.6ZM1069.0,1114.6L1066.9,1119.2L1067.5,1119.5L1069.5,1114.8ZM1058.0,1148.7L1056.3,1153.5L1058.0,1154.1L1059.6,1149.2ZM1057.8,1159.4L1056.3,1164.3L1058.4,1164.9L1059.7,1159.9ZM1071.6,1115.5L1070.2,1120.4L1070.9,1120.6L1072.1,1115.6ZM1070.2,1120.4L1068.9,1125.4L1069.7,1125.6L1070.9,1120.6ZM1072.5,1115.7L1071.4,1120.7L1072.1,1120.9L1073.0,1115.8ZM1066.3,1151.0L1065.4,1156.0L1067.2,1156.3L1068.0,1151.3ZM1072.6,1120.9L1071.8,1126.0L1072.6,1126.1L1073.3,1121.0ZM1070.5,1141.3L1069.8,1146.4L1071.3,1146.5L1071.8,1141.4ZM1069.8,1146.4L1069.1,1151.4L1070.8,1151.6L1071.3,1146.5ZM1073.6,1131.3L1073.2,1136.4L1074.4,1136.5L1074.6,1131.4ZM1074.9,1121.2L1074.7,1126.3L1075.6,1126.3L1075.6,1121.2ZM1074.9,1151.9L1074.8,1157.0L1076.6,1157.0L1076.6,1151.9ZM1077.1,1131.4L1077.2,1136.5L1078.4,1136.5L1078.1,1131.4ZM1076.7,1111.0L1077.0,1116.1L1077.5,1116.0L1077.1,1111.0ZM1077.9,1131.4L1078.2,1136.5L1079.4,1136.4L1079.0,1131.3ZM1077.0,1111.0L1077.5,1116.0L1078.0,1116.0L1077.4,1110.9ZM1079.1,1121.0L1079.8,1126.1L1080.7,1125.9L1079.8,1120.9ZM1082.0,1141.2L1082.7,1146.3L1084.2,1146.0L1083.4,1141.0ZM1084.0,1146.1L1084.9,1151.1L1086.6,1150.8L1085.5,1145.8ZM1082.7,1125.5L1084.0,1130.4L1085.0,1130.1L1083.5,1125.2ZM1087.8,1145.3L1089.1,1150.2L1090.7,1149.8L1089.3,1144.9ZM1082.6,1120.2L1084.1,1125.1L1084.9,1124.8L1083.2,1120.0ZM1080.4,1110.1L1082.3,1114.9L1082.8,1114.7L1080.7,1110.0ZM1090.1,1133.8L1092.0,1138.5L1093.3,1137.9L1091.2,1133.3ZM1093.1,1138.0L1095.1,1142.7L1096.5,1142.1L1094.3,1137.5ZM1085.9,1118.8L1088.2,1123.4L1089.0,1123.0L1086.5,1118.5ZM1092.8,1132.5L1095.2,1137.0L1096.4,1136.4L1093.9,1131.9ZM1097.5,1141.6L1099.8,1146.1L1101.3,1145.3L1098.8,1140.9ZM1084.0,1114.1L1086.4,1118.6L1087.0,1118.2L1084.4,1113.8ZM1102.0,1139.0L1104.8,1143.3L1106.2,1142.3L1103.2,1138.1ZM1097.2,1129.9L1100.1,1134.1L1101.2,1133.3L1098.2,1129.2ZM1082.8,1108.7L1085.9,1112.9L1086.3,1112.5L1083.1,1108.5ZM1098.8,1128.7L1102.0,1132.7L1103.0,1131.8L1099.8,1127.9ZM1085.1,1106.6L1089.1,1109.7L1089.4,1109.3L1085.3,1106.3ZM1105.3,1122.2L1109.3,1125.4L1110.1,1124.3L1106.0,1121.3ZM1106.5,1120.6L1110.7,1123.5L1111.4,1122.4L1107.1,1119.6ZM1107.0,1119.7L1111.3,1122.5L1112.0,1121.4L1107.7,1118.7ZM1111.9,1121.6L1116.3,1124.2L1117.1,1122.9L1112.6,1120.4ZM1099.6,1112.3L1104.1,1114.7L1104.6,1113.8L1100.0,1111.5ZM1095.4,1109.3L1099.9,1111.6L1100.3,1110.8L1095.7,1108.7ZM1109.0,1116.2L1113.6,1118.5L1114.2,1117.3L1109.6,1115.1ZM1109.5,1115.3L1114.1,1117.5L1114.7,1116.2L1110.0,1114.2ZM1119.8,1117.3L1124.5,1119.2L1125.1,1117.6L1120.3,1115.9ZM1101.1,1108.9L1105.9,1110.7L1106.2,1109.7L1101.4,1108.1ZM1110.7,1112.5L1115.5,1114.3L1115.9,1113.0L1111.1,1111.4ZM1086.9,1103.2L1091.7,1104.9L1091.9,1104.4L1087.0,1102.9ZM1096.9,1105.4L1101.8,1106.8L1102.0,1106.0L1097.1,1104.7ZM1101.8,1106.8L1106.7,1108.2L1107.0,1107.2L1102.0,1106.0ZM1102.0,1106.1L1106.9,1107.4L1107.2,1106.4L1102.2,1105.3ZM1087.3,1101.7L1092.3,1102.7L1092.4,1102.2L1087.3,1101.4ZM1097.5,1102.5L1102.6,1103.2L1102.7,1102.4L1097.6,1101.8ZM1112.7,1104.7L1117.7,1105.4L1117.9,1104.0L1112.8,1103.5ZM1097.7,1099.6L1102.8,1099.6L1102.8,1098.7L1097.7,1098.8ZM1118.1,1098.5L1123.2,1098.3L1123.2,1096.8L1118.1,1097.1ZM1107.9,1097.8L1113.0,1097.6L1112.9,1096.4L1107.8,1096.8ZM1118.1,1097.3L1123.2,1097.0L1123.1,1095.5L1118.0,1095.9ZM1102.7,1097.4L1107.8,1097.0L1107.7,1095.9L1102.7,1096.5ZM1123.1,1095.7L1128.2,1095.3L1128.0,1093.6L1123.0,1094.2ZM1107.8,1096.1L1112.8,1095.5L1112.7,1094.3L1107.6,1095.1ZM1123.0,1094.4L1128.1,1093.9L1127.9,1092.2L1122.8,1092.9ZM1128.1,1093.9L1133.1,1093.4L1132.9,1091.5L1127.9,1092.2ZM1087.3,1097.6L1092.4,1096.8L1092.3,1096.3L1087.3,1097.3ZM1117.6,1092.7L1122.6,1091.9L1122.4,1090.4L1117.4,1091.3Z" fill="#eadeae"/>
<path d="M1052.7,1058.4L1050.2,1053.9L1048.7,1054.8L1051.4,1059.2ZM1048.9,1054.7L1046.3,1050.3L1044.7,1051.3L1047.5,1055.6ZM1034.0,1053.1L1030.6,1049.3L1029.0,1050.8L1032.5,1054.5ZM1032.0,1062.5L1028.1,1059.2L1026.8,1060.8L1030.8,1064.0ZM1024.2,1056.0L1020.3,1052.7L1018.8,1054.5L1022.8,1057.7ZM1034.1,1068.1L1030.0,1065.0L1028.9,1066.5L1033.1,1069.4ZM1028.9,1076.6L1024.3,1074.4L1023.5,1076.1L1028.2,1078.2ZM1014.3,1071.6L1009.7,1069.5L1008.7,1071.7L1013.4,1073.6ZM1011.6,1078.5L1006.8,1077.0L1006.1,1079.2L1011.0,1080.6ZM1025.8,1084.7L1020.9,1083.2L1020.4,1085.0L1025.3,1086.3ZM1025.4,1086.0L1020.5,1084.7L1020.0,1086.5L1025.0,1087.7ZM1014.7,1086.7L1009.7,1085.7L1009.3,1087.9L1014.3,1088.8ZM1024.5,1090.2L1019.4,1089.3L1019.1,1091.2L1024.2,1091.9ZM1023.7,1097.4L1018.6,1097.2L1018.5,1099.0L1023.6,1099.1ZM1028.7,1098.9L1023.6,1098.8L1023.6,1100.5L1028.8,1100.4ZM1013.7,1105.5L1008.6,1106.0L1008.9,1108.2L1013.9,1107.5ZM1015.1,1114.0L1010.1,1115.2L1010.7,1117.3L1015.6,1116.0ZM1026.7,1117.1L1021.9,1118.8L1022.5,1120.6L1027.3,1118.7ZM1017.1,1120.5L1012.3,1122.3L1013.0,1124.3L1017.8,1122.5ZM1065.8,1104.8L1061.3,1107.2L1061.5,1107.6L1066.0,1105.1ZM1061.0,1127.7L1058.6,1132.2L1059.7,1132.8L1062.0,1128.2ZM1068.5,1119.9L1066.8,1124.7L1067.6,1125.0L1069.2,1120.1ZM1069.6,1125.6L1068.4,1130.5L1069.4,1130.7L1070.5,1125.7ZM1072.0,1120.8L1071.0,1125.9L1071.9,1126.0L1072.7,1121.0ZM1074.5,1110.9L1073.8,1116.0L1074.4,1116.0L1074.9,1110.9ZM1072.5,1126.1L1071.8,1131.2L1072.9,1131.3L1073.4,1126.2ZM1074.7,1116.1L1074.3,1121.2L1075.0,1121.2L1075.3,1116.1ZM1075.6,1116.1L1075.5,1121.2L1076.2,1121.2L1076.2,1116.1ZM1076.1,1121.2L1076.2,1126.3L1077.0,1126.3L1076.8,1121.2ZM1081.3,1125.8L1082.3,1130.8L1083.3,1130.6L1082.1,1125.6ZM1080.8,1120.7L1082.0,1125.6L1082.8,1125.4L1081.5,1120.5ZM1082.0,1120.4L1083.4,1125.3L1084.2,1125.0L1082.7,1120.2ZM1079.5,1110.5L1081.0,1115.3L1081.5,1115.2L1079.8,1110.3ZM1094.3,1125.7L1097.2,1129.9L1098.2,1129.2L1095.1,1125.1ZM1086.2,1112.6L1089.4,1116.6L1089.9,1116.2L1086.7,1112.2ZM1084.0,1107.7L1087.6,1111.4L1088.0,1111.0L1084.3,1107.5ZM1088.2,1110.7L1092.0,1114.2L1092.5,1113.7L1088.6,1110.3ZM1091.0,1106.6L1095.6,1108.8L1095.9,1108.1L1091.2,1106.1ZM1104.9,1113.1L1109.5,1115.3L1110.0,1114.2L1105.3,1112.2ZM1096.1,1107.7L1100.8,1109.6L1101.2,1108.8L1096.4,1107.0ZM1091.7,1104.9L1096.5,1106.6L1096.8,1105.9L1091.9,1104.4ZM1092.4,1101.8L1097.5,1102.5L1097.6,1101.8L1092.5,1101.3ZM1087.4,1100.8L1092.5,1101.4L1092.6,1100.8L1087.5,1100.4ZM1092.6,1100.5L1097.7,1100.7L1097.7,1100.0L1092.6,1099.9ZM1102.8,1098.8L1107.9,1098.7L1107.9,1097.7L1102.8,1098.0Z" fill="#ea8a66"/>
<path d="M1050.2,1053.9L1047.7,1049.5L1046.0,1050.5L1048.7,1054.8ZM1046.3,1062.8L1043.1,1058.8L1041.8,1059.9L1045.1,1063.7ZM1027.7,1119.8L1023.0,1121.8L1023.8,1123.5L1028.4,1121.4ZM1077.9,1121.1L1078.4,1126.2L1079.2,1126.1L1078.6,1121.1ZM1090.5,1127.9L1092.8,1132.5L1093.9,1131.9L1091.4,1127.5ZM1085.1,1113.4L1087.9,1117.6L1088.5,1117.2L1085.6,1113.1ZM1101.2,1119.1L1105.3,1122.2L1106.0,1121.3L1101.8,1118.3ZM1094.5,1110.9L1098.9,1113.5L1099.3,1112.8L1094.9,1110.3ZM1086.1,1105.0L1090.6,1107.4L1090.9,1106.9L1086.3,1104.6ZM1102.6,1095.9L1107.6,1095.2L1107.5,1094.2L1102.5,1095.0ZM1092.4,1096.8L1097.4,1096.0L1097.3,1095.3L1092.3,1096.3Z" fill="#de7e5a"/>
<path d="M1047.7,1049.5L1045.1,1045.1L1043.4,1046.1L1046.0,1050.5ZM1042.2,1046.8L1039.4,1042.5L1037.6,1043.8L1040.5,1048.0ZM1033.3,1069.2L1029.1,1066.3L1028.0,1067.8L1032.3,1070.6ZM1021.3,1069.1L1016.8,1066.6L1015.8,1068.6L1020.3,1070.9ZM1030.0,1088.6L1025.0,1087.4L1024.7,1089.1L1029.7,1090.1ZM1009.7,1085.7L1004.7,1084.7L1004.3,1087.0L1009.3,1087.9ZM1028.9,1102.8L1023.8,1103.1L1023.9,1104.8L1029.0,1104.3ZM1008.5,1104.2L1003.4,1104.5L1003.6,1106.9L1008.7,1106.4ZM1013.9,1107.2L1008.8,1107.9L1009.1,1110.0L1014.2,1109.2ZM1008.8,1107.9L1003.8,1108.5L1004.1,1110.8L1009.1,1110.0ZM1024.2,1107.4L1019.2,1108.2L1019.5,1110.0L1024.5,1109.1ZM1030.7,1112.9L1025.8,1114.4L1026.3,1116.0L1031.2,1114.4ZM1020.9,1115.8L1016.0,1117.3L1016.6,1119.2L1021.5,1117.6ZM1027.2,1118.5L1022.4,1120.3L1023.1,1122.0L1027.8,1120.0ZM1061.1,1106.8L1056.5,1109.0L1056.8,1109.6L1061.3,1107.2ZM1061.3,1107.2L1056.7,1109.5L1057.1,1110.2L1061.5,1107.6ZM1056.7,1109.5L1052.2,1111.9L1052.6,1112.7L1057.1,1110.2ZM1057.0,1110.1L1052.6,1112.5L1053.0,1113.3L1057.4,1110.7ZM1063.6,1110.5L1059.8,1113.9L1060.3,1114.5L1064.0,1110.9ZM1066.4,1119.0L1064.1,1123.5L1064.9,1123.9L1067.0,1119.3ZM1069.9,1114.9L1068.0,1119.7L1068.6,1119.9L1070.4,1115.1ZM1066.1,1124.4L1064.2,1129.2L1065.2,1129.5L1066.9,1124.7ZM1074.7,1126.3L1074.4,1131.4L1075.5,1131.4L1075.6,1126.3ZM1078.3,1110.8L1079.3,1115.8L1079.8,1115.7L1078.6,1110.7ZM1085.4,1140.6L1086.5,1145.6L1088.0,1145.2L1086.7,1140.3ZM1081.4,1120.5L1082.7,1125.5L1083.5,1125.2L1082.1,1120.3ZM1083.4,1125.3L1084.8,1130.2L1085.8,1129.9L1084.2,1125.0ZM1083.7,1119.8L1085.5,1124.6L1086.3,1124.3L1084.4,1119.5ZM1085.3,1119.1L1087.5,1123.7L1088.3,1123.3L1086.0,1118.8ZM1090.7,1121.9L1093.5,1126.2L1094.4,1125.6L1091.5,1121.4ZM1088.4,1117.3L1091.3,1121.5L1092.1,1121.0L1089.0,1116.9ZM1091.9,1121.1L1095.0,1125.2L1095.8,1124.6L1092.6,1120.5ZM1095.7,1124.7L1098.8,1128.7L1099.8,1127.9L1096.5,1124.0ZM1093.5,1112.3L1097.6,1115.4L1098.1,1114.7L1093.9,1111.8ZM1090.2,1108.2L1094.5,1110.9L1094.9,1110.3L1090.4,1107.7ZM1090.4,1107.8L1094.8,1110.4L1095.2,1109.7L1090.6,1107.3ZM1086.3,1104.7L1090.8,1107.0L1091.1,1106.5L1086.4,1104.4ZM1102.7,1102.5L1107.7,1103.1L1107.8,1102.0L1102.7,1101.6Z" fill="#ea9672"/>
<path d="M1045.1,1045.1L1042.6,1040.6L1040.7,1041.7L1043.4,1046.1ZM1044.2,1057.9L1041.1,1053.8L1039.6,1055.0L1042.9,1059.0ZM1043.1,1058.8L1039.9,1054.8L1038.4,1056.0L1041.8,1059.9ZM1035.9,1065.8L1032.0,1062.5L1030.8,1064.0L1034.8,1067.1ZM1025.9,1061.9L1021.9,1058.9L1020.6,1060.7L1024.7,1063.6ZM1032.9,1080.0L1028.3,1077.9L1027.6,1079.5L1032.3,1081.4ZM1027.2,1080.6L1022.4,1078.7L1021.8,1080.5L1026.6,1082.2ZM1029.7,1089.9L1024.7,1088.8L1024.4,1090.5L1029.4,1091.4ZM1018.7,1095.6L1013.6,1095.2L1013.5,1097.3L1018.6,1097.5ZM1017.7,1122.2L1012.9,1124.0L1013.7,1126.1L1018.4,1124.0ZM1056.6,1124.9L1053.5,1128.9L1054.5,1129.7L1057.5,1125.5ZM1063.3,1117.1L1060.3,1121.3L1061.0,1121.8L1063.9,1117.5ZM1076.9,1126.3L1077.1,1131.4L1078.1,1131.4L1077.8,1126.3ZM1084.0,1130.4L1085.3,1135.4L1086.4,1135.0L1085.0,1130.1ZM1095.1,1109.8L1099.6,1112.3L1100.0,1111.5L1095.4,1109.2ZM1096.5,1106.6L1101.4,1108.2L1101.6,1107.4L1096.8,1105.9ZM1107.9,1098.7L1113.0,1098.6L1113.0,1097.4L1107.9,1097.7Z" fill="#ea7e66"/>
<path d="M1067.4,1085.3L1064.8,1080.9L1064.2,1081.3L1067.0,1085.6ZM1061.4,1083.4L1058.0,1079.6L1057.4,1080.2L1060.9,1083.9ZM1046.9,1069.0L1043.4,1065.3L1042.3,1066.4L1045.9,1070.0ZM1056.9,1080.6L1053.3,1077.0L1052.6,1077.8L1056.3,1081.2ZM1063.0,1089.2L1059.0,1086.0L1058.6,1086.6L1062.7,1089.6ZM1048.5,1083.2L1044.1,1080.6L1043.5,1081.7L1048.0,1084.1ZM1052.5,1086.5L1048.1,1084.0L1047.6,1084.9L1052.1,1087.3ZM1056.7,1089.5L1052.2,1087.1L1051.8,1087.9L1056.4,1090.1ZM1055.2,1093.3L1050.3,1091.9L1050.0,1092.7L1055.0,1094.0ZM1064.9,1096.5L1060.0,1095.2L1059.8,1095.8L1064.8,1096.9ZM1059.5,1101.1L1054.4,1101.6L1054.5,1102.3L1059.5,1101.6ZM1050.1,1106.4L1045.1,1107.7L1045.4,1108.7L1050.3,1107.3ZM1065.1,1103.1L1060.2,1104.7L1060.4,1105.2L1065.2,1103.4ZM1051.3,1109.9L1046.6,1111.9L1047.0,1112.8L1051.6,1110.7ZM1032.5,1128.6L1028.2,1131.5L1029.3,1133.0L1033.5,1130.0ZM1035.2,1140.0L1031.6,1143.6L1033.0,1145.0L1036.5,1141.3ZM1039.5,1156.5L1036.7,1160.8L1038.7,1162.0L1041.4,1157.7ZM1052.9,1157.7L1051.0,1162.4L1053.1,1163.2L1054.8,1158.4ZM1051.0,1162.4L1049.1,1167.2L1051.4,1168.0L1053.1,1163.2ZM1054.5,1158.3L1052.8,1163.1L1054.8,1163.8L1056.4,1158.9ZM1065.4,1156.0L1064.4,1161.0L1066.4,1161.3L1067.2,1156.3ZM1068.5,1146.2L1067.7,1151.2L1069.4,1151.5L1070.1,1146.4ZM1077.7,1151.8L1077.9,1156.9L1079.8,1156.9L1079.4,1151.8ZM1077.9,1156.9L1078.1,1162.0L1080.1,1161.9L1079.8,1156.9ZM1080.6,1151.7L1081.1,1156.8L1082.9,1156.6L1082.3,1151.5ZM1082.6,1156.6L1083.2,1161.7L1085.2,1161.4L1084.5,1156.3ZM1083.2,1161.7L1083.8,1166.7L1086.0,1166.5L1085.2,1161.4ZM1084.9,1161.4L1085.6,1166.5L1087.8,1166.2L1086.9,1161.1ZM1090.9,1138.9L1092.7,1143.7L1094.2,1143.1L1092.2,1138.4ZM1101.1,1145.5L1103.5,1150.0L1105.1,1149.0L1102.6,1144.6ZM1111.6,1157.1L1114.3,1161.4L1116.3,1160.1L1113.5,1155.9ZM1114.6,1148.8L1117.7,1152.8L1119.4,1151.4L1116.1,1147.5ZM1116.9,1123.1L1121.4,1125.7L1122.2,1124.2L1117.7,1121.8ZM1121.4,1125.7L1125.8,1128.2L1126.7,1126.6L1122.2,1124.2ZM1127.3,1125.5L1131.8,1127.8L1132.7,1125.9L1128.1,1123.8ZM1116.8,1109.9L1121.8,1111.2L1122.2,1109.7L1117.2,1108.6ZM1122.4,1108.6L1127.4,1109.6L1127.7,1107.9L1122.6,1107.1ZM1127.6,1108.2L1132.7,1109.1L1133.0,1107.2L1127.9,1106.5ZM1128.3,1096.8L1133.4,1096.5L1133.3,1094.6L1128.2,1095.1ZM1132.7,1090.2L1137.8,1089.4L1137.4,1087.4L1132.4,1088.4Z" fill="#8aa2d2"/>
<path d="M1064.8,1080.9L1062.1,1076.5L1061.4,1077.0L1064.2,1081.3ZM1059.5,1072.2L1056.9,1067.8L1055.8,1068.4L1058.6,1072.7ZM1061.5,1076.9L1058.8,1072.6L1057.9,1073.2L1060.8,1077.4ZM1069.0,1090.4L1065.9,1086.3L1065.5,1086.6L1068.7,1090.6ZM1058.6,1079.1L1055.2,1075.2L1054.5,1075.9L1057.9,1079.7ZM1049.7,1073.4L1046.1,1069.8L1045.1,1070.8L1048.9,1074.3ZM1048.3,1074.9L1044.5,1071.5L1043.6,1072.6L1047.5,1075.8ZM1067.0,1092.3L1063.0,1089.2L1062.7,1089.6L1066.8,1092.6ZM1047.0,1076.5L1043.0,1073.3L1042.2,1074.4L1046.3,1077.4ZM1061.3,1091.8L1056.7,1089.5L1056.4,1090.1L1061.0,1092.3ZM1043.1,1082.4L1038.6,1080.1L1038.0,1081.3L1042.6,1083.5ZM1051.9,1087.8L1047.3,1085.6L1046.8,1086.5L1051.5,1088.6ZM1036.3,1085.4L1031.5,1083.6L1031.0,1085.1L1035.9,1086.7ZM1064.7,1097.2L1059.7,1096.1L1059.6,1096.6L1064.7,1097.5ZM1054.4,1097.4L1049.3,1096.9L1049.2,1097.8L1054.3,1098.1ZM1033.9,1097.8L1028.8,1097.6L1028.7,1099.1L1033.9,1099.2ZM1059.4,1100.6L1054.3,1101.0L1054.4,1101.7L1059.5,1101.2ZM1034.2,1104.7L1029.1,1105.3L1029.3,1106.9L1034.4,1106.1ZM1054.6,1103.4L1049.6,1104.3L1049.8,1105.1L1054.8,1104.1ZM1060.0,1103.8L1055.0,1105.1L1055.2,1105.8L1060.1,1104.3ZM1065.2,1103.4L1060.4,1105.1L1060.5,1105.6L1065.3,1103.7ZM1030.2,1124.9L1025.8,1127.4L1026.7,1129.1L1031.1,1126.4ZM1035.3,1123.6L1030.9,1126.2L1031.8,1127.6L1036.2,1124.9ZM1031.7,1127.4L1027.4,1130.1L1028.4,1131.7L1032.6,1128.8ZM1033.3,1129.8L1029.1,1132.8L1030.2,1134.3L1034.3,1131.2ZM1034.1,1131.0L1030.1,1134.0L1031.2,1135.5L1035.2,1132.3ZM1021.9,1140.2L1017.8,1143.2L1019.3,1145.1L1023.2,1141.9ZM1036.9,1134.3L1033.0,1137.7L1034.3,1139.1L1038.0,1135.6ZM1061.0,1115.2L1057.5,1118.9L1058.1,1119.5L1061.5,1115.7ZM1056.2,1142.4L1054.0,1147.0L1055.6,1147.7L1057.6,1143.0ZM1057.4,1142.9L1055.3,1147.6L1056.9,1148.3L1058.8,1143.5ZM1056.3,1164.3L1054.8,1169.1L1057.1,1169.8L1058.4,1164.9ZM1061.7,1165.7L1060.6,1170.6L1062.9,1171.1L1063.8,1166.1ZM1064.4,1161.0L1063.5,1166.0L1065.7,1166.4L1066.4,1161.3ZM1066.9,1156.3L1066.1,1161.3L1068.1,1161.6L1068.8,1156.5ZM1074.6,1162.1L1074.5,1167.2L1076.7,1167.2L1076.7,1162.1ZM1077.2,1136.5L1077.4,1141.6L1078.8,1141.6L1078.4,1136.5ZM1080.1,1167.1L1080.4,1172.2L1082.8,1172.0L1082.3,1166.9ZM1082.0,1151.5L1082.6,1156.6L1084.5,1156.3L1083.7,1151.3ZM1091.8,1149.4L1093.4,1154.3L1095.2,1153.7L1093.5,1148.9ZM1091.5,1144.1L1093.2,1149.0L1094.8,1148.4L1093.0,1143.6ZM1095.1,1142.7L1097.2,1147.4L1098.8,1146.7L1096.5,1142.1ZM1107.6,1147.5L1110.4,1151.8L1112.1,1150.6L1109.1,1146.5ZM1110.2,1145.7L1113.2,1149.8L1114.8,1148.6L1111.6,1144.6ZM1102.0,1132.7L1105.1,1136.7L1106.3,1135.8L1103.0,1131.8ZM1117.7,1152.8L1120.8,1156.8L1122.7,1155.4L1119.4,1151.4ZM1115.9,1147.7L1119.1,1151.7L1120.8,1150.2L1117.4,1146.4ZM1117.2,1146.6L1120.6,1150.5L1122.2,1149.0L1118.7,1145.2ZM1128.6,1122.6L1133.3,1124.7L1134.1,1122.8L1129.4,1120.9ZM1138.0,1126.7L1142.7,1128.8L1143.6,1126.6L1138.8,1124.7ZM1116.5,1111.0L1121.5,1112.4L1121.9,1110.9L1116.9,1109.7ZM1127.1,1111.0L1132.1,1112.1L1132.4,1110.3L1127.4,1109.3ZM1102.6,1103.2L1107.6,1103.9L1107.8,1102.9L1102.7,1102.4ZM1117.7,1105.4L1122.8,1106.1L1123.0,1104.5L1117.9,1104.0ZM1107.7,1103.1L1112.8,1103.6L1112.9,1102.4L1107.8,1102.0ZM1123.0,1104.8L1128.0,1105.4L1128.2,1103.7L1123.1,1103.3ZM1138.4,1104.8L1143.4,1105.2L1143.6,1103.0L1138.5,1102.8ZM1133.4,1102.8L1138.5,1103.1L1138.6,1101.0L1133.5,1100.9ZM1128.3,1101.1L1133.4,1101.2L1133.5,1099.3L1128.4,1099.4ZM1143.7,1101.5L1148.8,1101.7L1148.8,1099.3L1143.7,1099.3ZM1123.3,1099.6L1128.4,1099.6L1128.3,1097.9L1123.2,1098.1ZM1143.7,1097.8L1148.8,1097.7L1148.7,1095.3L1143.6,1095.6ZM1133.1,1093.4L1138.2,1092.8L1138.0,1090.8L1132.9,1091.5ZM1138.2,1092.8L1143.3,1092.3L1143.0,1090.1L1138.0,1090.8Z" fill="#96aed2"/>
<path d="M1062.1,1076.5L1059.5,1072.2L1058.6,1072.7L1061.4,1077.0ZM1056.0,1068.3L1053.2,1064.0L1052.1,1064.8L1055.0,1069.0ZM1062.8,1082.2L1059.7,1078.2L1059.0,1078.7L1062.3,1082.7ZM1065.2,1086.9L1061.9,1083.0L1061.4,1083.5L1064.8,1087.2ZM1061.9,1083.0L1058.6,1079.1L1057.9,1079.7L1061.4,1083.5ZM1053.9,1076.4L1050.4,1072.7L1049.6,1073.6L1053.2,1077.1ZM1050.4,1072.7L1046.9,1069.0L1045.9,1070.0L1049.6,1073.6ZM1026.6,1053.2L1022.9,1049.7L1021.3,1051.4L1025.1,1054.8ZM1063.3,1088.8L1059.4,1085.5L1058.9,1086.1L1062.9,1089.2ZM1047.6,1075.7L1043.7,1072.4L1042.9,1073.5L1046.9,1076.6ZM1041.6,1075.1L1037.4,1072.2L1036.6,1073.5L1040.8,1076.3ZM1061.9,1090.7L1057.6,1087.9L1057.3,1088.5L1061.7,1091.1ZM1017.7,1065.0L1013.3,1062.4L1012.2,1064.5L1016.6,1067.0ZM1038.6,1080.1L1034.1,1077.7L1033.4,1079.1L1038.0,1081.3ZM1025.0,1073.0L1020.5,1070.6L1019.6,1072.5L1024.2,1074.7ZM1056.5,1090.0L1051.9,1087.8L1051.5,1088.6L1056.2,1090.7ZM1037.1,1083.2L1032.4,1081.2L1031.8,1082.7L1036.6,1084.5ZM1035.6,1087.5L1030.7,1086.1L1030.3,1087.6L1035.2,1088.9ZM1035.3,1088.7L1030.3,1087.3L1030.0,1088.8L1034.9,1090.0ZM1054.7,1095.1L1049.7,1094.0L1049.6,1094.9L1054.6,1095.8ZM1044.2,1096.5L1039.1,1096.0L1039.0,1097.2L1044.1,1097.5ZM1034.0,1095.5L1029.0,1095.0L1028.8,1096.5L1033.9,1096.8ZM1064.5,1099.0L1059.4,1098.8L1059.4,1099.4L1064.5,1099.4ZM1008.4,1096.7L1003.3,1096.5L1003.2,1098.9L1008.3,1098.9ZM1059.4,1099.7L1054.3,1099.8L1054.3,1100.5L1059.4,1100.3ZM1039.2,1104.1L1034.2,1104.7L1034.4,1106.1L1039.4,1105.3ZM1064.6,1101.2L1059.6,1102.0L1059.7,1102.5L1064.7,1101.6ZM1034.3,1105.8L1029.3,1106.6L1029.5,1108.1L1034.6,1107.2ZM1054.7,1103.9L1049.7,1105.0L1049.9,1105.8L1054.9,1104.6ZM1040.0,1108.1L1035.0,1109.2L1035.3,1110.6L1040.3,1109.2ZM1065.0,1102.8L1060.1,1104.2L1060.2,1104.7L1065.1,1103.1ZM1040.8,1111.0L1035.9,1112.6L1036.4,1113.9L1041.2,1112.1ZM1055.8,1107.4L1051.0,1109.2L1051.3,1110.0L1056.0,1108.0ZM1036.7,1114.8L1031.9,1116.6L1032.5,1118.0L1037.2,1116.0ZM1037.1,1115.8L1032.4,1117.8L1033.1,1119.2L1037.7,1117.1ZM1065.5,1104.2L1060.9,1106.4L1061.1,1106.8L1065.7,1104.6ZM1042.3,1114.8L1037.6,1116.9L1038.2,1118.1L1042.8,1115.9ZM1040.3,1122.0L1036.0,1124.7L1036.9,1126.0L1041.1,1123.1ZM1029.1,1132.8L1025.0,1135.7L1026.2,1137.4L1030.2,1134.3ZM1042.3,1124.8L1038.2,1127.9L1039.2,1129.1L1043.2,1125.9ZM1039.0,1128.9L1035.0,1132.1L1036.1,1133.4L1040.0,1130.1ZM1043.7,1126.6L1039.8,1129.9L1040.8,1131.1L1044.6,1127.7ZM1029.2,1141.1L1025.4,1144.5L1026.9,1146.1L1030.6,1142.6ZM1047.8,1130.8L1044.3,1134.6L1045.5,1135.6L1048.8,1131.7ZM1037.5,1142.2L1034.1,1146.0L1035.6,1147.3L1038.9,1143.4ZM1049.5,1132.3L1046.3,1136.3L1047.5,1137.2L1050.6,1133.1ZM1043.7,1147.0L1040.8,1151.2L1042.5,1152.4L1045.2,1148.1ZM1069.8,1109.2L1067.0,1113.5L1067.5,1113.8L1070.1,1109.4ZM1053.9,1141.2L1051.5,1145.8L1053.0,1146.5L1055.2,1141.9ZM1049.1,1150.3L1046.7,1154.8L1048.5,1155.7L1050.7,1151.1ZM1055.3,1147.6L1053.3,1152.3L1055.1,1153.0L1056.9,1148.3ZM1063.3,1134.3L1061.5,1139.1L1062.8,1139.5L1064.4,1134.7ZM1063.5,1145.1L1062.1,1150.0L1063.8,1150.4L1065.0,1145.5ZM1069.1,1135.9L1068.2,1140.9L1069.6,1141.2L1070.3,1136.1ZM1067.3,1145.9L1066.3,1151.0L1068.0,1151.3L1068.8,1146.2ZM1076.3,1157.0L1076.4,1162.1L1078.4,1162.0L1078.2,1156.9ZM1076.4,1111.0L1076.6,1116.1L1077.1,1116.1L1076.8,1111.0ZM1084.3,1135.6L1085.4,1140.6L1086.7,1140.3L1085.4,1135.3ZM1085.3,1135.4L1086.5,1140.3L1087.9,1139.9L1086.4,1135.0ZM1121.9,1149.2L1125.4,1153.0L1127.1,1151.3L1123.5,1147.7ZM1105.4,1129.7L1109.0,1133.3L1110.1,1132.2L1106.4,1128.7ZM1112.6,1137.0L1116.1,1140.6L1117.5,1139.3L1113.8,1135.8ZM1102.6,1125.3L1106.3,1128.8L1107.2,1127.8L1103.4,1124.4ZM1112.5,1129.5L1116.5,1132.7L1117.5,1131.4L1113.5,1128.3ZM1105.9,1121.4L1110.0,1124.4L1110.8,1123.3L1106.6,1120.4ZM1125.0,1129.6L1129.3,1132.3L1130.4,1130.5L1125.9,1128.0ZM1108.1,1118.0L1112.5,1120.6L1113.2,1119.4L1108.7,1117.0ZM1126.6,1126.9L1131.0,1129.3L1132.0,1127.5L1127.4,1125.2ZM1086.8,1103.5L1091.6,1105.3L1091.7,1104.8L1086.9,1103.2ZM1115.5,1114.3L1120.2,1116.1L1120.8,1114.6L1115.9,1113.0ZM1130.8,1116.7L1135.7,1118.2L1136.3,1116.3L1131.4,1114.9ZM1123.1,1103.5L1128.2,1103.9L1128.3,1102.2L1123.2,1102.0ZM1133.3,1104.4L1138.4,1104.8L1138.5,1102.8L1133.4,1102.5ZM1118.1,1099.6L1123.3,1099.6L1123.2,1098.1L1118.1,1098.2ZM1087.4,1098.0L1092.5,1097.3L1092.4,1096.7L1087.3,1097.6Z" fill="#c6d2c6"/>
<path d="M1056.9,1067.8L1054.2,1063.4L1053.0,1064.1L1055.8,1068.4ZM1069.5,1090.0L1066.6,1085.8L1066.2,1086.1L1069.2,1090.2ZM1063.8,1081.6L1060.9,1077.3L1060.2,1077.8L1063.2,1082.0ZM1059.1,1078.6L1055.9,1074.7L1055.1,1075.3L1058.5,1079.2ZM1055.9,1074.7L1052.7,1070.7L1051.8,1071.5L1055.1,1075.3ZM1063.6,1088.5L1059.8,1085.1L1059.3,1085.6L1063.2,1088.9ZM1059.4,1085.5L1055.5,1082.2L1054.9,1082.9L1058.9,1086.1ZM1044.6,1079.8L1040.3,1077.1L1039.6,1078.2L1044.0,1080.8ZM1066.1,1093.6L1061.7,1091.0L1061.4,1091.5L1065.9,1094.0ZM1056.2,1090.6L1051.6,1088.5L1051.2,1089.3L1055.9,1091.2ZM1064.6,1098.4L1059.5,1097.9L1059.4,1098.5L1064.5,1098.8ZM1059.4,1098.4L1054.3,1098.0L1054.3,1098.7L1059.4,1098.9ZM1049.2,1098.4L1044.1,1098.2L1044.1,1099.2L1049.2,1099.3ZM1054.3,1099.2L1049.2,1099.1L1049.2,1100.0L1054.3,1099.9ZM1049.2,1101.3L1044.1,1101.7L1044.2,1102.7L1049.3,1102.2ZM1033.9,1102.4L1028.9,1102.8L1029.0,1104.3L1034.1,1103.8ZM1064.6,1100.6L1059.5,1101.1L1059.5,1101.6L1064.6,1101.0ZM1044.7,1106.0L1039.7,1107.1L1040.0,1108.3L1045.0,1107.0ZM1041.9,1113.9L1037.1,1115.8L1037.7,1117.1L1042.3,1115.0ZM1026.6,1128.8L1022.2,1131.4L1023.2,1133.1L1027.5,1130.4ZM1027.4,1130.1L1023.1,1132.9L1024.2,1134.6L1028.4,1131.7ZM1041.0,1122.9L1036.7,1125.8L1037.6,1127.0L1041.8,1124.1ZM1035.0,1132.1L1031.0,1135.3L1032.2,1136.7L1036.1,1133.4ZM1031.0,1135.3L1027.0,1138.5L1028.3,1140.0L1032.2,1136.7ZM1030.4,1142.4L1026.7,1145.8L1028.2,1147.4L1031.8,1143.8ZM1031.6,1143.6L1028.0,1147.2L1029.5,1148.7L1033.0,1145.0ZM1040.9,1138.4L1037.5,1142.2L1038.9,1143.4L1042.2,1139.5ZM1038.7,1143.2L1035.4,1147.1L1036.9,1148.4L1040.1,1144.4ZM1036.4,1154.4L1033.4,1158.5L1035.4,1159.9L1038.2,1155.7ZM1055.2,1136.2L1052.7,1140.6L1054.1,1141.4L1056.4,1136.8ZM1052.7,1140.6L1050.2,1145.1L1051.7,1145.9L1054.1,1141.4ZM1060.5,1133.1L1058.3,1137.8L1059.6,1138.3L1061.6,1133.6ZM1069.4,1114.8L1067.4,1119.5L1068.1,1119.7L1070.0,1115.0ZM1061.4,1133.5L1059.4,1138.2L1060.6,1138.8L1062.5,1134.0ZM1059.2,1154.5L1057.8,1159.4L1059.7,1159.9L1061.1,1155.0ZM1064.7,1145.4L1063.5,1150.4L1065.2,1150.7L1066.2,1145.7ZM1071.2,1136.2L1070.5,1141.3L1071.8,1141.4L1072.4,1136.4ZM1069.0,1166.8L1068.5,1171.9L1070.8,1172.1L1071.2,1167.0ZM1073.7,1146.7L1073.4,1151.8L1075.1,1151.9L1075.2,1146.8ZM1085.7,1156.1L1086.6,1161.2L1088.6,1160.8L1087.6,1155.8ZM1087.3,1155.9L1088.3,1160.9L1090.3,1160.4L1089.1,1155.5ZM1089.8,1139.3L1091.5,1144.1L1093.0,1143.6L1091.1,1138.8ZM1106.8,1159.8L1109.1,1164.3L1111.2,1163.2L1108.7,1158.8ZM1096.2,1136.5L1098.6,1141.0L1100.0,1140.2L1097.4,1135.8ZM1100.9,1139.7L1103.6,1144.0L1105.0,1143.1L1102.2,1138.9ZM1108.1,1134.2L1111.5,1138.0L1112.8,1136.8L1109.2,1133.1ZM1111.5,1138.0L1115.0,1141.7L1116.4,1140.4L1112.8,1136.8ZM1106.3,1128.8L1109.9,1132.4L1111.0,1131.3L1107.2,1127.8ZM1109.9,1132.4L1113.6,1136.0L1114.8,1134.7L1111.0,1131.3ZM1109.3,1125.4L1113.3,1128.5L1114.2,1127.3L1110.1,1124.3ZM1126.5,1136.5L1130.6,1139.5L1131.9,1137.7L1127.6,1134.9ZM1115.6,1125.3L1119.9,1128.1L1120.8,1126.7L1116.4,1124.0ZM1119.9,1128.1L1124.1,1130.9L1125.1,1129.3L1120.8,1126.7ZM1116.2,1112.1L1121.1,1113.6L1121.5,1112.2L1116.6,1110.8ZM1121.5,1112.4L1126.4,1113.8L1126.8,1112.2L1121.9,1110.9ZM1092.5,1101.4L1097.6,1101.9L1097.6,1101.2L1092.6,1100.8ZM1138.5,1103.1L1143.6,1103.4L1143.7,1101.2L1138.6,1101.0ZM1123.2,1098.3L1128.4,1098.2L1128.3,1096.5L1123.2,1096.8ZM1128.4,1098.2L1133.5,1098.1L1133.4,1096.2L1128.3,1096.5ZM1118.0,1096.1L1123.1,1095.7L1123.0,1094.2L1117.9,1094.8Z" fill="#bac6d2"/>
<path d="M1054.2,1063.4L1051.6,1059.0L1050.3,1059.9L1053.0,1064.1ZM1051.2,1072.0L1047.7,1068.2L1046.7,1069.2L1050.3,1072.8ZM1042.4,1146.1L1039.4,1150.3L1041.1,1151.4L1043.9,1147.2ZM1063.5,1150.4L1062.3,1155.3L1064.1,1155.7L1065.2,1150.7ZM1085.6,1166.5L1086.4,1171.6L1088.7,1171.2L1087.8,1166.2ZM1108.3,1140.8L1111.4,1144.8L1112.9,1143.6L1109.6,1139.7ZM1119.1,1129.3L1123.3,1132.2L1124.3,1130.7L1120.0,1127.9ZM1134.0,1123.1L1138.7,1125.0L1139.5,1122.9L1134.7,1121.2ZM1131.3,1115.2L1136.2,1116.6L1136.7,1114.6L1131.8,1113.4ZM1127.9,1092.5L1133.0,1091.8L1132.7,1089.9L1127.6,1090.8Z" fill="#8aa2c6"/>
<path d="M1051.6,1059.0L1048.9,1054.7L1047.5,1055.6L1050.3,1059.9ZM1052.7,1070.7L1049.5,1066.7L1048.4,1067.6L1051.8,1071.5ZM1044.3,1064.4L1040.9,1060.7L1039.6,1061.8L1043.2,1065.5ZM1030.6,1049.3L1027.2,1045.5L1025.4,1047.1L1029.0,1050.8ZM1067.6,1091.6L1063.9,1088.1L1063.5,1088.5L1067.4,1091.9ZM1034.1,1060.2L1030.4,1056.7L1029.0,1058.2L1032.8,1061.6ZM1027.0,1060.6L1023.0,1057.4L1021.6,1059.1L1025.8,1062.2ZM1053.7,1084.6L1049.4,1081.8L1048.9,1082.6L1053.2,1085.3ZM1036.0,1074.3L1031.7,1071.6L1030.8,1073.1L1035.2,1075.7ZM1034.1,1077.7L1029.5,1075.3L1028.8,1076.9L1033.4,1079.1ZM1061.1,1092.2L1056.5,1090.0L1056.2,1090.7L1060.8,1092.7ZM1051.6,1088.5L1046.9,1086.3L1046.5,1087.3L1051.2,1089.3ZM1060.5,1093.5L1055.8,1091.7L1055.5,1092.3L1060.3,1094.0ZM1045.6,1089.6L1040.8,1088.0L1040.4,1089.2L1045.3,1090.6ZM1064.8,1096.8L1059.8,1095.7L1059.7,1096.2L1064.7,1097.2ZM1040.0,1091.0L1035.0,1089.8L1034.7,1091.1L1039.7,1092.1ZM1049.6,1094.8L1044.6,1093.9L1044.4,1094.9L1049.5,1095.6ZM1049.2,1099.9L1044.1,1099.9L1044.1,1101.0L1049.2,1100.8ZM1049.2,1100.6L1044.1,1100.8L1044.2,1101.9L1049.2,1101.5ZM1044.2,1102.6L1039.1,1103.1L1039.3,1104.3L1044.3,1103.6ZM1060.1,1104.2L1055.2,1105.7L1055.4,1106.3L1060.2,1104.7ZM1040.5,1110.0L1035.6,1111.5L1036.0,1112.8L1040.8,1111.2ZM1055.4,1106.2L1050.5,1107.8L1050.8,1108.7L1055.6,1106.9ZM1055.5,1106.8L1050.7,1108.5L1051.0,1109.3L1055.8,1107.5ZM1032.4,1117.8L1027.7,1119.8L1028.4,1121.4L1033.1,1119.2ZM1037.6,1116.9L1033.0,1119.0L1033.6,1120.4L1038.2,1118.1ZM1061.7,1108.0L1057.3,1110.6L1057.7,1111.2L1062.0,1108.4ZM1030.9,1126.2L1026.6,1128.8L1027.5,1130.4L1031.8,1127.6ZM1017.8,1134.0L1013.4,1136.6L1014.6,1138.6L1018.9,1135.9ZM1044.7,1119.2L1040.3,1122.0L1041.1,1123.1L1045.3,1120.3ZM1044.3,1134.6L1040.9,1138.4L1042.2,1139.5L1045.5,1135.6ZM1051.9,1127.7L1048.6,1131.5L1049.7,1132.4L1052.9,1128.4ZM1052.3,1134.4L1049.4,1138.6L1050.7,1139.4L1053.4,1135.1ZM1057.8,1131.7L1055.2,1136.2L1056.4,1136.8L1058.8,1132.3ZM1062.6,1128.5L1060.5,1133.1L1061.6,1133.6L1063.6,1128.9ZM1071.8,1126.0L1071.0,1131.0L1072.0,1131.2L1072.6,1126.1ZM1069.3,1141.1L1068.5,1146.2L1070.1,1146.4L1070.7,1141.3ZM1071.1,1146.5L1070.6,1151.6L1072.3,1151.7L1072.6,1146.6ZM1074.4,1131.4L1074.2,1136.5L1075.4,1136.5L1075.5,1131.4ZM1074.8,1157.0L1074.6,1162.1L1076.7,1162.1L1076.6,1157.0ZM1077.4,1141.6L1077.6,1146.7L1079.1,1146.7L1078.8,1141.6ZM1080.3,1136.3L1080.9,1141.4L1082.2,1141.2L1081.5,1136.1ZM1079.8,1126.1L1080.5,1131.1L1081.6,1130.9L1080.7,1125.9ZM1086.5,1145.6L1087.7,1150.5L1089.3,1150.1L1088.0,1145.2ZM1079.8,1110.4L1081.5,1115.2L1082.0,1115.0L1080.1,1110.2ZM1080.7,1110.0L1082.7,1114.7L1083.2,1114.5L1081.0,1109.9ZM1097.2,1135.9L1099.8,1140.4L1101.1,1139.6L1098.4,1135.2ZM1103.0,1138.3L1105.9,1142.5L1107.3,1141.5L1104.3,1137.4ZM1103.7,1131.2L1107.1,1135.1L1108.3,1134.0L1104.8,1130.3ZM1115.0,1141.7L1118.5,1145.5L1119.9,1144.1L1116.4,1140.4ZM1098.9,1121.7L1102.6,1125.3L1103.4,1124.4L1099.6,1121.0ZM1111.7,1130.5L1115.5,1133.8L1116.6,1132.5L1112.7,1129.3ZM1093.2,1112.8L1097.2,1116.0L1097.7,1115.3L1093.6,1112.3ZM1111.3,1122.5L1115.6,1125.3L1116.4,1124.0L1112.0,1121.4ZM1094.8,1110.4L1099.2,1112.9L1099.7,1112.1L1095.2,1109.7ZM1112.5,1120.6L1116.9,1123.1L1117.7,1121.8L1113.2,1119.4ZM1086.4,1104.4L1091.0,1106.6L1091.2,1106.1L1086.6,1104.1ZM1118.7,1119.7L1123.4,1121.9L1124.1,1120.3L1119.4,1118.3ZM1123.4,1121.9L1128.0,1124.0L1128.7,1122.3L1124.1,1120.3ZM1124.5,1119.2L1129.2,1121.2L1129.9,1119.4L1125.1,1117.6ZM1130.3,1118.2L1135.2,1119.9L1135.8,1117.9L1130.9,1116.4ZM1118.1,1100.8L1123.2,1100.9L1123.3,1099.4L1118.1,1099.4ZM1107.9,1099.6L1113.0,1099.6L1113.0,1098.4L1107.9,1098.5Z" fill="#eadeba"/>
<path d="M1046.3,1050.3L1043.7,1045.9L1041.9,1047.0L1044.7,1051.3ZM1049.4,1060.4L1046.5,1056.2L1045.1,1057.2L1048.1,1061.3ZM1039.8,1061.6L1036.3,1057.9L1035.0,1059.3L1038.6,1062.8ZM1035.0,1066.9L1031.0,1063.8L1029.9,1065.2L1034.0,1068.3ZM1024.9,1063.3L1020.8,1060.4L1019.5,1062.2L1023.8,1065.0ZM1031.7,1071.6L1027.4,1068.9L1026.4,1070.5L1030.8,1073.1ZM1020.9,1083.2L1016.0,1081.8L1015.4,1083.7L1020.4,1085.0ZM1010.6,1082.1L1005.6,1080.8L1005.1,1083.1L1010.1,1084.2ZM1024.7,1088.8L1019.7,1087.8L1019.4,1089.6L1024.4,1090.5ZM1009.4,1087.5L1004.3,1086.6L1004.0,1089.0L1009.0,1089.7ZM1029.3,1092.4L1024.2,1091.7L1024.0,1093.3L1029.1,1093.9ZM1019.2,1090.9L1014.1,1090.1L1013.9,1092.1L1018.9,1092.7ZM1013.4,1098.7L1008.3,1098.6L1008.3,1100.8L1013.4,1100.7ZM1018.7,1103.5L1013.6,1103.8L1013.7,1105.8L1018.8,1105.3ZM1008.6,1106.0L1003.5,1106.5L1003.8,1108.9L1008.9,1108.2ZM1029.3,1106.6L1024.2,1107.4L1024.5,1109.1L1029.5,1108.1ZM1029.5,1107.9L1024.5,1108.8L1024.8,1110.5L1029.8,1109.4ZM1019.4,1109.7L1014.4,1110.6L1014.8,1112.6L1019.8,1111.5ZM1014.4,1110.6L1009.4,1111.5L1009.8,1113.7L1014.8,1112.6ZM1025.4,1113.0L1020.5,1114.3L1021.0,1116.1L1025.9,1114.6ZM1011.1,1118.7L1006.2,1120.2L1006.9,1122.5L1011.8,1120.8ZM1016.5,1118.9L1011.7,1120.5L1012.4,1122.6L1017.2,1120.9ZM1031.9,1116.6L1027.2,1118.5L1027.8,1120.0L1032.5,1118.0ZM1012.9,1124.0L1008.1,1125.9L1009.0,1128.1L1013.7,1126.1ZM1023.0,1121.8L1018.3,1123.7L1019.1,1125.6L1023.8,1123.5ZM1018.3,1123.7L1013.6,1125.7L1014.5,1127.7L1019.1,1125.6ZM1066.3,1105.6L1061.9,1108.4L1062.2,1108.8L1066.5,1105.9ZM1062.2,1108.7L1058.0,1111.6L1058.4,1112.2L1062.5,1109.2ZM1058.0,1111.6L1053.7,1114.4L1054.2,1115.1L1058.4,1112.2ZM1054.1,1115.0L1050.0,1118.0L1050.6,1118.8L1054.6,1115.7ZM1067.0,1106.7L1063.0,1109.8L1063.3,1110.3L1067.2,1106.9ZM1063.9,1110.9L1060.2,1114.4L1060.7,1114.9L1064.3,1111.3ZM1049.7,1125.6L1046.1,1129.2L1047.1,1130.2L1050.6,1126.4ZM1068.3,1108.0L1064.9,1111.8L1065.3,1112.2L1068.6,1108.3ZM1061.4,1115.6L1058.0,1119.4L1058.7,1120.0L1062.0,1116.1ZM1062.8,1116.8L1059.7,1120.8L1060.4,1121.3L1063.4,1117.2ZM1060.3,1121.3L1057.3,1125.4L1058.2,1126.0L1061.0,1121.8ZM1067.0,1113.5L1064.3,1117.8L1064.9,1118.2L1067.5,1113.8ZM1058.6,1132.2L1056.2,1136.7L1057.5,1137.4L1059.7,1132.8ZM1064.7,1123.9L1062.6,1128.5L1063.6,1128.9L1065.5,1124.2ZM1072.1,1110.3L1070.3,1115.1L1070.8,1115.3L1072.4,1110.4ZM1073.0,1110.6L1071.6,1115.5L1072.1,1115.6L1073.3,1110.7ZM1072.0,1115.6L1070.8,1120.6L1071.5,1120.7L1072.6,1115.7ZM1070.8,1120.6L1069.6,1125.6L1070.5,1125.7L1071.5,1120.7ZM1068.4,1130.5L1067.2,1135.5L1068.3,1135.7L1069.4,1130.7ZM1072.9,1115.8L1072.0,1120.8L1072.7,1121.0L1073.5,1115.9ZM1070.1,1130.9L1069.1,1135.9L1070.3,1136.1L1071.1,1131.1ZM1074.3,1121.2L1074.0,1126.2L1074.8,1126.3L1075.0,1121.2ZM1074.0,1126.2L1073.6,1131.3L1074.6,1131.4L1074.8,1126.3ZM1076.1,1111.0L1076.1,1116.1L1076.6,1116.1L1076.4,1111.0ZM1076.2,1126.3L1076.2,1131.4L1077.2,1131.4L1077.0,1126.3ZM1077.3,1121.2L1077.6,1126.3L1078.5,1126.2L1078.0,1121.1ZM1078.4,1126.2L1078.8,1131.3L1079.8,1131.2L1079.2,1126.1ZM1078.8,1131.3L1079.3,1136.4L1080.5,1136.3L1079.8,1131.2ZM1077.3,1110.9L1077.9,1116.0L1078.5,1115.9L1077.7,1110.9ZM1078.4,1115.9L1079.1,1121.0L1079.8,1120.9L1078.9,1115.9ZM1081.3,1136.2L1082.0,1141.2L1083.4,1141.0L1082.5,1136.0ZM1079.7,1115.7L1080.8,1120.7L1081.5,1120.5L1080.2,1115.6ZM1082.0,1125.6L1083.1,1130.6L1084.1,1130.4L1082.8,1125.4ZM1080.1,1115.6L1081.4,1120.5L1082.1,1120.3L1080.7,1115.4ZM1084.1,1125.1L1085.7,1129.9L1086.6,1129.6L1084.9,1124.8ZM1090.3,1144.5L1091.8,1149.4L1093.5,1148.9L1091.8,1144.1ZM1080.1,1110.3L1081.9,1115.0L1082.4,1114.8L1080.4,1110.1ZM1086.9,1124.0L1088.9,1128.7L1089.9,1128.3L1087.7,1123.7ZM1086.4,1118.6L1088.8,1123.1L1089.6,1122.6L1087.0,1118.2ZM1088.8,1123.1L1091.3,1127.5L1092.2,1127.0L1089.6,1122.6ZM1093.7,1132.0L1096.2,1136.5L1097.4,1135.8L1094.8,1131.4ZM1090.1,1122.3L1092.8,1126.7L1093.7,1126.1L1090.8,1121.8ZM1082.3,1109.1L1085.1,1113.4L1085.6,1113.1L1082.6,1108.9ZM1089.8,1116.2L1093.1,1120.2L1093.8,1119.6L1090.4,1115.8ZM1086.9,1112.0L1090.3,1115.8L1090.8,1115.4L1087.3,1111.6ZM1083.8,1107.9L1087.3,1111.7L1087.7,1111.3L1084.1,1107.7ZM1101.1,1126.7L1104.6,1130.5L1105.6,1129.5L1102.0,1125.9ZM1091.2,1115.0L1094.7,1118.7L1095.4,1118.1L1091.7,1114.5ZM1099.5,1121.1L1103.3,1124.5L1104.1,1123.6L1100.2,1120.3ZM1103.3,1124.5L1107.1,1128.0L1108.0,1127.0L1104.1,1123.6ZM1096.7,1116.5L1100.7,1119.8L1101.3,1119.0L1097.3,1115.8ZM1100.7,1119.8L1104.6,1123.0L1105.4,1122.1L1101.3,1119.0ZM1093.9,1111.9L1098.1,1114.8L1098.5,1114.0L1094.2,1111.3ZM1098.1,1114.8L1102.3,1117.7L1102.8,1116.8L1098.5,1114.0ZM1099.2,1112.9L1103.7,1115.5L1104.2,1114.5L1099.7,1112.1ZM1090.6,1107.4L1095.1,1109.8L1095.4,1109.2L1090.9,1106.9ZM1090.8,1107.0L1095.4,1109.3L1095.7,1108.7L1091.1,1106.5ZM1100.3,1111.0L1104.9,1113.1L1105.3,1112.2L1100.6,1110.2ZM1100.8,1109.6L1105.6,1111.5L1106.0,1110.6L1101.2,1108.8ZM1105.6,1111.5L1110.3,1113.5L1110.7,1112.3L1106.0,1110.6ZM1087.0,1102.9L1091.8,1104.5L1092.0,1104.0L1087.1,1102.6ZM1092.0,1104.0L1096.9,1105.4L1097.1,1104.7L1092.1,1103.5ZM1106.9,1107.4L1111.9,1108.6L1112.2,1107.5L1107.2,1106.4ZM1092.3,1102.7L1097.3,1103.7L1097.4,1103.0L1092.4,1102.2ZM1087.5,1100.2L1092.6,1100.5L1092.6,1099.9L1087.5,1099.8ZM1107.9,1101.3L1113.0,1101.6L1113.0,1100.4L1107.9,1100.3ZM1092.6,1100.0L1097.7,1100.1L1097.7,1099.4L1092.6,1099.5ZM1102.8,1100.3L1107.9,1100.5L1107.9,1099.4L1102.8,1099.4ZM1107.9,1100.5L1113.0,1100.6L1113.0,1099.4L1107.9,1099.4ZM1092.6,1099.5L1097.7,1099.6L1097.7,1098.8L1092.6,1099.0ZM1097.4,1096.0L1102.5,1095.2L1102.3,1094.3L1097.3,1095.3Z" fill="#eaba8a"/>
<path d="M1041.0,1041.6L1038.4,1037.2L1036.4,1038.4L1039.1,1042.7ZM1041.1,1053.8L1038.0,1049.8L1036.4,1051.1L1039.6,1055.0ZM1036.3,1057.9L1032.8,1054.2L1031.3,1055.7L1035.0,1059.3ZM1055.5,1082.2L1051.5,1079.0L1050.9,1079.8L1054.9,1082.9ZM1054.1,1084.0L1049.9,1081.0L1049.4,1081.9L1053.6,1084.7ZM1030.7,1086.1L1025.8,1084.7L1025.3,1086.3L1030.3,1087.6ZM1011.1,1080.3L1006.2,1078.9L1005.6,1081.1L1010.5,1082.4ZM1039.4,1093.9L1034.3,1093.2L1034.1,1094.5L1039.2,1095.1ZM1018.5,1098.7L1013.4,1098.7L1013.4,1100.7L1018.5,1100.6ZM1044.3,1103.4L1039.2,1104.1L1039.4,1105.3L1044.5,1104.5ZM1045.6,1109.4L1040.8,1111.0L1041.2,1112.1L1046.0,1110.4ZM1056.5,1109.0L1051.9,1111.2L1052.3,1112.0L1056.8,1109.6ZM1044.1,1118.4L1039.7,1121.0L1040.5,1122.2L1044.8,1119.4ZM1049.0,1116.5L1044.7,1119.2L1045.3,1120.3L1049.6,1117.4ZM1045.2,1120.1L1041.0,1122.9L1041.8,1124.1L1045.9,1121.1ZM1067.2,1106.9L1063.3,1110.2L1063.6,1110.6L1067.4,1107.2ZM1047.7,1123.3L1043.7,1126.6L1044.6,1127.7L1048.4,1124.3ZM1049.0,1124.9L1045.3,1128.4L1046.2,1129.3L1049.8,1125.7ZM1055.3,1123.8L1051.9,1127.7L1052.9,1128.4L1056.1,1124.4ZM1048.6,1131.5L1045.3,1135.4L1046.5,1136.4L1049.7,1132.4ZM1065.3,1118.4L1062.8,1122.8L1063.6,1123.3L1065.9,1118.7ZM1056.2,1136.7L1053.9,1141.2L1055.2,1141.9L1057.5,1137.4ZM1051.5,1145.8L1049.1,1150.3L1050.7,1151.1L1053.0,1146.5ZM1055.0,1141.8L1052.7,1146.4L1054.3,1147.2L1056.4,1142.5ZM1058.6,1143.4L1056.7,1148.2L1058.3,1148.8L1060.0,1144.0ZM1061.5,1139.1L1059.8,1143.9L1061.2,1144.4L1062.8,1139.5ZM1067.5,1130.3L1066.2,1135.2L1067.3,1135.5L1068.5,1130.6ZM1072.8,1141.5L1072.4,1146.6L1073.9,1146.7L1074.2,1141.6ZM1080.2,1146.6L1080.6,1151.7L1082.3,1151.5L1081.7,1146.4ZM1088.1,1129.0L1090.1,1133.8L1091.2,1133.3L1089.1,1128.6ZM1091.9,1132.9L1094.1,1137.6L1095.4,1136.9L1093.0,1132.4ZM1091.3,1127.5L1093.7,1132.0L1094.8,1131.4L1092.2,1127.0ZM1082.1,1109.3L1084.7,1113.6L1085.2,1113.3L1082.4,1109.1ZM1098.0,1129.3L1101.0,1133.4L1102.1,1132.6L1099.0,1128.6ZM1083.3,1108.4L1086.6,1112.3L1087.0,1111.9L1083.6,1108.1ZM1087.9,1111.1L1091.6,1114.6L1092.1,1114.1L1088.3,1110.7ZM1107.8,1127.1L1111.7,1130.5L1112.7,1129.3L1108.7,1126.1ZM1089.9,1108.6L1094.2,1111.4L1094.6,1110.8L1090.2,1108.1ZM1115.9,1113.2L1120.7,1114.9L1121.2,1113.4L1116.3,1111.9ZM1111.9,1108.6L1116.8,1109.9L1117.2,1108.6L1112.2,1107.5ZM1087.2,1102.0L1092.2,1103.2L1092.3,1102.6L1087.3,1101.7ZM1117.6,1106.5L1122.6,1107.4L1122.8,1105.8L1117.8,1105.1Z" fill="#eaeaba"/>
<path d="M1069.8,1089.8L1067.0,1085.5L1066.6,1085.8L1069.5,1090.0ZM1053.2,1064.0L1050.5,1059.7L1049.2,1060.6L1052.1,1064.8ZM1060.9,1077.3L1058.0,1073.1L1057.2,1073.7L1060.2,1077.8ZM1066.3,1086.0L1063.3,1081.9L1062.7,1082.3L1065.8,1086.4ZM1050.4,1066.0L1047.3,1062.0L1046.1,1062.9L1049.3,1066.9ZM1038.6,1055.8L1035.3,1051.9L1033.8,1053.3L1037.2,1057.1ZM1042.4,1066.2L1038.8,1062.6L1037.6,1063.9L1041.4,1067.3ZM1052.7,1077.7L1049.0,1074.2L1048.2,1075.1L1052.0,1078.4ZM1023.0,1057.4L1019.0,1054.2L1017.5,1056.1L1021.6,1059.1ZM1058.6,1086.5L1054.5,1083.4L1054.0,1084.1L1058.2,1087.0ZM1042.3,1074.2L1038.2,1071.1L1037.3,1072.4L1041.5,1075.3ZM1049.9,1081.0L1045.8,1078.1L1045.1,1079.1L1049.4,1081.9ZM1057.9,1087.4L1053.7,1084.6L1053.2,1085.3L1057.6,1088.0ZM1057.6,1087.9L1053.3,1085.2L1052.8,1086.0L1057.3,1088.5ZM1040.3,1077.1L1036.0,1074.3L1035.2,1075.7L1039.6,1078.2ZM1065.9,1093.9L1061.5,1091.4L1061.2,1091.9L1065.8,1094.2ZM1056.0,1091.1L1051.3,1089.1L1050.9,1089.9L1055.7,1091.8ZM1051.3,1089.1L1046.6,1087.1L1046.2,1088.1L1050.9,1089.9ZM1046.6,1087.1L1041.8,1085.2L1041.4,1086.3L1046.2,1088.1ZM1023.0,1077.3L1018.3,1075.3L1017.5,1077.2L1022.3,1079.0ZM1021.9,1080.2L1017.0,1078.5L1016.4,1080.4L1021.3,1082.0ZM1044.6,1093.9L1039.5,1092.9L1039.3,1094.1L1044.4,1094.9ZM1018.8,1094.0L1013.7,1093.5L1013.5,1095.6L1018.6,1095.9ZM1049.2,1097.7L1044.1,1097.3L1044.1,1098.4L1049.2,1098.5ZM1044.1,1098.2L1039.0,1098.0L1039.0,1099.2L1044.1,1099.2ZM1059.4,1099.3L1054.3,1099.2L1054.3,1099.9L1059.4,1099.8ZM1064.5,1100.0L1059.4,1100.2L1059.4,1100.7L1064.5,1100.4ZM1054.3,1100.4L1049.2,1100.6L1049.2,1101.5L1054.3,1101.1ZM1044.1,1100.8L1039.0,1101.0L1039.1,1102.2L1044.2,1101.9ZM1064.5,1100.3L1059.4,1100.6L1059.5,1101.2L1064.6,1100.7ZM1039.1,1103.1L1034.0,1103.6L1034.2,1104.9L1039.3,1104.3ZM1064.6,1100.9L1059.5,1101.5L1059.6,1102.1L1064.6,1101.3ZM1050.3,1107.1L1045.4,1108.6L1045.7,1109.6L1050.5,1108.0ZM1021.4,1117.3L1016.5,1118.9L1017.2,1120.9L1022.0,1119.1ZM1042.7,1115.7L1038.1,1117.9L1038.7,1119.2L1043.2,1116.8ZM1036.7,1125.8L1032.5,1128.6L1033.5,1130.0L1037.6,1127.0ZM1047.0,1122.6L1043.0,1125.7L1043.9,1126.8L1047.8,1123.5ZM1052.1,1120.7L1048.3,1124.1L1049.1,1125.0L1052.8,1121.5ZM1044.5,1127.5L1040.7,1130.9L1041.7,1132.0L1045.4,1128.5ZM1064.2,1111.2L1060.6,1114.8L1061.1,1115.3L1064.6,1111.6ZM1050.4,1126.3L1046.9,1130.0L1047.9,1130.9L1051.3,1127.1ZM1050.4,1133.0L1047.3,1137.1L1048.6,1138.0L1051.5,1133.8ZM1055.2,1130.1L1052.3,1134.4L1053.4,1135.1L1056.2,1130.8ZM1064.8,1118.1L1062.2,1122.5L1062.9,1122.9L1065.4,1118.5ZM1056.9,1131.2L1054.2,1135.6L1055.4,1136.3L1057.9,1131.8ZM1059.4,1138.2L1057.4,1142.9L1058.8,1143.5L1060.6,1138.8ZM1065.9,1140.4L1064.7,1145.4L1066.2,1145.7L1067.3,1140.7ZM1068.2,1140.9L1067.3,1145.9L1068.8,1146.2L1069.6,1141.2ZM1071.0,1131.0L1070.1,1136.1L1071.3,1136.2L1072.0,1131.2ZM1070.1,1136.1L1069.3,1141.1L1070.7,1141.3L1071.3,1136.2ZM1075.4,1111.0L1075.2,1116.1L1075.7,1116.1L1075.8,1111.0ZM1074.5,1167.2L1074.4,1172.3L1076.8,1172.3L1076.7,1167.2ZM1076.2,1141.6L1076.3,1146.8L1077.8,1146.7L1077.6,1141.6ZM1078.2,1136.5L1078.6,1141.6L1079.9,1141.5L1079.4,1136.4ZM1078.9,1146.7L1079.2,1151.8L1080.9,1151.6L1080.4,1146.6ZM1077.6,1110.9L1078.4,1115.9L1078.9,1115.9L1078.0,1110.8ZM1078.8,1115.9L1079.7,1120.9L1080.4,1120.8L1079.3,1115.8ZM1078.9,1110.6L1080.1,1115.6L1080.7,1115.4L1079.2,1110.5ZM1089.1,1150.2L1090.4,1155.2L1092.2,1154.7L1090.7,1149.8ZM1088.7,1139.7L1090.3,1144.5L1091.8,1144.1L1090.1,1139.2ZM1099.8,1157.4L1101.7,1162.1L1103.7,1161.2L1101.6,1156.6ZM1094.1,1137.6L1096.3,1142.2L1097.7,1141.5L1095.4,1136.9ZM1098.5,1146.8L1100.7,1151.4L1102.4,1150.6L1100.0,1146.0ZM1107.5,1153.6L1110.0,1158.0L1111.9,1156.9L1109.2,1152.5ZM1103.6,1144.0L1106.2,1148.4L1107.8,1147.4L1105.0,1143.1ZM1099.1,1134.7L1102.0,1139.0L1103.2,1138.1L1100.3,1133.9ZM1108.9,1146.6L1111.8,1150.8L1113.4,1149.6L1110.4,1145.5ZM1111.8,1150.8L1114.7,1155.0L1116.5,1153.7L1113.4,1149.6ZM1104.6,1130.5L1108.1,1134.2L1109.2,1133.1L1105.6,1129.5ZM1084.3,1107.5L1087.9,1111.1L1088.3,1110.7L1084.5,1107.2ZM1108.6,1126.3L1112.5,1129.5L1113.5,1128.3L1109.4,1125.2ZM1113.3,1128.5L1117.4,1131.6L1118.4,1130.3L1114.2,1127.3ZM1117.4,1131.6L1121.4,1134.8L1122.5,1133.3L1118.4,1130.3ZM1114.1,1127.5L1118.2,1130.5L1119.2,1129.1L1115.0,1126.2ZM1110.7,1123.5L1114.9,1126.4L1115.7,1125.1L1111.4,1122.4ZM1122.1,1124.4L1126.6,1126.9L1127.4,1125.2L1122.8,1122.9ZM1131.0,1129.3L1135.5,1131.7L1136.6,1129.8L1132.0,1127.5ZM1115.0,1115.4L1119.8,1117.3L1120.3,1115.9L1115.5,1114.1ZM1120.7,1114.9L1125.5,1116.5L1126.0,1114.9L1121.2,1113.4ZM1097.3,1103.7L1102.3,1104.7L1102.5,1103.8L1097.4,1103.0ZM1113.0,1101.6L1118.1,1101.9L1118.1,1100.5L1113.0,1100.4ZM1113.0,1099.6L1118.1,1099.6L1118.1,1098.2L1113.0,1098.4ZM1113.0,1097.6L1118.1,1097.3L1118.0,1095.9L1112.9,1096.4Z" fill="#d2d2c6"/>
<path d="M1067.0,1085.5L1064.3,1081.2L1063.7,1081.6L1066.6,1085.8ZM1052.3,1064.7L1049.4,1060.4L1048.1,1061.3L1051.1,1065.5ZM1062.3,1082.6L1059.1,1078.6L1058.5,1079.2L1061.8,1083.1ZM1055.2,1075.2L1051.9,1071.4L1051.0,1072.2L1054.5,1075.9ZM1027.9,1051.8L1024.3,1048.3L1022.6,1050.0L1026.4,1053.4ZM1045.3,1070.7L1041.5,1067.2L1040.5,1068.3L1044.3,1071.7ZM1052.1,1078.3L1048.3,1074.9L1047.5,1075.8L1051.4,1079.1ZM1059.0,1086.0L1055.0,1082.8L1054.5,1083.5L1058.6,1086.6ZM1055.0,1082.8L1051.0,1079.6L1050.4,1080.5L1054.5,1083.5ZM1043.0,1073.3L1039.0,1070.1L1038.1,1071.3L1042.2,1074.4ZM1066.6,1092.9L1062.4,1089.9L1062.1,1090.3L1066.4,1093.2ZM1045.8,1078.1L1041.6,1075.1L1040.8,1076.3L1045.1,1079.1ZM1057.0,1089.0L1052.5,1086.5L1052.1,1087.3L1056.7,1089.6ZM1048.1,1084.0L1043.6,1081.5L1043.0,1082.6L1047.6,1084.9ZM1065.8,1094.2L1061.3,1091.8L1061.0,1092.3L1065.6,1094.5ZM1042.2,1084.2L1037.6,1082.1L1037.0,1083.4L1041.8,1085.4ZM1060.4,1093.9L1055.5,1092.2L1055.3,1092.9L1060.2,1094.4ZM1050.7,1090.5L1045.9,1088.8L1045.6,1089.8L1050.5,1091.3ZM1045.9,1088.8L1041.1,1087.1L1040.7,1088.2L1045.6,1089.8ZM1060.2,1094.4L1055.4,1092.8L1055.1,1093.5L1060.0,1094.9ZM1050.1,1092.6L1045.1,1091.3L1044.9,1092.3L1049.9,1093.5ZM1064.6,1097.8L1059.6,1097.0L1059.5,1097.5L1064.6,1098.1ZM1008.8,1091.2L1003.8,1090.6L1003.5,1092.9L1008.6,1093.4ZM1049.2,1099.1L1044.1,1099.1L1044.1,1100.1L1049.2,1100.0ZM1039.0,1099.0L1033.9,1098.9L1033.9,1100.3L1039.0,1100.2ZM1059.6,1102.0L1054.5,1102.8L1054.6,1103.5L1059.7,1102.5ZM1049.5,1103.5L1044.4,1104.3L1044.6,1105.3L1049.6,1104.4ZM1049.6,1104.3L1044.6,1105.2L1044.8,1106.2L1049.8,1105.1ZM1039.5,1106.1L1034.5,1107.0L1034.8,1108.3L1039.8,1107.3ZM1044.9,1106.9L1040.0,1108.1L1040.3,1109.2L1045.2,1107.9ZM1060.5,1105.5L1055.8,1107.4L1056.0,1108.0L1060.7,1106.0ZM1046.2,1111.1L1041.5,1112.9L1041.9,1114.0L1046.6,1112.0ZM1065.4,1104.0L1060.7,1105.9L1060.9,1106.4L1065.5,1104.3ZM1034.7,1122.5L1030.2,1124.9L1031.1,1126.4L1035.5,1123.8ZM1025.0,1135.7L1020.8,1138.7L1022.1,1140.5L1026.2,1137.4ZM1038.2,1127.9L1034.1,1131.0L1035.2,1132.3L1039.2,1129.1ZM1030.1,1134.0L1026.0,1137.1L1027.2,1138.7L1031.2,1135.5ZM1040.7,1130.9L1036.9,1134.3L1038.0,1135.6L1041.7,1132.0ZM1026.7,1145.8L1022.9,1149.3L1024.6,1151.1L1028.2,1147.4ZM1042.5,1132.8L1038.8,1136.4L1040.1,1137.6L1043.6,1133.9ZM1032.8,1144.8L1029.3,1148.5L1030.9,1150.0L1034.3,1146.2ZM1029.3,1148.5L1025.8,1152.2L1027.5,1153.8L1030.9,1150.0ZM1039.9,1144.2L1036.7,1148.2L1038.3,1149.4L1041.4,1145.4ZM1034.9,1153.3L1031.8,1157.4L1033.7,1158.8L1036.7,1154.6ZM1058.0,1125.9L1055.2,1130.1L1056.2,1130.8L1058.9,1126.5ZM1056.0,1130.7L1053.3,1135.0L1054.4,1135.7L1057.0,1131.3ZM1050.5,1139.3L1047.7,1143.6L1049.2,1144.5L1051.8,1140.1ZM1051.6,1140.0L1049.0,1144.3L1050.4,1145.2L1052.9,1140.7ZM1052.7,1146.4L1050.5,1151.0L1052.2,1151.8L1054.3,1147.2ZM1058.3,1137.8L1056.2,1142.4L1057.6,1143.0L1059.6,1138.3ZM1051.3,1157.0L1049.3,1161.7L1051.3,1162.5L1053.2,1157.8ZM1061.0,1144.3L1059.4,1149.2L1061.0,1149.7L1062.5,1144.8ZM1057.7,1154.0L1056.1,1158.8L1058.1,1159.5L1059.5,1154.6ZM1060.7,1149.6L1059.2,1154.5L1061.1,1155.0L1062.4,1150.1ZM1062.1,1150.0L1060.8,1154.9L1062.6,1155.4L1063.8,1150.4ZM1058.1,1164.8L1056.7,1169.7L1059.0,1170.3L1060.2,1165.3ZM1066.1,1161.3L1065.3,1166.3L1067.5,1166.7L1068.1,1161.6ZM1070.0,1156.7L1069.5,1161.7L1071.5,1161.9L1071.9,1156.8ZM1073.4,1151.8L1073.2,1156.9L1075.1,1157.0L1075.1,1151.9ZM1076.4,1167.2L1076.4,1172.3L1078.8,1172.2L1078.6,1167.1ZM1079.2,1151.8L1079.5,1156.9L1081.4,1156.7L1080.9,1151.6ZM1082.7,1146.3L1083.5,1151.3L1085.1,1151.1L1084.2,1146.0ZM1084.2,1156.4L1084.9,1161.4L1086.9,1161.1L1086.0,1156.1ZM1087.5,1166.2L1088.3,1171.2L1090.7,1170.8L1089.6,1165.8ZM1085.3,1145.8L1086.3,1150.8L1088.0,1150.5L1086.8,1145.5ZM1098.2,1163.4L1099.9,1168.3L1102.1,1167.4L1100.3,1162.7ZM1092.7,1143.7L1094.6,1148.5L1096.1,1147.8L1094.2,1143.1ZM1097.2,1147.4L1099.3,1152.1L1101.0,1151.3L1098.8,1146.7ZM1099.3,1152.1L1101.3,1156.7L1103.2,1155.9L1101.0,1151.3ZM1105.1,1160.6L1107.3,1165.2L1109.4,1164.2L1107.1,1159.6ZM1104.9,1149.2L1107.5,1153.6L1109.2,1152.5L1106.5,1148.2ZM1107.1,1141.6L1110.2,1145.7L1111.6,1144.6L1108.5,1140.6ZM1105.1,1136.7L1108.3,1140.8L1109.6,1139.7L1106.3,1135.8ZM1111.4,1144.8L1114.6,1148.8L1116.1,1147.5L1112.9,1143.6ZM1112.6,1143.8L1115.9,1147.7L1117.4,1146.4L1114.1,1142.6ZM1083.6,1108.2L1086.9,1112.0L1087.3,1111.6L1083.8,1107.9ZM1107.1,1135.1L1110.5,1138.9L1111.7,1137.8L1108.3,1134.0ZM1110.8,1131.5L1114.6,1134.9L1115.7,1133.6L1111.8,1130.3ZM1122.3,1133.5L1126.5,1136.5L1127.6,1134.9L1123.4,1132.0ZM1128.4,1133.7L1132.7,1136.5L1133.9,1134.6L1129.5,1132.0ZM1135.5,1131.7L1140.0,1134.1L1141.1,1132.0L1136.6,1129.8ZM1132.6,1126.2L1137.2,1128.4L1138.1,1126.4L1133.4,1124.4ZM1125.5,1116.5L1130.3,1118.2L1130.9,1116.4L1126.0,1114.9ZM1126.4,1113.8L1131.3,1115.2L1131.8,1113.4L1126.8,1112.2ZM1137.0,1113.3L1142.0,1114.4L1142.5,1112.2L1137.5,1111.3ZM1142.0,1114.4L1147.0,1115.5L1147.5,1113.2L1142.5,1112.2ZM1112.8,1103.6L1117.9,1104.2L1118.0,1102.8L1112.9,1102.4ZM1123.2,1102.2L1128.3,1102.5L1128.4,1100.8L1123.2,1100.7ZM1128.3,1102.5L1133.4,1102.8L1133.5,1100.9L1128.4,1100.8ZM1138.6,1101.4L1143.7,1101.5L1143.7,1099.3L1138.6,1099.3ZM1138.6,1097.9L1143.7,1097.8L1143.6,1095.6L1138.5,1095.9ZM1123.2,1097.0L1128.3,1096.8L1128.2,1095.1L1123.1,1095.5ZM1122.8,1093.2L1127.9,1092.5L1127.6,1090.8L1122.6,1091.6ZM1112.6,1093.5L1117.6,1092.7L1117.4,1091.3L1112.3,1092.3Z" fill="#a2bad2"/>
<path d="M1064.3,1081.2L1061.5,1076.9L1060.8,1077.4L1063.7,1081.6ZM1064.5,1087.5L1061.0,1083.8L1060.5,1084.3L1064.1,1087.9ZM1067.8,1091.4L1064.2,1087.8L1063.8,1088.2L1067.6,1091.7ZM1064.2,1087.8L1060.6,1084.2L1060.1,1084.7L1063.8,1088.2ZM1049.0,1074.2L1045.3,1070.7L1044.3,1071.7L1048.2,1075.1ZM1059.8,1085.1L1055.9,1081.7L1055.4,1082.4L1059.3,1085.6ZM1066.4,1093.1L1062.2,1090.3L1061.9,1090.7L1066.2,1093.4ZM1034.5,1092.0L1029.5,1091.1L1029.2,1092.7L1034.3,1093.4ZM1064.6,1098.1L1059.5,1097.5L1059.5,1098.0L1064.5,1098.5ZM1059.4,1100.2L1054.3,1100.4L1054.3,1101.1L1059.4,1100.7ZM1044.4,1104.3L1039.4,1105.1L1039.6,1106.3L1044.6,1105.3ZM1049.9,1105.7L1044.9,1106.9L1045.2,1107.9L1050.1,1106.6ZM1065.3,1103.7L1060.5,1105.5L1060.7,1106.0L1065.4,1104.0ZM1060.7,1105.9L1056.0,1107.9L1056.3,1108.6L1060.9,1106.4ZM1038.1,1117.9L1033.5,1120.2L1034.2,1121.5L1038.7,1119.2ZM1038.6,1119.0L1034.1,1121.3L1034.8,1122.7L1039.3,1120.2ZM1025.8,1127.4L1021.3,1129.9L1022.3,1131.7L1026.7,1129.1ZM1026.0,1137.1L1021.9,1140.2L1023.2,1141.9L1027.2,1138.7ZM1039.8,1129.9L1035.9,1133.2L1037.0,1134.5L1040.8,1131.1ZM1046.3,1136.3L1043.1,1140.2L1044.4,1141.3L1047.5,1137.2ZM1038.0,1149.2L1034.9,1153.3L1036.7,1154.6L1039.7,1150.5ZM1045.4,1142.0L1042.4,1146.1L1043.9,1147.2L1046.8,1143.0ZM1047.7,1143.6L1045.0,1147.9L1046.6,1148.9L1049.2,1144.5ZM1047.7,1149.5L1045.2,1154.0L1047.0,1154.9L1049.3,1150.4ZM1044.3,1159.3L1041.9,1163.8L1044.0,1164.9L1046.3,1160.3ZM1049.3,1161.7L1047.3,1166.4L1049.5,1167.3L1051.3,1162.5ZM1063.8,1155.7L1062.7,1160.7L1064.7,1161.1L1065.7,1156.0ZM1063.5,1166.0L1062.5,1171.0L1064.9,1171.4L1065.7,1166.4ZM1071.2,1161.9L1070.8,1167.0L1073.0,1167.1L1073.3,1162.0ZM1076.3,1151.9L1076.3,1157.0L1078.2,1156.9L1078.0,1151.8ZM1077.6,1146.7L1077.7,1151.8L1079.4,1151.8L1079.1,1146.7ZM1079.8,1162.0L1080.1,1167.1L1082.3,1166.9L1081.8,1161.8ZM1081.9,1166.9L1082.4,1172.0L1084.8,1171.8L1084.1,1166.7ZM1101.3,1156.7L1103.4,1161.4L1105.4,1160.5L1103.2,1155.9ZM1108.4,1158.9L1110.9,1163.4L1112.9,1162.2L1110.3,1157.8ZM1110.5,1138.9L1113.8,1142.8L1115.2,1141.5L1111.7,1137.8ZM1116.1,1140.6L1119.7,1144.3L1121.2,1142.8L1117.5,1139.3ZM1119.4,1137.2L1123.2,1140.5L1124.6,1139.0L1120.6,1135.8ZM1120.4,1136.0L1124.4,1139.2L1125.6,1137.6L1121.6,1134.5ZM1124.4,1139.2L1128.3,1142.5L1129.7,1140.7L1125.6,1137.6ZM1130.6,1139.5L1134.7,1142.6L1136.1,1140.6L1131.9,1137.7ZM1134.6,1121.5L1139.4,1123.3L1140.1,1121.2L1135.3,1119.6ZM1126.0,1115.2L1130.8,1116.7L1131.4,1114.9L1126.4,1113.5ZM1126.7,1112.4L1131.7,1113.7L1132.1,1111.9L1127.1,1110.8ZM1132.7,1109.1L1137.7,1109.9L1138.0,1107.9L1133.0,1107.2ZM1127.9,1106.8L1132.9,1107.5L1133.1,1105.6L1128.1,1105.1ZM1133.5,1099.6L1138.6,1099.7L1138.6,1097.6L1133.4,1097.8ZM1138.4,1094.5L1143.5,1094.1L1143.3,1091.9L1138.2,1092.5Z" fill="#7ea2c6"/>
<path d="M1058.8,1072.6L1056.0,1068.3L1055.0,1069.0L1057.9,1073.2ZM1058.0,1079.6L1054.6,1075.8L1053.8,1076.5L1057.4,1080.2ZM1052.9,1085.8L1048.5,1083.2L1048.0,1084.1L1052.5,1086.6ZM1059.8,1095.7L1054.9,1094.5L1054.7,1095.2L1059.7,1096.2ZM1029.6,1123.7L1025.0,1126.0L1025.9,1127.7L1030.4,1125.2ZM1021.3,1129.9L1016.8,1132.4L1017.9,1134.3L1022.3,1131.7ZM1030.6,1149.7L1027.2,1153.5L1029.0,1155.1L1032.3,1151.2ZM1043.7,1153.1L1041.1,1157.5L1043.0,1158.6L1045.5,1154.1ZM1064.9,1150.7L1063.8,1155.7L1065.7,1156.0L1066.6,1151.0ZM1072.9,1162.0L1072.7,1167.1L1074.9,1167.2L1075.0,1162.1ZM1078.1,1162.0L1078.2,1167.2L1080.5,1167.0L1080.1,1161.9ZM1091.6,1160.1L1092.9,1165.0L1095.0,1164.5L1093.6,1159.6ZM1096.6,1158.6L1098.2,1163.4L1100.3,1162.7L1098.5,1157.9ZM1101.7,1162.1L1103.6,1166.8L1105.8,1165.9L1103.7,1161.2ZM1120.6,1150.5L1123.9,1154.3L1125.7,1152.7L1122.2,1149.0ZM1120.9,1143.1L1124.6,1146.6L1126.1,1145.0L1122.3,1141.6ZM1128.3,1142.5L1132.2,1145.7L1133.7,1143.9L1129.7,1140.7ZM1131.7,1138.0L1135.9,1140.9L1137.2,1139.0L1132.9,1136.2ZM1125.8,1128.2L1130.2,1130.8L1131.2,1129.0L1126.7,1126.6ZM1130.2,1130.8L1134.6,1133.3L1135.7,1131.4L1131.2,1129.0ZM1136.4,1130.1L1141.0,1132.4L1142.0,1130.2L1137.4,1128.1ZM1133.3,1124.7L1138.0,1126.7L1138.8,1124.7L1134.1,1122.8ZM1143.0,1108.9L1148.1,1109.6L1148.4,1107.3L1143.3,1106.7ZM1143.4,1105.2L1148.5,1105.7L1148.7,1103.3L1143.6,1103.0ZM1133.4,1101.2L1138.6,1101.4L1138.6,1099.3L1133.5,1099.3Z" fill="#4e72ba"/>
<path d="M1050.5,1059.7L1047.7,1055.4L1046.3,1056.4L1049.2,1060.6ZM1046.5,1056.2L1043.6,1052.0L1042.1,1053.1L1045.1,1057.2ZM1045.3,1057.0L1042.4,1052.9L1040.9,1054.0L1044.0,1058.1ZM1038.8,1062.6L1035.2,1059.0L1033.9,1060.4L1037.6,1063.9ZM1030.2,1074.1L1025.7,1071.6L1024.9,1073.3L1029.4,1075.6ZM1040.8,1088.0L1035.9,1086.4L1035.5,1087.8L1040.4,1089.2ZM1026.2,1083.3L1021.4,1081.7L1020.8,1083.5L1025.7,1084.9ZM1029.5,1091.1L1024.5,1090.2L1024.2,1091.9L1029.2,1092.7ZM1014.1,1090.1L1009.1,1089.4L1008.8,1091.5L1013.9,1092.1ZM1013.5,1096.9L1008.4,1096.7L1008.3,1098.9L1013.4,1099.0ZM1023.6,1098.8L1018.5,1098.7L1018.5,1100.6L1023.6,1100.5ZM1029.1,1105.3L1024.0,1106.0L1024.3,1107.7L1029.3,1106.9ZM1049.5,1117.3L1045.2,1120.1L1045.9,1121.1L1050.1,1118.1ZM1057.0,1118.4L1053.3,1122.0L1054.1,1122.7L1057.6,1119.0ZM1057.5,1118.9L1054.0,1122.6L1054.7,1123.3L1058.1,1119.5ZM1051.2,1127.0L1047.8,1130.8L1048.8,1131.7L1052.1,1127.8ZM1059.7,1120.8L1056.6,1124.9L1057.5,1125.5L1060.4,1121.3ZM1063.8,1117.5L1060.9,1121.7L1061.6,1122.2L1064.4,1117.8ZM1070.3,1109.5L1067.8,1114.0L1068.3,1114.2L1070.7,1109.7ZM1067.8,1114.0L1065.3,1118.4L1065.9,1118.7L1068.3,1114.2ZM1070.9,1109.8L1068.6,1114.4L1069.1,1114.6L1071.2,1110.0ZM1069.1,1120.1L1067.5,1124.9L1068.3,1125.2L1069.8,1120.3ZM1068.2,1125.2L1066.7,1130.0L1067.7,1130.3L1069.0,1125.4ZM1068.9,1125.4L1067.5,1130.3L1068.5,1130.6L1069.7,1125.6ZM1075.3,1131.4L1075.2,1136.5L1076.4,1136.5L1076.4,1131.4ZM1079.3,1115.8L1080.3,1120.8L1081.0,1120.6L1079.8,1115.7ZM1085.7,1129.9L1087.2,1134.8L1088.4,1134.4L1086.6,1129.6ZM1081.8,1109.4L1084.3,1113.9L1084.8,1113.6L1082.1,1109.2ZM1095.5,1131.0L1098.2,1135.3L1099.3,1134.6L1096.5,1130.3ZM1083.1,1108.6L1086.2,1112.6L1086.7,1112.2L1083.4,1108.3ZM1092.5,1120.6L1095.7,1124.7L1096.5,1124.0L1093.2,1120.1ZM1086.7,1103.8L1091.4,1105.8L1091.6,1105.3L1086.8,1103.5ZM1106.2,1109.9L1111.0,1111.6L1111.4,1110.4L1106.5,1108.9ZM1097.2,1104.3L1102.2,1105.4L1102.3,1104.5L1097.3,1103.6ZM1102.5,1104.0L1107.5,1104.8L1107.6,1103.8L1102.6,1103.1ZM1097.6,1101.9L1102.7,1102.5L1102.7,1101.6L1097.6,1101.2ZM1097.6,1101.3L1102.7,1101.8L1102.8,1100.9L1097.7,1100.6ZM1102.8,1099.6L1107.9,1099.6L1107.9,1098.5L1102.8,1098.7ZM1087.5,1098.6L1092.6,1098.2L1092.5,1097.6L1087.4,1098.2ZM1097.6,1097.8L1102.7,1097.4L1102.7,1096.5L1097.6,1097.1Z" fill="#eaa27e"/>
<path d="M1047.7,1055.4L1045.0,1051.1L1043.4,1052.2L1046.3,1056.4ZM1042.0,1059.7L1038.6,1055.8L1037.2,1057.1L1040.7,1060.8ZM1030.4,1056.7L1026.6,1053.2L1025.1,1054.8L1029.0,1058.2ZM1028.1,1059.2L1024.2,1056.0L1022.8,1057.7L1026.8,1060.8ZM1025.0,1087.4L1020.1,1086.2L1019.7,1088.1L1024.7,1089.1ZM1023.8,1095.9L1018.7,1095.6L1018.6,1097.5L1023.7,1097.6ZM1028.7,1100.2L1023.6,1100.2L1023.7,1101.9L1028.8,1101.7ZM1023.6,1100.2L1018.5,1100.3L1018.6,1102.2L1023.7,1101.9ZM1013.6,1103.8L1008.5,1104.2L1008.7,1106.4L1013.7,1105.8ZM1069.7,1120.3L1068.2,1125.2L1069.0,1125.4L1070.4,1120.5ZM1078.6,1110.7L1079.7,1115.7L1080.2,1115.6L1078.9,1110.6ZM1081.0,1115.3L1082.6,1120.2L1083.2,1120.0L1081.5,1115.2ZM1085.9,1112.9L1088.9,1117.0L1089.5,1116.5L1086.3,1112.5ZM1087.6,1111.4L1091.2,1115.0L1091.7,1114.5L1088.0,1111.0ZM1094.7,1118.7L1098.3,1122.4L1099.0,1121.6L1095.4,1118.1ZM1095.9,1108.2L1100.6,1110.3L1100.9,1109.5L1096.2,1107.6ZM1097.7,1100.1L1102.8,1100.3L1102.8,1099.4L1097.7,1099.4Z" fill="#de664e"/>
<path d="M1045.0,1051.1L1042.2,1046.8L1040.5,1048.0L1043.4,1052.2ZM1039.4,1048.8L1036.4,1044.6L1034.6,1045.9L1037.7,1050.0ZM1038.0,1049.8L1034.9,1045.7L1033.1,1047.1L1036.4,1051.1ZM1033.4,1046.9L1030.2,1042.9L1028.4,1044.4L1031.7,1048.3ZM1045.3,1063.6L1042.0,1059.7L1040.7,1060.8L1044.1,1064.6ZM1037.5,1056.9L1034.0,1053.1L1032.5,1054.5L1036.1,1058.1ZM1043.4,1065.3L1039.8,1061.6L1038.6,1062.8L1042.3,1066.4ZM1029.1,1066.3L1024.9,1063.3L1023.8,1065.0L1028.0,1067.8ZM1020.8,1060.4L1016.6,1057.4L1015.3,1059.4L1019.5,1062.2ZM1041.0,1076.1L1036.7,1073.2L1035.9,1074.5L1040.2,1077.2ZM1032.5,1070.4L1028.2,1067.6L1027.2,1069.1L1031.5,1071.8ZM1020.5,1070.6L1015.9,1068.3L1015.0,1070.3L1019.6,1072.5ZM1019.7,1072.2L1015.1,1069.9L1014.2,1071.9L1018.8,1074.0ZM1031.9,1082.4L1027.2,1080.6L1026.6,1082.2L1031.4,1083.9ZM1022.4,1078.7L1017.6,1076.9L1016.9,1078.8L1021.8,1080.5ZM1026.7,1081.9L1021.9,1080.2L1021.3,1082.0L1026.1,1083.5ZM1012.2,1076.8L1007.4,1075.1L1006.7,1077.3L1011.5,1078.9ZM1016.0,1081.8L1011.1,1080.3L1010.5,1082.4L1015.4,1083.7ZM1015.5,1083.4L1010.6,1082.1L1010.1,1084.2L1015.0,1085.4ZM1013.9,1091.8L1008.8,1091.2L1008.6,1093.4L1013.7,1093.9ZM1023.9,1094.5L1018.8,1094.0L1018.6,1095.9L1023.7,1096.2ZM1008.6,1093.0L1003.5,1092.6L1003.3,1094.9L1008.4,1095.2ZM1018.5,1100.3L1013.4,1100.4L1013.5,1102.4L1018.6,1102.2ZM1028.8,1101.5L1023.7,1101.7L1023.8,1103.4L1028.9,1103.0ZM1008.4,1102.3L1003.3,1102.5L1003.4,1104.9L1008.5,1104.5ZM1054.3,1101.0L1049.2,1101.3L1049.3,1102.2L1054.4,1101.7ZM1014.1,1108.9L1009.1,1109.7L1009.4,1111.9L1014.5,1110.9ZM1029.7,1109.2L1024.7,1110.2L1025.1,1111.9L1030.1,1110.7ZM1016.0,1117.3L1011.1,1118.7L1011.8,1120.8L1016.6,1119.2ZM1011.7,1120.5L1006.8,1122.1L1007.6,1124.3L1012.4,1122.6ZM1065.9,1105.1L1061.5,1107.6L1061.8,1108.0L1066.1,1105.4ZM1058.3,1112.1L1054.1,1115.0L1054.6,1115.7L1058.7,1112.6ZM1067.8,1107.6L1064.2,1111.2L1064.6,1111.6L1068.1,1107.9ZM1068.1,1107.8L1064.5,1111.5L1064.9,1111.9L1068.3,1108.1ZM1064.5,1111.5L1061.0,1115.2L1061.5,1115.7L1064.9,1111.9ZM1058.0,1119.4L1054.6,1123.2L1055.4,1123.9L1058.7,1120.0ZM1058.6,1119.9L1055.3,1123.8L1056.1,1124.4L1059.3,1120.5ZM1060.9,1121.7L1058.0,1125.9L1058.9,1126.5L1061.6,1122.2ZM1070.6,1109.7L1068.2,1114.2L1068.7,1114.4L1070.9,1109.8ZM1064.1,1123.5L1061.8,1128.1L1062.8,1128.6L1064.9,1123.9ZM1065.4,1124.2L1063.4,1128.8L1064.4,1129.2L1066.2,1124.5ZM1068.0,1119.7L1066.1,1124.4L1066.9,1124.7L1068.6,1119.9ZM1064.2,1129.2L1062.3,1133.9L1063.5,1134.4L1065.2,1129.5ZM1073.6,1110.7L1072.5,1115.7L1073.0,1115.8L1073.9,1110.8ZM1071.0,1125.9L1070.1,1130.9L1071.1,1131.1L1071.9,1126.0ZM1074.2,1110.9L1073.4,1115.9L1073.9,1116.0L1074.6,1110.9ZM1073.4,1115.9L1072.6,1120.9L1073.3,1121.0L1073.9,1116.0ZM1073.7,1121.1L1073.2,1126.2L1074.1,1126.3L1074.5,1121.2ZM1073.2,1136.4L1072.8,1141.5L1074.2,1141.6L1074.4,1136.5ZM1076.1,1116.1L1076.1,1121.2L1076.8,1121.2L1076.6,1116.1ZM1077.6,1126.3L1077.9,1131.4L1079.0,1131.3L1078.5,1126.2ZM1077.5,1116.0L1077.9,1121.1L1078.6,1121.1L1078.0,1116.0ZM1077.9,1116.0L1078.5,1121.1L1079.2,1121.0L1078.5,1115.9ZM1079.7,1120.9L1080.5,1125.9L1081.4,1125.8L1080.4,1120.8ZM1080.3,1120.8L1081.3,1125.8L1082.1,1125.6L1081.0,1120.6ZM1079.2,1110.6L1080.6,1115.5L1081.1,1115.3L1079.5,1110.4ZM1088.9,1128.7L1091.0,1133.4L1092.1,1132.9L1089.9,1128.3ZM1088.2,1123.4L1090.5,1127.9L1091.4,1127.5L1089.0,1123.0ZM1098.2,1135.3L1100.9,1139.7L1102.2,1138.9L1099.3,1134.6ZM1091.3,1121.5L1094.3,1125.7L1095.1,1125.1L1092.1,1121.0ZM1086.6,1112.3L1089.8,1116.2L1090.4,1115.8L1087.0,1111.9ZM1097.0,1123.5L1100.4,1127.4L1101.3,1126.6L1097.8,1122.8ZM1094.2,1119.2L1097.7,1123.0L1098.4,1122.2L1094.8,1118.6ZM1095.3,1118.2L1098.9,1121.7L1099.6,1121.0L1095.9,1117.5ZM1092.0,1114.2L1095.8,1117.6L1096.3,1117.0L1092.5,1113.7ZM1084.7,1107.0L1088.5,1110.4L1088.9,1110.0L1084.9,1106.8ZM1088.8,1110.0L1092.8,1113.3L1093.2,1112.7L1089.2,1109.6ZM1092.8,1113.3L1096.7,1116.5L1097.3,1115.8L1093.2,1112.7ZM1089.4,1109.3L1093.5,1112.3L1093.9,1111.8L1089.7,1108.9ZM1098.5,1114.2L1102.7,1117.0L1103.3,1116.1L1098.9,1113.4ZM1104.1,1114.7L1108.6,1117.1L1109.1,1116.1L1104.6,1113.8ZM1113.1,1119.6L1117.6,1122.0L1118.3,1120.6L1113.7,1118.3ZM1091.2,1106.2L1095.9,1108.2L1096.2,1107.6L1091.4,1105.7ZM1100.6,1110.3L1105.2,1112.3L1105.6,1111.4L1100.9,1109.5ZM1091.4,1105.8L1096.1,1107.7L1096.4,1107.0L1091.6,1105.3ZM1096.7,1106.0L1101.6,1107.5L1101.8,1106.7L1096.9,1105.3ZM1087.5,1100.5L1092.5,1100.9L1092.6,1100.4L1087.5,1100.1ZM1107.8,1102.2L1112.9,1102.6L1113.0,1101.4L1107.9,1101.2ZM1092.6,1099.1L1097.7,1099.0L1097.7,1098.3L1092.6,1098.5ZM1102.7,1096.6L1107.8,1096.1L1107.6,1095.1L1102.6,1095.8ZM1112.8,1095.5L1117.9,1095.0L1117.7,1093.6L1112.7,1094.3ZM1092.5,1097.3L1097.5,1096.6L1097.4,1095.9L1092.4,1096.7Z" fill="#eaae7e"/>
<path d="M1066.6,1085.8L1063.8,1081.6L1063.2,1082.0L1066.2,1086.1ZM1065.9,1086.3L1062.8,1082.2L1062.3,1082.7L1065.5,1086.6ZM1056.4,1081.1L1052.7,1077.7L1052.0,1078.4L1055.8,1081.8ZM1051.0,1079.6L1047.0,1076.5L1046.3,1077.4L1050.4,1080.5ZM1055.5,1092.2L1050.7,1090.5L1050.5,1091.3L1055.3,1092.9ZM1050.3,1091.9L1045.4,1090.4L1045.1,1091.4L1050.0,1092.7ZM1059.6,1097.0L1054.5,1096.2L1054.4,1096.9L1059.5,1097.5ZM1049.3,1096.9L1044.2,1096.5L1044.1,1097.5L1049.2,1097.8ZM1059.4,1098.8L1054.3,1098.6L1054.3,1099.3L1059.4,1099.4ZM1054.3,1098.6L1049.2,1098.4L1049.2,1099.3L1054.3,1099.3ZM1039.4,1105.1L1034.3,1105.8L1034.6,1107.2L1039.6,1106.3ZM1059.7,1102.4L1054.6,1103.4L1054.8,1104.1L1059.8,1103.0ZM1064.9,1102.5L1060.0,1103.8L1060.1,1104.3L1065.0,1102.8ZM1028.3,1121.1L1023.6,1123.2L1024.4,1124.9L1029.0,1122.6ZM1024.3,1124.6L1019.7,1126.9L1020.6,1128.7L1025.2,1126.3ZM1025.0,1126.0L1020.5,1128.4L1021.5,1130.2L1025.9,1127.7ZM1020.8,1138.7L1016.6,1141.6L1018.0,1143.5L1022.1,1140.5ZM1042.0,1139.3L1038.7,1143.2L1040.1,1144.4L1043.3,1140.4ZM1032.0,1151.0L1028.7,1154.9L1030.5,1156.4L1033.7,1152.4ZM1046.5,1142.8L1043.7,1147.0L1045.2,1148.1L1048.0,1143.7ZM1040.8,1151.2L1037.9,1155.5L1039.8,1156.7L1042.5,1152.4ZM1041.1,1157.5L1038.4,1161.8L1040.5,1163.0L1043.0,1158.6ZM1054.0,1147.0L1051.9,1151.7L1053.6,1152.4L1055.6,1147.7ZM1059.4,1159.8L1058.1,1164.8L1060.2,1165.3L1061.4,1160.4ZM1062.3,1155.3L1061.1,1160.3L1063.1,1160.7L1064.1,1155.7ZM1073.9,1141.6L1073.7,1146.7L1075.2,1146.8L1075.3,1141.6ZM1079.5,1156.9L1079.8,1162.0L1081.8,1161.8L1081.4,1156.7ZM1088.3,1160.9L1089.3,1165.9L1091.5,1165.4L1090.3,1160.4ZM1087.7,1150.5L1088.8,1155.5L1090.6,1155.1L1089.3,1150.1ZM1094.9,1153.8L1096.6,1158.6L1098.5,1157.9L1096.6,1153.1ZM1096.4,1153.2L1098.2,1158.0L1100.1,1157.3L1098.1,1152.6ZM1100.0,1162.8L1101.8,1167.6L1104.0,1166.7L1102.0,1162.0ZM1106.0,1154.4L1108.4,1158.9L1110.3,1157.8L1107.7,1153.4ZM1118.2,1130.5L1122.3,1133.5L1123.4,1132.0L1119.2,1129.1ZM1119.3,1118.5L1123.9,1120.6L1124.6,1119.0L1119.9,1117.1ZM1136.2,1116.6L1141.1,1118.0L1141.7,1115.9L1136.7,1114.6ZM1132.1,1112.1L1137.0,1113.3L1137.5,1111.3L1132.4,1110.3ZM1142.4,1112.6L1147.4,1113.6L1147.8,1111.2L1142.8,1110.4ZM1137.7,1109.9L1142.7,1110.8L1143.1,1108.6L1138.0,1107.9ZM1142.7,1110.8L1147.8,1111.6L1148.1,1109.3L1143.1,1108.6ZM1128.0,1105.4L1133.1,1105.9L1133.3,1104.1L1128.2,1103.7ZM1143.3,1092.3L1148.4,1091.7L1148.1,1089.4L1143.0,1090.1ZM1142.8,1088.6L1147.8,1087.8L1147.4,1085.4L1142.4,1086.4Z" fill="#7296c6"/>
<path d="M1058.0,1073.1L1055.1,1068.9L1054.2,1069.6L1057.2,1073.7ZM1040.8,1047.8L1037.9,1043.6L1036.1,1044.8L1039.1,1049.0ZM1035.3,1051.9L1032.0,1048.1L1030.3,1049.5L1033.8,1053.3ZM1036.8,1064.7L1033.0,1061.3L1031.8,1062.8L1035.7,1066.0ZM1036.7,1073.2L1032.5,1070.4L1031.5,1071.8L1035.9,1074.5ZM1028.2,1067.6L1024.0,1064.7L1022.9,1066.4L1027.2,1069.1ZM1034.7,1076.6L1030.2,1074.1L1029.4,1075.6L1034.0,1077.9ZM1024.3,1074.4L1019.7,1072.2L1018.8,1074.0L1023.5,1076.1ZM1015.1,1069.9L1010.5,1067.7L1009.5,1069.9L1014.2,1071.9ZM1065.5,1094.8L1060.9,1092.7L1060.7,1093.2L1065.4,1095.1ZM1036.7,1084.3L1031.9,1082.4L1031.4,1083.9L1036.2,1085.6ZM1050.5,1091.2L1045.6,1089.6L1045.3,1090.6L1050.2,1092.0ZM1035.9,1086.4L1031.1,1084.9L1030.6,1086.3L1035.5,1087.8ZM1031.1,1084.9L1026.2,1083.3L1025.7,1084.9L1030.6,1086.3ZM1019.4,1089.3L1014.4,1088.4L1014.1,1090.4L1019.1,1091.2ZM1019.0,1092.4L1013.9,1091.8L1013.7,1093.9L1018.8,1094.3ZM1029.0,1095.0L1023.9,1094.5L1023.7,1096.2L1028.8,1096.5ZM1028.8,1097.6L1023.7,1097.4L1023.6,1099.1L1028.7,1099.1ZM1013.5,1102.1L1008.4,1102.3L1008.5,1104.5L1013.6,1104.1ZM1009.4,1111.5L1004.4,1112.4L1004.8,1114.8L1009.8,1113.7ZM1039.7,1107.1L1034.7,1108.1L1035.0,1109.5L1040.0,1108.3ZM1015.5,1115.6L1010.6,1117.0L1011.2,1119.1L1016.1,1117.6ZM1031.1,1114.2L1026.2,1115.8L1026.8,1117.4L1031.6,1115.6ZM1012.3,1122.3L1007.4,1124.0L1008.3,1126.2L1013.0,1124.3ZM1013.6,1125.7L1008.9,1127.7L1009.8,1129.9L1014.5,1127.7ZM1060.9,1106.4L1056.2,1108.5L1056.5,1109.1L1061.1,1106.8ZM1047.7,1114.2L1043.1,1116.6L1043.7,1117.7L1048.2,1115.2ZM1043.1,1116.6L1038.6,1119.0L1039.3,1120.2L1043.7,1117.7ZM1061.5,1107.6L1057.0,1110.1L1057.4,1110.7L1061.8,1108.0ZM1052.6,1112.5L1048.1,1115.0L1048.6,1115.9L1053.0,1113.3ZM1061.9,1108.4L1057.6,1111.1L1058.0,1111.7L1062.2,1108.8ZM1066.4,1105.9L1062.2,1108.7L1062.5,1109.2L1066.7,1106.2ZM1062.5,1109.1L1058.3,1112.1L1058.7,1112.6L1062.8,1109.5ZM1051.0,1119.4L1047.0,1122.6L1047.8,1123.5L1051.7,1120.2ZM1055.5,1116.8L1051.6,1120.1L1052.2,1120.8L1056.0,1117.4ZM1048.3,1124.1L1044.5,1127.5L1045.4,1128.5L1049.1,1125.0ZM1052.7,1121.4L1049.0,1124.9L1049.8,1125.7L1053.5,1122.1ZM1046.1,1129.2L1042.5,1132.8L1043.6,1133.9L1047.1,1130.2ZM1061.9,1116.0L1058.6,1119.9L1059.3,1120.5L1062.4,1116.5ZM1068.8,1108.4L1065.6,1112.4L1066.0,1112.8L1069.1,1108.7ZM1055.9,1124.3L1052.7,1128.3L1053.7,1129.1L1056.8,1125.0ZM1069.3,1108.8L1066.3,1113.0L1066.7,1113.3L1069.6,1109.0ZM1057.3,1125.4L1054.3,1129.5L1055.3,1130.2L1058.2,1126.0ZM1070.1,1109.3L1067.4,1113.7L1067.9,1114.0L1070.4,1109.5ZM1062.8,1122.8L1060.3,1127.3L1061.2,1127.8L1063.6,1123.3ZM1065.8,1118.7L1063.4,1123.2L1064.2,1123.6L1066.5,1119.0ZM1071.2,1109.9L1069.0,1114.6L1069.5,1114.8L1071.5,1110.1ZM1066.9,1119.2L1064.7,1123.9L1065.5,1124.2L1067.5,1119.5ZM1063.4,1128.8L1061.4,1133.5L1062.5,1134.0L1064.4,1129.2ZM1071.8,1110.2L1069.9,1114.9L1070.4,1115.1L1072.1,1110.3ZM1070.3,1115.1L1068.5,1119.9L1069.2,1120.1L1070.8,1115.3ZM1067.5,1124.9L1065.9,1129.8L1066.9,1130.1L1068.3,1125.2ZM1072.6,1110.5L1071.2,1115.4L1071.7,1115.5L1073.0,1110.6ZM1062.2,1144.7L1060.7,1149.6L1062.4,1150.1L1063.7,1145.1ZM1067.2,1135.5L1065.9,1140.4L1067.3,1140.7L1068.3,1135.7ZM1066.0,1145.7L1064.9,1150.7L1066.6,1151.0L1067.5,1146.0ZM1073.9,1110.8L1072.9,1115.8L1073.5,1115.9L1074.2,1110.9ZM1075.2,1116.1L1074.9,1121.2L1075.6,1121.2L1075.7,1116.1ZM1076.2,1131.4L1076.2,1136.5L1077.4,1136.5L1077.2,1131.4ZM1076.2,1136.5L1076.2,1141.6L1077.6,1141.6L1077.4,1136.5ZM1077.0,1116.1L1077.3,1121.2L1078.0,1121.1L1077.5,1116.0ZM1079.3,1136.4L1079.7,1141.5L1081.1,1141.3L1080.5,1136.3ZM1078.5,1121.1L1079.1,1126.1L1080.0,1126.0L1079.2,1121.0ZM1080.9,1141.4L1081.4,1146.4L1083.0,1146.2L1082.2,1141.2ZM1080.5,1131.1L1081.3,1136.2L1082.5,1136.0L1081.6,1130.9ZM1080.5,1125.9L1081.4,1131.0L1082.4,1130.8L1081.4,1125.8ZM1081.4,1131.0L1082.3,1136.0L1083.5,1135.8L1082.4,1130.8ZM1084.3,1140.8L1085.3,1145.8L1086.8,1145.5L1085.6,1140.5ZM1080.6,1115.5L1082.0,1120.4L1082.7,1120.2L1081.1,1115.3ZM1087.6,1140.0L1089.1,1144.9L1090.5,1144.5L1089.0,1139.6ZM1086.5,1129.7L1088.2,1134.5L1089.3,1134.1L1087.5,1129.3ZM1084.2,1119.6L1086.2,1124.3L1087.0,1124.0L1084.9,1119.3ZM1092.0,1138.5L1093.9,1143.2L1095.4,1142.6L1093.3,1137.9ZM1080.9,1109.9L1083.1,1114.5L1083.6,1114.3L1081.3,1109.7ZM1087.5,1123.7L1089.7,1128.3L1090.7,1127.9L1088.3,1123.3ZM1096.3,1130.5L1099.1,1134.7L1100.3,1133.9L1097.3,1129.8ZM1082.6,1108.9L1085.5,1113.1L1085.9,1112.8L1082.9,1108.7ZM1088.9,1117.0L1091.9,1121.1L1092.6,1120.5L1089.5,1116.5ZM1095.0,1125.2L1098.0,1129.3L1099.0,1128.6L1095.8,1124.6ZM1089.4,1116.6L1092.5,1120.6L1093.2,1120.1L1089.9,1116.2ZM1093.1,1120.2L1096.4,1124.1L1097.1,1123.4L1093.8,1119.6ZM1106.1,1135.9L1109.4,1139.9L1110.7,1138.7L1107.3,1134.9ZM1093.7,1119.7L1097.0,1123.5L1097.8,1122.8L1094.3,1119.1ZM1087.3,1111.7L1090.7,1115.5L1091.3,1115.0L1087.7,1111.3ZM1097.7,1123.0L1101.1,1126.7L1102.0,1125.9L1098.4,1122.2ZM1098.3,1122.4L1101.9,1126.0L1102.7,1125.1L1099.0,1121.6ZM1096.3,1117.1L1100.1,1120.4L1100.8,1119.6L1096.8,1116.4ZM1100.1,1120.4L1104.0,1123.8L1104.7,1122.9L1100.8,1119.6ZM1104.0,1123.8L1107.8,1127.1L1108.7,1126.1L1104.7,1122.9ZM1103.2,1116.2L1107.6,1118.9L1108.2,1117.8L1103.7,1115.3ZM1104.5,1113.9L1109.0,1116.2L1109.6,1115.1L1104.9,1113.0ZM1118.2,1120.8L1122.7,1123.1L1123.5,1121.6L1118.8,1119.5ZM1110.3,1113.5L1115.0,1115.4L1115.5,1114.1L1110.7,1112.3ZM1091.6,1105.3L1096.3,1107.1L1096.6,1106.5L1091.7,1104.8ZM1105.9,1110.7L1110.7,1112.5L1111.1,1111.4L1106.2,1109.7ZM1101.4,1108.2L1106.2,1109.9L1106.5,1108.9L1101.6,1107.4ZM1111.0,1111.6L1115.9,1113.2L1116.3,1111.9L1111.4,1110.4ZM1091.8,1104.5L1096.7,1106.0L1096.9,1105.3L1092.0,1104.0ZM1101.6,1107.5L1106.5,1109.1L1106.8,1108.1L1101.8,1106.7ZM1106.7,1108.2L1111.6,1109.6L1111.9,1108.4L1107.0,1107.2ZM1111.6,1109.6L1116.5,1111.0L1116.9,1109.7L1111.9,1108.4ZM1092.1,1103.6L1097.0,1104.9L1097.2,1104.2L1092.2,1103.1ZM1097.0,1104.9L1102.0,1106.1L1102.2,1105.3L1097.2,1104.2ZM1092.2,1103.2L1097.2,1104.3L1097.3,1103.6L1092.3,1102.6ZM1092.4,1102.3L1097.4,1103.1L1097.5,1102.4L1092.5,1101.7ZM1112.5,1105.7L1117.6,1106.5L1117.8,1105.1L1112.7,1104.5ZM1092.5,1100.9L1097.6,1101.3L1097.7,1100.6L1092.6,1100.4ZM1102.7,1101.8L1107.8,1102.2L1107.9,1101.2L1102.8,1100.9ZM1113.0,1100.6L1118.1,1100.8L1118.1,1099.4L1113.0,1099.4ZM1113.0,1098.6L1118.1,1098.5L1118.1,1097.1L1113.0,1097.4ZM1097.7,1098.4L1102.8,1098.1L1102.7,1097.2L1097.6,1097.7ZM1092.6,1098.2L1097.6,1097.8L1097.6,1097.1L1092.5,1097.6ZM1112.9,1096.6L1118.0,1096.1L1117.9,1094.8L1112.8,1095.3ZM1097.6,1097.2L1102.7,1096.6L1102.6,1095.8L1097.5,1096.5ZM1117.9,1095.0L1123.0,1094.4L1122.8,1092.9L1117.7,1093.6Z" fill="#eac696"/>
<path d="M1055.1,1068.9L1052.3,1064.7L1051.1,1065.5L1054.2,1069.6ZM1060.3,1077.8L1057.3,1073.6L1056.5,1074.2L1059.6,1078.3ZM1057.3,1073.6L1054.3,1069.5L1053.3,1070.2L1056.5,1074.2ZM1054.3,1069.5L1051.3,1065.3L1050.2,1066.2L1053.3,1070.2ZM1068.1,1091.2L1064.5,1087.5L1064.1,1087.9L1067.8,1091.4ZM1046.1,1069.8L1042.4,1066.2L1041.4,1067.3L1045.1,1070.8ZM1063.9,1088.1L1060.2,1084.6L1059.7,1085.2L1063.5,1088.5ZM1043.7,1072.4L1039.8,1069.1L1038.8,1070.3L1042.9,1073.5ZM1062.2,1090.3L1057.9,1087.4L1057.6,1088.0L1061.9,1090.7ZM1053.3,1085.2L1049.0,1082.5L1048.4,1083.4L1052.8,1086.0ZM1061.7,1091.0L1057.3,1088.4L1057.0,1089.1L1061.4,1091.5ZM1015.9,1068.3L1011.4,1065.9L1010.3,1068.0L1015.0,1070.3ZM1065.2,1095.6L1060.4,1093.9L1060.2,1094.4L1065.0,1096.0ZM1060.1,1094.8L1055.2,1093.3L1055.0,1094.0L1059.9,1095.3ZM1045.1,1091.3L1040.2,1090.0L1039.9,1091.1L1044.9,1092.3ZM1039.7,1092.0L1034.7,1090.9L1034.5,1092.3L1039.5,1093.1ZM1064.7,1097.5L1059.7,1096.6L1059.6,1097.1L1064.6,1097.8ZM1044.4,1094.7L1039.4,1093.9L1039.2,1095.1L1044.3,1095.7ZM1039.0,1097.0L1033.9,1096.6L1033.9,1098.0L1039.0,1098.2ZM1039.0,1101.0L1033.9,1101.2L1034.0,1102.6L1039.1,1102.2ZM1064.8,1102.2L1059.8,1103.3L1060.0,1103.9L1064.9,1102.5ZM1010.6,1117.0L1005.7,1118.3L1006.3,1120.6L1011.2,1119.1ZM1022.4,1120.3L1017.7,1122.2L1018.4,1124.0L1023.1,1122.0ZM1056.0,1107.9L1051.3,1109.9L1051.6,1110.7L1056.3,1108.6ZM1028.9,1122.4L1024.3,1124.6L1025.2,1126.3L1029.7,1123.9ZM1020.5,1128.4L1016.0,1130.8L1017.0,1132.7L1021.5,1130.2ZM1023.1,1132.9L1018.7,1135.6L1019.9,1137.4L1024.2,1134.6ZM1036.3,1141.1L1032.8,1144.8L1034.3,1146.2L1037.7,1142.4ZM1036.7,1148.2L1033.5,1152.2L1035.2,1153.5L1038.3,1149.4ZM1054.2,1135.6L1051.6,1140.0L1052.9,1140.7L1055.4,1136.3ZM1049.0,1144.3L1046.3,1148.7L1047.9,1149.7L1050.4,1145.2ZM1059.8,1143.9L1058.0,1148.7L1059.6,1149.2L1061.2,1144.4ZM1064.8,1140.1L1063.5,1145.1L1065.0,1145.5L1066.2,1140.5ZM1059.8,1165.2L1058.6,1170.2L1060.9,1170.7L1062.0,1165.7ZM1070.6,1151.6L1070.0,1156.7L1071.9,1156.8L1072.3,1151.7ZM1072.4,1146.6L1072.0,1151.7L1073.7,1151.8L1073.9,1146.7ZM1078.6,1141.6L1078.9,1146.7L1080.4,1146.6L1079.9,1141.5ZM1122.1,1141.8L1125.9,1145.3L1127.3,1143.6L1123.5,1140.3ZM1115.5,1133.8L1119.4,1137.2L1120.6,1135.8L1116.6,1132.5ZM1127.5,1135.1L1131.7,1138.0L1132.9,1136.2L1128.6,1133.4ZM1124.1,1130.9L1128.4,1133.7L1129.5,1132.0L1125.1,1129.3ZM1123.9,1120.6L1128.6,1122.6L1129.4,1120.9L1124.6,1119.0ZM1135.7,1118.2L1140.6,1119.8L1141.2,1117.6L1136.3,1116.3ZM1117.9,1104.2L1123.0,1104.8L1123.1,1103.3L1118.0,1102.8ZM1127.7,1091.1L1132.7,1090.2L1132.4,1088.4L1127.4,1089.4Z" fill="#aec6d2"/>
<path d="M1043.6,1052.0L1040.8,1047.8L1039.1,1049.0L1042.1,1053.1ZM1037.9,1043.6L1035.0,1039.3L1033.1,1040.7L1036.1,1044.8ZM1039.9,1054.8L1036.6,1050.8L1035.1,1052.2L1038.4,1056.0ZM1031.5,1055.4L1027.9,1051.8L1026.4,1053.4L1030.1,1056.9ZM1041.5,1067.2L1037.8,1063.7L1036.7,1064.9L1040.5,1068.3ZM1037.8,1063.7L1034.1,1060.2L1032.8,1061.6L1036.7,1064.9ZM1024.0,1064.7L1019.7,1061.9L1018.5,1063.8L1022.9,1066.4ZM1023.6,1075.8L1019.0,1073.7L1018.2,1075.6L1022.9,1077.5ZM1018.3,1075.3L1013.6,1073.3L1012.8,1075.4L1017.5,1077.2ZM1017.6,1076.9L1012.9,1075.0L1012.1,1077.1L1016.9,1078.8ZM1014.4,1088.4L1009.4,1087.5L1009.0,1089.7L1014.1,1090.4ZM1028.9,1096.3L1023.8,1095.9L1023.7,1097.6L1028.8,1097.8ZM1008.3,1100.5L1003.2,1100.5L1003.3,1102.9L1008.4,1102.7ZM1023.8,1103.1L1018.7,1103.5L1018.8,1105.3L1023.9,1104.8ZM1021.9,1118.8L1017.1,1120.5L1017.8,1122.5L1022.5,1120.6ZM1053.3,1113.8L1049.0,1116.5L1049.6,1117.4L1053.8,1114.5ZM1066.8,1106.4L1062.7,1109.5L1063.1,1109.9L1067.0,1106.7ZM1067.4,1107.1L1063.6,1110.5L1064.0,1110.9L1067.7,1107.4ZM1067.6,1107.4L1063.9,1110.9L1064.3,1111.3L1067.9,1107.6ZM1068.2,1114.2L1065.8,1118.7L1066.5,1119.0L1068.7,1114.4ZM1065.2,1134.9L1063.7,1139.8L1065.0,1140.2L1066.4,1135.3ZM1071.4,1120.7L1070.3,1125.7L1071.2,1125.9L1072.1,1120.9ZM1075.2,1136.5L1075.1,1141.6L1076.5,1141.6L1076.4,1136.5ZM1077.9,1110.8L1078.8,1115.9L1079.3,1115.8L1078.3,1110.8ZM1087.2,1134.8L1088.7,1139.7L1090.1,1139.2L1088.4,1134.4ZM1081.9,1115.0L1083.7,1119.8L1084.4,1119.5L1082.4,1114.8ZM1084.3,1113.9L1086.9,1118.3L1087.5,1117.9L1084.8,1113.6ZM1094.6,1131.5L1097.2,1135.9L1098.4,1135.2L1095.7,1130.9ZM1085.3,1106.3L1089.4,1109.3L1089.7,1108.9L1085.5,1106.0ZM1098.9,1113.5L1103.2,1116.2L1103.7,1115.3L1099.3,1112.8ZM1107.6,1118.9L1111.9,1121.6L1112.6,1120.4L1108.2,1117.8ZM1087.3,1101.4L1092.4,1102.3L1092.5,1101.7L1087.4,1101.0ZM1112.9,1102.6L1118.0,1103.1L1118.1,1101.7L1113.0,1101.4ZM1097.7,1099.0L1102.8,1098.8L1102.8,1098.0L1097.7,1098.3ZM1102.5,1095.2L1107.5,1094.4L1107.3,1093.3L1102.3,1094.3Z" fill="#eaa272"/>
<path d="M1069.3,1090.2L1066.3,1086.0L1065.8,1086.4L1069.0,1090.4ZM1051.9,1071.4L1048.6,1067.5L1047.6,1068.4L1051.0,1072.2ZM1048.6,1067.5L1045.3,1063.6L1044.1,1064.6L1047.6,1068.4ZM1064.9,1087.2L1061.4,1083.4L1060.9,1083.9L1064.5,1087.6ZM1031.0,1063.8L1027.0,1060.6L1025.8,1062.2L1029.9,1065.2ZM1038.1,1081.1L1033.5,1078.9L1032.8,1080.3L1037.5,1082.3ZM1060.7,1093.1L1056.0,1091.1L1055.7,1091.8L1060.5,1093.6ZM1046.2,1088.0L1041.5,1086.1L1041.0,1087.2L1045.9,1088.9ZM1041.5,1086.1L1036.7,1084.3L1036.2,1085.6L1041.0,1087.2ZM1009.1,1089.4L1004.0,1088.6L1003.7,1090.9L1008.8,1091.5ZM1034.2,1094.3L1029.1,1093.7L1028.9,1095.2L1034.0,1095.7ZM1039.1,1096.0L1034.0,1095.5L1033.9,1096.8L1039.0,1097.2ZM1064.5,1098.7L1059.4,1098.4L1059.4,1098.9L1064.5,1099.1ZM1044.1,1101.7L1039.0,1102.0L1039.1,1103.3L1044.2,1102.7ZM1049.3,1102.1L1044.2,1102.6L1044.3,1103.6L1049.4,1102.9ZM1064.7,1101.5L1059.7,1102.4L1059.8,1103.0L1064.8,1101.9ZM1034.5,1107.0L1029.5,1107.9L1029.8,1109.4L1034.8,1108.3ZM1059.7,1102.9L1054.7,1103.9L1054.9,1104.6L1059.9,1103.4ZM1019.7,1111.3L1014.7,1112.3L1015.2,1114.3L1020.2,1113.1ZM1059.8,1103.3L1054.9,1104.5L1055.0,1105.2L1060.0,1103.9ZM1045.4,1108.6L1040.5,1110.0L1040.8,1111.2L1045.7,1109.6ZM1050.7,1108.5L1045.9,1110.2L1046.3,1111.2L1051.0,1109.3ZM1041.1,1112.0L1036.3,1113.7L1036.8,1115.0L1041.5,1113.1ZM1023.6,1123.2L1019.0,1125.3L1019.9,1127.2L1024.4,1124.9ZM1034.1,1121.3L1029.6,1123.7L1030.4,1125.2L1034.8,1122.7ZM1016.0,1130.8L1011.4,1133.1L1012.6,1135.2L1017.0,1132.7ZM1043.6,1117.5L1039.2,1120.0L1039.9,1121.2L1044.2,1118.5ZM1060.6,1114.8L1057.0,1118.4L1057.6,1119.0L1061.1,1115.3ZM1028.0,1147.2L1024.3,1150.8L1026.0,1152.4L1029.5,1148.7ZM1048.4,1137.8L1045.4,1142.0L1046.8,1143.0L1049.6,1138.7ZM1061.5,1122.1L1058.8,1126.4L1059.7,1126.9L1062.3,1122.5ZM1067.4,1113.7L1064.8,1118.1L1065.4,1118.5L1067.9,1114.0ZM1061.8,1128.1L1059.5,1132.7L1060.6,1133.2L1062.8,1128.6ZM1057.3,1137.3L1055.0,1141.8L1056.4,1142.5L1058.5,1137.9ZM1066.2,1135.2L1064.8,1140.1L1066.2,1140.5L1067.3,1135.5ZM1072.7,1131.3L1072.2,1136.3L1073.4,1136.4L1073.7,1131.4ZM1072.2,1136.3L1071.6,1141.4L1073.0,1141.5L1073.4,1136.4ZM1072.0,1151.7L1071.6,1156.8L1073.5,1156.9L1073.7,1151.8ZM1082.3,1136.0L1083.1,1141.0L1084.5,1140.8L1083.5,1135.8ZM1093.4,1154.3L1094.9,1159.2L1096.9,1158.5L1095.2,1153.7ZM1082.3,1114.9L1084.2,1119.6L1084.9,1119.3L1082.8,1114.7ZM1084.8,1119.4L1086.9,1124.0L1087.7,1123.7L1085.4,1119.1ZM1083.5,1114.3L1085.9,1118.8L1086.5,1118.5L1084.0,1114.0ZM1099.8,1146.1L1102.1,1150.7L1103.8,1149.8L1101.3,1145.3ZM1104.4,1155.2L1106.8,1159.8L1108.7,1158.8L1106.2,1154.3ZM1099.8,1140.4L1102.3,1144.8L1103.8,1143.9L1101.1,1139.6ZM1093.5,1126.2L1096.3,1130.5L1097.3,1129.8L1094.4,1125.6ZM1105.9,1142.5L1108.9,1146.6L1110.4,1145.5L1107.3,1141.5ZM1096.4,1124.1L1099.6,1128.0L1100.5,1127.3L1097.1,1123.4ZM1099.6,1128.0L1102.9,1132.0L1103.9,1131.1L1100.5,1127.3ZM1100.4,1127.4L1103.7,1131.2L1104.8,1130.3L1101.3,1126.6ZM1109.0,1133.3L1112.6,1137.0L1113.8,1135.8L1110.1,1132.2ZM1085.5,1106.0L1089.7,1109.0L1090.0,1108.5L1085.7,1105.7ZM1085.6,1105.8L1089.9,1108.6L1090.2,1108.1L1085.8,1105.5ZM1113.6,1118.5L1118.2,1120.8L1118.8,1119.5L1114.2,1117.3ZM1135.2,1119.9L1140.0,1121.5L1140.7,1119.4L1135.8,1117.9ZM1107.2,1106.5L1112.1,1107.6L1112.4,1106.5L1107.4,1105.5ZM1112.1,1107.6L1117.1,1108.8L1117.4,1107.4L1112.4,1106.5ZM1107.3,1105.7L1112.3,1106.7L1112.6,1105.5L1107.5,1104.6ZM1122.8,1106.1L1127.9,1106.8L1128.1,1105.1L1123.0,1104.5ZM1118.1,1101.9L1123.2,1102.2L1123.2,1100.7L1118.1,1100.5ZM1087.5,1099.2L1092.6,1099.1L1092.6,1098.5L1087.5,1098.8ZM1117.8,1093.8L1122.8,1093.2L1122.6,1091.6L1117.6,1092.5Z" fill="#dedeba"/>
<path d="M1063.3,1081.9L1060.3,1077.8L1059.6,1078.3L1062.7,1082.3ZM1040.5,1089.0L1035.6,1087.5L1035.2,1088.9L1040.2,1090.2ZM1037.9,1155.5L1035.1,1159.7L1037.0,1161.0L1039.8,1156.7ZM1042.7,1158.4L1040.1,1162.9L1042.2,1164.0L1044.6,1159.5ZM1110.4,1151.8L1113.2,1156.1L1115.0,1154.8L1112.1,1150.6ZM1121.8,1111.2L1126.7,1112.4L1127.1,1110.8L1122.2,1109.7ZM1133.1,1105.9L1138.2,1106.5L1138.4,1104.5L1133.3,1104.1Z" fill="#667ec6"/>
<path d="M1051.3,1065.3L1048.3,1061.2L1047.1,1062.1L1050.2,1066.2ZM1048.3,1061.2L1045.3,1057.0L1044.0,1058.1L1047.1,1062.1ZM1042.4,1052.9L1039.4,1048.8L1037.7,1050.0L1040.9,1054.0ZM1036.4,1044.6L1033.4,1040.5L1031.5,1041.9L1034.6,1045.9ZM1047.3,1062.0L1044.2,1057.9L1042.9,1059.0L1046.1,1062.9ZM1034.9,1045.7L1031.8,1041.7L1029.9,1043.1L1033.1,1047.1ZM1068.8,1090.6L1065.6,1086.6L1065.1,1086.9L1068.5,1090.8ZM1049.5,1066.7L1046.3,1062.8L1045.1,1063.7L1048.4,1067.6ZM1029.2,1050.5L1025.7,1046.9L1024.0,1048.5L1027.7,1052.1ZM1040.7,1068.1L1036.8,1064.7L1035.7,1066.0L1039.7,1069.3ZM1033.0,1061.3L1029.2,1057.9L1027.9,1059.5L1031.8,1062.8ZM1029.2,1057.9L1025.4,1054.6L1023.9,1056.2L1027.9,1059.5ZM1025.4,1054.6L1021.6,1051.2L1020.0,1053.0L1023.9,1056.2ZM1039.0,1070.1L1035.0,1066.9L1034.0,1068.3L1038.1,1071.3ZM1066.8,1092.6L1062.7,1089.5L1062.4,1090.0L1066.6,1092.9ZM1038.2,1071.1L1034.1,1068.1L1033.1,1069.4L1037.3,1072.4ZM1037.4,1072.2L1033.3,1069.2L1032.3,1070.6L1036.6,1073.5ZM1027.4,1068.9L1023.0,1066.2L1022.0,1067.9L1026.4,1070.5ZM1023.0,1066.2L1018.7,1063.4L1017.6,1065.3L1022.0,1067.9ZM1039.1,1079.0L1034.7,1076.6L1034.0,1077.9L1038.5,1080.3ZM1046.9,1086.3L1042.2,1084.2L1041.8,1085.4L1046.5,1087.3ZM1037.6,1082.1L1032.9,1080.0L1032.3,1081.4L1037.0,1083.4ZM1032.4,1081.2L1027.7,1079.2L1027.1,1080.8L1031.8,1082.7ZM1012.9,1075.0L1008.1,1073.2L1007.3,1075.4L1012.1,1077.1ZM1031.5,1083.6L1026.7,1081.9L1026.1,1083.5L1031.0,1085.1ZM1030.3,1087.3L1025.4,1086.0L1025.0,1087.7L1030.0,1088.8ZM1020.5,1084.7L1015.5,1083.4L1015.0,1085.4L1020.0,1086.5ZM1019.7,1087.8L1014.7,1086.7L1014.3,1088.8L1019.4,1089.6ZM1013.7,1093.5L1008.6,1093.0L1008.4,1095.2L1013.5,1095.6ZM1033.9,1096.6L1028.9,1096.3L1028.8,1097.8L1033.9,1098.0ZM1033.9,1098.9L1028.7,1098.9L1028.8,1100.4L1033.9,1100.3ZM1044.1,1099.9L1039.0,1100.0L1039.0,1101.2L1044.1,1101.0ZM1034.0,1103.6L1029.0,1104.0L1029.1,1105.6L1034.2,1104.9ZM1009.1,1109.7L1004.0,1110.5L1004.4,1112.8L1009.4,1111.9ZM1024.5,1108.8L1019.4,1109.7L1019.8,1111.5L1024.8,1110.5ZM1064.7,1101.9L1059.7,1102.9L1059.9,1103.4L1064.8,1102.2ZM1035.0,1109.2L1030.0,1110.4L1030.4,1111.9L1035.3,1110.6ZM1030.0,1110.4L1025.1,1111.6L1025.5,1113.3L1030.4,1111.9ZM1020.1,1112.8L1015.1,1114.0L1015.6,1116.0L1020.5,1114.6ZM1010.1,1115.2L1005.2,1116.3L1005.8,1118.6L1010.7,1117.3ZM1026.2,1115.8L1021.4,1117.3L1022.0,1119.1L1026.8,1117.4ZM1036.3,1113.7L1031.5,1115.4L1032.0,1116.8L1036.8,1115.0ZM1056.2,1108.5L1051.6,1110.6L1051.9,1111.4L1056.5,1109.1ZM1046.9,1112.7L1042.3,1114.8L1042.8,1115.9L1047.4,1113.6ZM1048.5,1115.8L1044.1,1118.4L1044.8,1119.4L1049.1,1116.7ZM1053.7,1114.4L1049.5,1117.3L1050.1,1118.1L1054.2,1115.1ZM1041.6,1123.9L1037.5,1126.8L1038.4,1128.1L1042.4,1125.0ZM1037.5,1126.8L1033.3,1129.8L1034.3,1131.2L1038.4,1128.1ZM1062.7,1109.5L1058.6,1112.5L1059.1,1113.1L1063.1,1109.9ZM1063.0,1109.8L1059.0,1113.0L1059.5,1113.6L1063.3,1110.3ZM1059.0,1113.0L1055.0,1116.2L1055.6,1116.9L1059.5,1113.6ZM1055.0,1116.2L1051.0,1119.4L1051.7,1120.2L1055.6,1116.9ZM1059.8,1113.9L1056.0,1117.3L1056.5,1118.0L1060.3,1114.5ZM1056.4,1117.9L1052.7,1121.4L1053.5,1122.1L1057.1,1118.5ZM1045.3,1128.4L1041.6,1131.9L1042.6,1133.0L1046.2,1129.3ZM1054.0,1122.6L1050.4,1126.3L1051.3,1127.1L1054.7,1123.3ZM1054.6,1123.2L1051.2,1127.0L1052.1,1127.8L1055.4,1123.9ZM1068.5,1108.2L1065.2,1112.1L1065.6,1112.5L1068.8,1108.5ZM1062.4,1116.4L1059.1,1120.4L1059.8,1120.9L1062.9,1116.8ZM1053.5,1128.9L1050.4,1133.0L1051.5,1133.8L1054.5,1129.7ZM1069.5,1109.0L1066.7,1113.2L1067.1,1113.5L1069.8,1109.2ZM1067.4,1119.5L1065.4,1124.2L1066.2,1124.5L1068.1,1119.7ZM1062.3,1133.9L1060.4,1138.7L1061.7,1139.2L1063.5,1134.4ZM1072.3,1110.4L1070.7,1115.2L1071.2,1115.4L1072.7,1110.5ZM1070.7,1115.2L1069.1,1120.1L1069.8,1120.3L1071.2,1115.4ZM1064.2,1134.6L1062.6,1139.5L1063.9,1139.9L1065.4,1135.0ZM1063.7,1139.8L1062.2,1144.7L1063.7,1145.1L1065.0,1140.2ZM1073.3,1110.7L1072.0,1115.6L1072.6,1115.7L1073.6,1110.8ZM1069.2,1130.7L1068.2,1135.7L1069.3,1135.9L1070.3,1130.9ZM1073.8,1116.0L1073.2,1121.0L1073.9,1121.1L1074.4,1116.0ZM1073.2,1121.0L1072.5,1126.1L1073.4,1126.2L1073.9,1121.1ZM1071.8,1131.2L1071.2,1136.2L1072.4,1136.4L1072.9,1131.3ZM1074.8,1110.9L1074.3,1116.0L1074.8,1116.1L1075.2,1111.0ZM1071.6,1141.4L1071.1,1146.5L1072.6,1146.6L1073.0,1141.5ZM1075.1,1111.0L1074.7,1116.1L1075.3,1116.1L1075.5,1111.0ZM1074.2,1136.5L1073.9,1141.6L1075.3,1141.6L1075.4,1136.5ZM1075.1,1141.6L1075.0,1146.7L1076.5,1146.8L1076.5,1141.6ZM1075.0,1146.7L1074.9,1151.9L1076.6,1151.9L1076.5,1146.8ZM1076.3,1146.8L1076.3,1151.9L1078.0,1151.8L1077.8,1146.7ZM1076.6,1116.1L1076.7,1121.2L1077.4,1121.2L1077.1,1116.1ZM1076.7,1121.2L1076.9,1126.3L1077.8,1126.3L1077.4,1121.2ZM1079.7,1141.5L1080.2,1146.6L1081.7,1146.4L1081.1,1141.3ZM1079.7,1131.2L1080.3,1136.3L1081.5,1136.1L1080.7,1131.1ZM1083.1,1141.0L1084.0,1146.1L1085.5,1145.8L1084.5,1140.8ZM1082.3,1130.8L1083.3,1135.8L1084.5,1135.6L1083.3,1130.6ZM1086.5,1140.3L1087.8,1145.3L1089.3,1144.9L1087.9,1139.9ZM1084.8,1130.2L1086.2,1135.1L1087.4,1134.7L1085.8,1129.9ZM1086.2,1135.1L1087.6,1140.0L1089.0,1139.6L1087.4,1134.7ZM1081.5,1115.2L1083.1,1120.0L1083.8,1119.8L1082.0,1115.0ZM1084.8,1124.8L1086.5,1129.7L1087.5,1129.3L1085.6,1124.5ZM1088.2,1134.5L1089.8,1139.3L1091.1,1138.8L1089.3,1134.1ZM1087.3,1129.4L1089.1,1134.1L1090.2,1133.7L1088.3,1129.0ZM1089.1,1134.1L1090.9,1138.9L1092.2,1138.4L1090.2,1133.7ZM1086.2,1124.3L1088.1,1129.0L1089.1,1128.6L1087.0,1124.0ZM1091.0,1133.4L1093.1,1138.0L1094.3,1137.5L1092.1,1132.9ZM1083.1,1114.5L1085.3,1119.1L1086.0,1118.8L1083.6,1114.3ZM1089.7,1128.3L1091.9,1132.9L1093.0,1132.4L1090.7,1127.9ZM1095.2,1137.0L1097.5,1141.6L1098.8,1140.9L1096.4,1136.4ZM1081.5,1109.6L1084.0,1114.1L1084.4,1113.8L1081.8,1109.4ZM1087.4,1118.0L1090.1,1122.3L1090.8,1121.8L1088.0,1117.6ZM1100.1,1134.1L1103.0,1138.3L1104.3,1137.4L1101.2,1133.3ZM1102.9,1132.0L1106.1,1135.9L1107.3,1134.9L1103.9,1131.1ZM1090.3,1115.8L1093.7,1119.7L1094.3,1119.1L1090.8,1115.4ZM1090.7,1115.5L1094.2,1119.2L1094.8,1118.6L1091.3,1115.0ZM1101.9,1126.0L1105.4,1129.7L1106.4,1128.7L1102.7,1125.1ZM1084.5,1107.3L1088.2,1110.7L1088.6,1110.3L1084.7,1107.0ZM1092.4,1113.7L1096.3,1117.1L1096.8,1116.4L1092.9,1113.2ZM1084.9,1106.8L1088.8,1110.0L1089.2,1109.6L1085.1,1106.5ZM1104.6,1123.0L1108.6,1126.3L1109.4,1125.2L1105.4,1122.1ZM1089.1,1109.7L1093.2,1112.8L1093.6,1112.3L1089.4,1109.3ZM1101.7,1118.4L1105.9,1121.4L1106.6,1120.4L1102.3,1117.5ZM1089.7,1109.0L1093.9,1111.9L1094.2,1111.3L1090.0,1108.5ZM1102.3,1117.7L1106.5,1120.6L1107.1,1119.6L1102.8,1116.8ZM1114.9,1126.4L1119.1,1129.3L1120.0,1127.9L1115.7,1125.1ZM1085.8,1105.5L1090.2,1108.2L1090.4,1107.7L1086.0,1105.2ZM1086.0,1105.2L1090.4,1107.8L1090.6,1107.3L1086.1,1104.9ZM1108.6,1117.1L1113.1,1119.6L1113.7,1118.3L1109.1,1116.1ZM1099.9,1111.6L1104.5,1113.9L1104.9,1113.0L1100.3,1110.8ZM1095.6,1108.8L1100.3,1111.0L1100.6,1110.2L1095.9,1108.1ZM1105.2,1112.3L1109.9,1114.4L1110.4,1113.3L1105.6,1111.4ZM1114.6,1116.4L1119.3,1118.5L1119.9,1117.1L1115.1,1115.2ZM1096.3,1107.1L1101.1,1108.9L1101.4,1108.1L1096.6,1106.5ZM1106.5,1109.1L1111.3,1110.6L1111.7,1109.4L1106.8,1108.1ZM1111.3,1110.6L1116.2,1112.1L1116.6,1110.8L1111.7,1109.4ZM1121.1,1113.6L1126.0,1115.2L1126.4,1113.5L1121.5,1112.2ZM1102.2,1105.4L1107.2,1106.5L1107.4,1105.5L1102.3,1104.5ZM1117.1,1108.8L1122.1,1109.9L1122.4,1108.4L1117.4,1107.4ZM1102.3,1104.7L1107.3,1105.7L1107.5,1104.6L1102.5,1103.8ZM1117.4,1107.6L1122.4,1108.6L1122.6,1107.1L1117.6,1106.3ZM1097.4,1103.1L1102.5,1104.0L1102.6,1103.1L1097.5,1102.4ZM1107.5,1104.8L1112.5,1105.7L1112.7,1104.5L1107.6,1103.8ZM1087.4,1101.1L1092.4,1101.8L1092.5,1101.3L1087.4,1100.7ZM1107.6,1103.9L1112.7,1104.7L1112.8,1103.5L1107.8,1102.9ZM1102.8,1101.0L1107.9,1101.3L1107.9,1100.3L1102.8,1100.2ZM1087.5,1099.5L1092.6,1099.5L1092.6,1099.0L1087.5,1099.2ZM1092.6,1098.6L1097.7,1098.4L1097.6,1097.7L1092.5,1098.1ZM1107.8,1097.0L1112.9,1096.6L1112.8,1095.3L1107.7,1095.9ZM1128.2,1095.3L1133.3,1094.9L1133.1,1093.1L1128.0,1093.6ZM1087.4,1098.3L1092.5,1097.7L1092.4,1097.2L1087.4,1097.9ZM1092.5,1097.7L1097.6,1097.2L1097.5,1096.5L1092.4,1097.2ZM1112.7,1094.5L1117.8,1093.8L1117.6,1092.5L1112.5,1093.3ZM1107.5,1094.4L1112.6,1093.5L1112.3,1092.3L1107.3,1093.3Z" fill="#ead2a2"/>
<path d="M1059.7,1078.2L1056.6,1074.1L1055.8,1074.8L1059.0,1078.7ZM1061.0,1083.8L1057.5,1080.1L1056.8,1080.7L1060.5,1084.3ZM1047.7,1084.8L1043.1,1082.4L1042.6,1083.5L1047.2,1085.7ZM1049.9,1093.3L1044.9,1092.1L1044.7,1093.2L1049.7,1094.2ZM1049.7,1094.0L1044.7,1093.0L1044.5,1094.0L1049.6,1094.9ZM1054.5,1096.2L1049.5,1095.5L1049.4,1096.3L1054.4,1096.9ZM1059.5,1097.5L1054.4,1096.8L1054.4,1097.5L1059.5,1098.0ZM1044.3,1095.6L1039.2,1095.0L1039.1,1096.2L1044.2,1096.6ZM1039.0,1100.0L1033.9,1100.1L1033.9,1101.5L1039.0,1101.2ZM1054.4,1101.6L1049.3,1102.1L1049.4,1102.9L1054.5,1102.3ZM1054.4,1102.2L1049.4,1102.8L1049.5,1103.7L1054.5,1102.9ZM1049.4,1102.8L1044.3,1103.4L1044.5,1104.5L1049.5,1103.7ZM1044.6,1105.2L1039.5,1106.1L1039.8,1107.3L1044.8,1106.2ZM1046.6,1111.9L1041.9,1113.9L1042.3,1115.0L1047.0,1112.8ZM1019.7,1126.9L1015.1,1129.1L1016.1,1131.1L1020.6,1128.7ZM1022.2,1131.4L1017.8,1134.0L1018.9,1135.9L1023.2,1133.1ZM1019.7,1137.1L1015.5,1140.0L1016.8,1141.9L1021.0,1139.0ZM1023.0,1141.6L1019.0,1144.8L1020.5,1146.7L1024.4,1143.3ZM1047.6,1160.9L1045.5,1165.6L1047.6,1166.5L1049.6,1161.8ZM1061.1,1160.3L1059.8,1165.2L1062.0,1165.7L1063.1,1160.7ZM1067.7,1151.2L1066.9,1156.3L1068.8,1156.5L1069.4,1151.5ZM1067.8,1161.5L1067.1,1166.6L1069.3,1166.9L1069.8,1161.8ZM1081.4,1146.4L1082.0,1151.5L1083.7,1151.3L1083.0,1146.2ZM1083.8,1166.7L1084.4,1171.8L1086.7,1171.5L1086.0,1166.5ZM1083.5,1151.3L1084.2,1156.4L1086.0,1156.1L1085.1,1151.1ZM1088.8,1155.5L1090.0,1160.5L1092.0,1160.0L1090.6,1155.1ZM1097.8,1152.7L1099.8,1157.4L1101.6,1156.6L1099.6,1151.9ZM1113.2,1149.8L1116.2,1153.9L1118.0,1152.6L1114.8,1148.6ZM1138.7,1125.0L1143.4,1126.9L1144.3,1124.7L1139.5,1122.9ZM1137.4,1111.6L1142.4,1112.6L1142.8,1110.4L1137.8,1109.6Z" fill="#668ac6"/>
<path d="M1053.5,1070.1L1050.4,1066.0L1049.3,1066.9L1052.6,1070.8ZM1057.5,1080.1L1053.9,1076.4L1053.2,1077.1L1056.8,1080.7ZM1055.9,1081.7L1052.1,1078.3L1051.4,1079.1L1055.4,1082.4ZM1054.5,1083.4L1050.5,1080.3L1049.8,1081.2L1054.0,1084.1ZM1049.4,1081.8L1045.2,1078.9L1044.5,1079.9L1048.9,1082.6ZM1060.0,1095.2L1055.0,1093.9L1054.8,1094.6L1059.8,1095.8ZM1055.0,1093.9L1050.1,1092.6L1049.9,1093.5L1054.8,1094.6ZM1033.9,1101.2L1028.8,1101.5L1028.9,1103.0L1034.0,1102.6ZM1060.4,1105.1L1055.5,1106.8L1055.8,1107.5L1060.5,1105.6ZM1050.5,1151.0L1048.2,1155.6L1050.0,1156.4L1052.2,1151.8ZM1056.3,1153.5L1054.5,1158.3L1056.4,1158.9L1058.0,1154.1ZM1052.8,1163.1L1051.0,1167.9L1053.2,1168.7L1054.8,1163.8ZM1069.1,1151.4L1068.5,1156.5L1070.3,1156.7L1070.8,1151.6ZM1092.9,1165.0L1094.2,1170.0L1096.5,1169.4L1095.0,1164.5ZM1109.4,1139.9L1112.6,1143.8L1114.1,1142.6L1110.7,1138.7ZM1119.7,1144.3L1123.3,1147.9L1124.8,1146.4L1121.2,1142.8ZM1123.2,1140.5L1127.1,1143.9L1128.5,1142.2L1124.6,1139.0ZM1129.5,1141.0L1133.5,1144.2L1134.9,1142.3L1130.8,1139.3ZM1123.3,1132.2L1127.5,1135.1L1128.6,1133.4L1124.3,1130.7ZM1141.1,1118.0L1146.0,1119.4L1146.6,1117.1L1141.7,1115.9ZM1132.4,1110.6L1137.4,1111.6L1137.8,1109.6L1132.7,1108.8ZM1138.5,1096.2L1143.6,1096.0L1143.4,1093.8L1138.4,1094.2ZM1143.1,1090.4L1148.1,1089.7L1147.8,1087.4L1142.7,1088.2Z" fill="#8aaed2"/>
<path d="M1065.6,1086.6L1062.3,1082.6L1061.8,1083.1L1065.1,1086.9ZM1050.5,1080.3L1046.4,1077.3L1045.7,1078.2L1049.8,1081.2ZM1044.1,1097.3L1039.0,1097.0L1039.0,1098.2L1044.1,1098.4ZM1008.3,1098.6L1003.2,1098.5L1003.2,1100.9L1008.3,1100.8ZM1028.1,1139.8L1024.2,1143.1L1025.6,1144.7L1029.4,1141.3ZM1045.9,1160.1L1043.7,1164.7L1045.8,1165.7L1047.9,1161.1ZM1062.6,1139.5L1061.0,1144.3L1062.5,1144.8L1063.9,1139.9ZM1067.1,1140.7L1066.0,1145.7L1067.5,1146.0L1068.4,1141.0ZM1106.2,1148.4L1108.9,1152.7L1110.6,1151.6L1107.8,1147.4Z" fill="#c6c6c6"/>
<path d="M1036.6,1050.8L1033.4,1046.9L1031.7,1048.3L1035.1,1052.2ZM1022.1,1067.6L1017.7,1065.0L1016.6,1067.0L1021.1,1069.4ZM1024.2,1091.7L1019.2,1090.9L1018.9,1092.7L1024.0,1093.3ZM1013.6,1095.2L1008.5,1094.9L1008.4,1097.1L1013.5,1097.3ZM1014.7,1112.3L1009.7,1113.3L1010.2,1115.5L1015.2,1114.3ZM1025.8,1114.4L1020.9,1115.8L1021.5,1117.6L1026.3,1116.0ZM1086.9,1118.3L1089.5,1122.7L1090.2,1122.2L1087.5,1117.9ZM1084.7,1113.6L1087.4,1118.0L1088.0,1117.6L1085.2,1113.3Z" fill="#de5a42"/>
<path d="M1068.5,1090.8L1065.2,1086.9L1064.8,1087.2L1068.2,1091.0ZM1057.3,1088.4L1052.9,1085.8L1052.5,1086.6L1057.0,1089.1ZM1065.4,1095.1L1060.7,1093.1L1060.5,1093.6L1065.3,1095.4ZM1033.5,1120.2L1028.9,1122.4L1029.7,1123.9L1034.2,1121.5ZM1066.1,1105.4L1061.7,1108.0L1062.0,1108.4L1066.3,1105.7ZM1064.9,1111.8L1061.4,1115.6L1062.0,1116.1L1065.3,1112.2ZM1102.7,1117.0L1107.0,1119.7L1107.7,1118.7L1103.3,1116.1ZM1114.1,1117.5L1118.7,1119.7L1119.4,1118.3L1114.7,1116.2Z" fill="#d2dec6"/>
<path d="M1054.6,1075.8L1051.2,1072.0L1050.3,1072.8L1053.8,1076.5ZM1043.6,1081.5L1039.1,1079.0L1038.5,1080.3L1043.0,1082.6ZM1078.2,1167.2L1078.4,1172.3L1080.8,1172.1L1080.5,1167.0ZM1091.1,1165.5L1092.2,1170.5L1094.6,1169.9L1093.3,1165.0ZM1121.4,1134.8L1125.4,1137.9L1126.7,1136.3L1122.5,1133.3ZM1125.4,1137.9L1129.5,1141.0L1130.8,1139.3L1126.7,1136.3ZM1120.2,1116.1L1125.0,1117.9L1125.6,1116.3L1120.8,1114.6ZM1133.0,1091.8L1138.0,1091.1L1137.7,1089.1L1132.7,1089.9ZM1138.0,1091.1L1143.1,1090.4L1142.7,1088.2L1137.7,1089.1Z" fill="#4266ae"/>
<path d="M1040.9,1060.7L1037.5,1056.9L1036.1,1058.1L1039.6,1061.8ZM1029.5,1075.3L1025.0,1073.0L1024.2,1074.7L1028.8,1076.9ZM1027.7,1079.2L1023.0,1077.3L1022.3,1079.0L1027.1,1080.8ZM1013.4,1100.4L1008.3,1100.5L1008.4,1102.7L1013.5,1102.4ZM1023.7,1101.7L1018.6,1101.9L1018.7,1103.8L1023.8,1103.4ZM1023.9,1104.5L1018.8,1105.0L1019.0,1106.9L1024.1,1106.2ZM1024.7,1110.2L1019.7,1111.3L1020.2,1113.1L1025.1,1111.9ZM1009.7,1113.3L1004.7,1114.4L1005.3,1116.7L1010.2,1115.5ZM1051.9,1111.2L1047.3,1113.5L1047.8,1114.4L1052.3,1112.0ZM1065.6,1112.4L1062.4,1116.4L1062.9,1116.8L1066.0,1112.8ZM1065.9,1112.7L1062.8,1116.8L1063.4,1117.2L1066.4,1113.0ZM1068.6,1114.4L1066.4,1119.0L1067.0,1119.3L1069.1,1114.6ZM1071.5,1110.1L1069.4,1114.8L1070.0,1115.0L1071.8,1110.2ZM1065.0,1129.5L1063.3,1134.3L1064.4,1134.7L1066.0,1129.8ZM1066.7,1130.0L1065.2,1134.9L1066.4,1135.3L1067.7,1130.3ZM1070.3,1125.7L1069.2,1130.7L1070.3,1130.9L1071.2,1125.9ZM1074.3,1116.0L1073.7,1121.1L1074.5,1121.2L1074.8,1116.1ZM1075.4,1126.3L1075.3,1131.4L1076.4,1131.4L1076.3,1126.3ZM1079.1,1126.1L1079.7,1131.2L1080.7,1131.1L1080.0,1126.0ZM1085.5,1124.6L1087.3,1129.4L1088.3,1129.0L1086.3,1124.3ZM1081.2,1109.7L1083.5,1114.3L1084.0,1114.0L1081.6,1109.6ZM1095.8,1117.6L1099.5,1121.1L1100.2,1120.3L1096.3,1117.0ZM1088.5,1110.4L1092.4,1113.7L1092.9,1113.2L1088.9,1110.0ZM1102.8,1098.1L1107.9,1097.8L1107.8,1096.8L1102.7,1097.2Z" fill="#de725a"/>
<path d="M1035.2,1059.0L1031.5,1055.4L1030.1,1056.9L1033.9,1060.4ZM1030.0,1065.0L1025.9,1061.9L1024.7,1063.6L1028.9,1066.5ZM1019.7,1061.9L1015.5,1059.1L1014.2,1061.1L1018.5,1063.8ZM1039.0,1102.0L1033.9,1102.4L1034.1,1103.8L1039.1,1103.3ZM1020.5,1114.3L1015.5,1115.6L1016.1,1117.6L1021.0,1116.1ZM1058.8,1126.4L1056.0,1130.7L1057.0,1131.3L1059.7,1126.9ZM1062.2,1122.5L1059.5,1126.8L1060.4,1127.4L1062.9,1122.9ZM1060.4,1138.7L1058.6,1143.4L1060.0,1144.0L1061.7,1139.2ZM1066.8,1124.7L1065.0,1129.5L1066.0,1129.8L1067.6,1125.0ZM1083.3,1135.8L1084.3,1140.8L1085.6,1140.5L1084.5,1135.6ZM1122.7,1123.1L1127.3,1125.5L1128.1,1123.8L1123.5,1121.6Z" fill="#eadea2"/>
<path d="M1060.2,1084.6L1056.4,1081.1L1055.8,1081.8L1059.7,1085.2ZM1044.7,1093.0L1039.7,1092.0L1039.5,1093.1L1044.5,1094.0ZM1054.4,1096.8L1049.4,1096.2L1049.3,1097.1L1054.4,1097.5ZM1027.0,1138.5L1023.0,1141.6L1024.4,1143.3L1028.3,1140.0ZM1035.4,1147.1L1032.0,1151.0L1033.7,1152.4L1036.9,1148.4ZM1049.4,1138.6L1046.5,1142.8L1048.0,1143.7L1050.7,1139.4ZM1045.0,1147.9L1042.2,1152.2L1044.0,1153.3L1046.6,1148.9ZM1050.2,1145.1L1047.7,1149.5L1049.3,1150.4L1051.7,1145.9ZM1060.8,1154.9L1059.4,1159.8L1061.4,1160.4L1062.6,1155.4ZM1081.1,1156.8L1081.5,1161.8L1083.5,1161.6L1082.9,1156.6ZM1094.9,1159.2L1096.5,1164.0L1098.6,1163.3L1096.9,1158.5ZM1093.9,1143.2L1095.9,1147.9L1097.5,1147.3L1095.4,1142.6ZM1102.9,1156.0L1105.1,1160.6L1107.1,1159.6L1104.7,1155.1ZM1104.1,1137.5L1107.1,1141.6L1108.5,1140.6L1105.3,1136.6ZM1118.5,1145.5L1121.9,1149.2L1123.5,1147.7L1119.9,1144.1ZM1131.8,1127.8L1136.4,1130.1L1137.4,1128.1L1132.7,1125.9ZM1139.4,1123.3L1144.2,1125.1L1145.0,1122.8L1140.1,1121.2ZM1140.0,1121.5L1144.8,1123.2L1145.6,1120.9L1140.7,1119.4ZM1122.6,1107.4L1127.6,1108.2L1127.9,1106.5L1122.8,1105.8ZM1133.4,1096.5L1138.5,1096.2L1138.4,1094.2L1133.3,1094.6Z" fill="#728ac6"/>
<path d="M1062.7,1089.5L1058.6,1086.5L1058.2,1087.0L1062.4,1090.0ZM1066.3,1093.4L1061.9,1090.7L1061.7,1091.1L1066.1,1093.7ZM1049.4,1096.2L1044.3,1095.6L1044.2,1096.6L1049.3,1097.1ZM1064.5,1099.3L1059.4,1099.3L1059.4,1099.8L1064.5,1099.7ZM1035.9,1112.6L1031.1,1114.2L1031.6,1115.6L1036.4,1113.9ZM1019.0,1125.3L1014.3,1127.4L1015.3,1129.4L1019.9,1127.2ZM1073.2,1156.9L1072.9,1162.0L1075.0,1162.1L1075.1,1157.0ZM1113.8,1142.8L1117.2,1146.6L1118.7,1145.2L1115.2,1141.5Z" fill="#425aae"/>
<path d="M1046.4,1077.3L1042.3,1074.2L1041.5,1075.3L1045.7,1078.2ZM1047.3,1085.6L1042.7,1083.3L1042.2,1084.4L1046.8,1086.5ZM1013.6,1073.3L1008.9,1071.3L1008.0,1073.5L1012.8,1075.4ZM1065.3,1095.3L1060.5,1093.5L1060.3,1094.0L1065.1,1095.7ZM1054.6,1095.7L1049.6,1094.8L1049.5,1095.6L1054.5,1096.4ZM1018.8,1105.0L1013.7,1105.5L1013.9,1107.5L1019.0,1106.9ZM1019.2,1108.2L1014.1,1108.9L1014.5,1110.9L1019.5,1110.0ZM1047.3,1113.5L1042.7,1115.7L1043.2,1116.8L1047.8,1114.4ZM1050.5,1118.7L1046.4,1121.8L1047.1,1122.7L1051.1,1119.5ZM1063.3,1110.2L1059.4,1113.5L1059.8,1114.0L1063.6,1110.6ZM1051.6,1120.1L1047.7,1123.3L1048.4,1124.3L1052.2,1120.8ZM1052.7,1128.3L1049.5,1132.3L1050.6,1133.1L1053.7,1129.1ZM1059.5,1132.7L1057.3,1137.3L1058.5,1137.9L1060.6,1133.2ZM1065.9,1129.8L1064.2,1134.6L1065.4,1135.0L1066.9,1130.1ZM1083.1,1120.0L1084.8,1124.8L1085.6,1124.5L1083.8,1119.8ZM1092.0,1127.1L1094.6,1131.5L1095.7,1130.9L1092.9,1126.6ZM1092.8,1126.7L1095.5,1131.0L1096.5,1130.3L1093.7,1126.1ZM1110.0,1124.4L1114.1,1127.5L1115.0,1126.2L1110.8,1123.3ZM1094.2,1111.4L1098.5,1114.2L1098.9,1113.4L1094.6,1110.8ZM1086.5,1104.1L1091.2,1106.2L1091.4,1105.7L1086.7,1103.8ZM1087.1,1102.6L1092.0,1104.0L1092.1,1103.5L1087.2,1102.3Z" fill="#eac68a"/>
<path d="M1030.9,1072.8L1026.5,1070.2L1025.6,1071.9L1030.1,1074.3ZM1017.0,1078.5L1012.2,1076.8L1011.5,1078.9L1016.4,1080.4ZM1018.6,1101.9L1013.5,1102.1L1013.6,1104.1L1018.7,1103.8ZM1087.9,1117.6L1090.7,1121.9L1091.5,1121.4L1088.5,1117.2ZM1097.6,1115.4L1101.7,1118.4L1102.3,1117.5L1098.1,1114.7ZM1097.5,1096.6L1102.6,1095.9L1102.5,1095.0L1097.4,1095.9Z" fill="#ea7e5a"/>
<path d="M1025.7,1071.6L1021.3,1069.1L1020.3,1070.9L1024.9,1073.3ZM1051.0,1089.8L1046.2,1088.0L1045.9,1088.9L1050.7,1090.6ZM1029.0,1104.0L1023.9,1104.5L1024.1,1106.2L1029.1,1105.6ZM1048.1,1115.0L1043.6,1117.5L1044.2,1118.5L1048.6,1115.9ZM1056.0,1117.3L1052.1,1120.7L1052.8,1121.5L1056.5,1118.0ZM1068.2,1135.7L1067.1,1140.7L1068.4,1141.0L1069.3,1135.9ZM1083.1,1130.6L1084.3,1135.6L1085.4,1135.3L1084.1,1130.4ZM1091.6,1114.6L1095.3,1118.2L1095.9,1117.5L1092.1,1114.1ZM1097.2,1116.0L1101.2,1119.1L1101.8,1118.3L1097.7,1115.3ZM1117.6,1122.0L1122.1,1124.4L1122.8,1122.9L1118.3,1120.6ZM1109.9,1114.4L1114.6,1116.4L1115.1,1115.2L1110.4,1113.3ZM1087.1,1102.3L1092.1,1103.6L1092.2,1103.1L1087.2,1102.0ZM1097.7,1100.7L1102.8,1101.0L1102.8,1100.2L1097.7,1100.0ZM1087.5,1098.9L1092.6,1098.6L1092.5,1098.1L1087.5,1098.5ZM1107.6,1095.2L1112.7,1094.5L1112.5,1093.3L1107.5,1094.2Z" fill="#ead296"/>
<path d="M1042.7,1083.3L1038.1,1081.1L1037.5,1082.3L1042.2,1084.4ZM1059.7,1096.6L1054.6,1095.7L1054.5,1096.4L1059.6,1097.1ZM1035.3,1110.4L1030.3,1111.7L1030.8,1113.2L1035.7,1111.7ZM1060.3,1127.3L1057.8,1131.7L1058.8,1132.3L1061.2,1127.8ZM1103.7,1115.5L1108.1,1118.0L1108.7,1117.0L1104.2,1114.5Z" fill="#d2deba"/>
<path d="M1028.3,1077.9L1023.6,1075.8L1022.9,1077.5L1027.6,1079.5Z" fill="#d23636"/>
<path d="M1019.0,1073.7L1014.3,1071.6L1013.4,1073.6L1018.2,1075.6ZM1071.2,1115.4L1069.7,1120.3L1070.4,1120.5L1071.7,1115.5ZM1085.5,1113.1L1088.4,1117.3L1089.0,1116.9L1085.9,1112.8Z" fill="#d2362a"/>
<path d="M1041.8,1085.2L1037.1,1083.2L1036.6,1084.5L1041.4,1086.3ZM1045.9,1110.2L1041.1,1112.0L1041.5,1113.1L1046.3,1111.2ZM1015.1,1129.1L1010.5,1131.3L1011.6,1133.5L1016.1,1131.1ZM1048.2,1155.6L1045.9,1160.1L1047.9,1161.1L1050.0,1156.4ZM1090.4,1155.2L1091.6,1160.1L1093.6,1159.6L1092.2,1154.7ZM1119.1,1151.7L1122.4,1155.6L1124.2,1154.1L1120.8,1150.2ZM1114.6,1134.9L1118.3,1138.4L1119.6,1137.0L1115.7,1133.6Z" fill="#96bad2"/>
<path d="M1016.5,1080.1L1011.6,1078.5L1011.0,1080.6L1015.9,1082.1ZM1052.2,1111.9L1047.7,1114.2L1048.2,1115.2L1052.6,1112.7ZM1089.5,1122.7L1092.0,1127.1L1092.9,1126.6L1090.2,1122.2Z" fill="#d24236"/>
<path d="M1015.1,1085.1L1010.1,1083.9L1009.7,1086.1L1014.7,1087.1ZM1024.0,1106.0L1019.0,1106.6L1019.2,1108.4L1024.3,1107.7Z" fill="#d24e42"/>
<path d="M1059.7,1096.1L1054.7,1095.1L1054.6,1095.8L1059.6,1096.6ZM1091.9,1154.7L1093.3,1159.6L1095.2,1159.1L1093.7,1154.2ZM1094.7,1164.6L1096.1,1169.5L1098.4,1168.8L1096.8,1163.9ZM1120.6,1126.9L1125.0,1129.6L1125.9,1128.0L1121.5,1125.4ZM1143.5,1094.1L1148.6,1093.7L1148.3,1091.3L1143.3,1091.9Z" fill="#4e72ae"/>
<path d="M1054.5,1102.8L1049.5,1103.5L1049.6,1104.4L1054.6,1103.5ZM1043.4,1133.7L1039.9,1137.4L1041.1,1138.6L1044.5,1134.7ZM1039.9,1137.4L1036.3,1141.1L1037.7,1142.4L1041.1,1138.6ZM1067.1,1166.6L1066.5,1171.7L1068.8,1171.9L1069.3,1166.9ZM1086.6,1161.2L1087.5,1166.2L1089.6,1165.8L1088.6,1160.8ZM1089.3,1165.9L1090.3,1170.9L1092.6,1170.4L1091.5,1165.4ZM1103.5,1150.0L1106.0,1154.4L1107.7,1153.4L1105.1,1149.0ZM1113.6,1136.0L1117.3,1139.5L1118.5,1138.1L1114.8,1134.7Z" fill="#4e66ae"/>
<path d="M1025.1,1111.6L1020.1,1112.8L1020.5,1114.6L1025.5,1113.3Z" fill="#de4e42"/>
<path d="M1031.5,1115.4L1026.7,1117.1L1027.3,1118.7L1032.0,1116.8Z" fill="#d24e36"/>
<path d="M1057.3,1110.6L1052.9,1113.2L1053.4,1113.9L1057.7,1111.2ZM1059.4,1113.5L1055.5,1116.8L1056.0,1117.4L1059.8,1114.0ZM1087.5,1099.8L1092.6,1100.0L1092.6,1099.5L1087.5,1099.5Z" fill="#ea9666"/>
<path d="M1018.7,1135.6L1014.4,1138.3L1015.7,1140.3L1019.9,1137.4ZM1045.2,1154.0L1042.7,1158.4L1044.6,1159.5L1047.0,1154.9ZM1100.7,1151.4L1102.9,1156.0L1104.7,1155.1L1102.4,1150.6ZM1129.8,1119.7L1134.6,1121.5L1135.3,1119.6L1130.4,1117.9Z" fill="#5a72ba"/>
<path d="M1054.6,1115.6L1050.5,1118.7L1051.1,1119.5L1055.1,1116.3ZM1069.0,1108.6L1065.9,1112.7L1066.4,1113.0L1069.3,1108.9ZM1075.8,1111.0L1075.6,1116.1L1076.2,1116.1L1076.1,1111.0Z" fill="#de5a4e"/>
<path d="M1046.3,1148.7L1043.7,1153.1L1045.5,1154.1L1047.9,1149.7ZM1053.3,1152.3L1051.3,1157.0L1053.2,1157.8L1055.1,1153.0ZM1136.6,1114.9L1141.6,1116.2L1142.1,1114.0L1137.1,1112.9Z" fill="#365aa2"/>
<path d="M1073.2,1126.2L1072.7,1131.3L1073.7,1131.4L1074.1,1126.3ZM1075.5,1121.2L1075.4,1126.3L1076.3,1126.3L1076.2,1121.2ZM1082.7,1114.7L1084.8,1119.4L1085.4,1119.1L1083.2,1114.5Z" fill="#de724e"/>
<path d="M1127.1,1143.9L1131.0,1147.2L1132.5,1145.4L1128.5,1142.2Z" fill="#667eba"/>
<path d="M1141.6,1116.2L1146.6,1117.5L1147.1,1115.1L1142.1,1114.0Z" fill="#364ea2"/>
<path d="M1070,1093 l3,-4 l2,3 l3,-2 l-1,5 l2,3 l-2,4 l3,2 l-1,3 l4,2 l-2,4 l-5,-1 l-2,4 l-3,-3 l-3,1 l0,-4 l-4,-2 l3,-3 l-3,-3 l3,-2 z M1080,1102 l5,-3 l6,-1 l1,3 l-4,4 l-3,3 l-4,-2 z" fill="#d8d8d8" stroke="#808080" stroke-width="0.9" transform="translate(1076,1099.5) scale(0.8) translate(-1076,-1099.5)"/>
<path d="M1089.7,1096.3A14.1,14.1 0 0 0 1089.2,1094.7M1094.7,1095.2A19.2,19.2 0 0 0 1094.0,1092.9M1089.2,1094.7L1094.0,1092.9M1099.6,1094.0A24.3,24.3 0 0 0 1097.8,1088.9M1091.6,1093.8A16.6,16.6 0 0 0 1090.9,1092.2M1097.8,1088.9L1090.9,1092.2M1104.6,1092.9A29.4,29.4 0 0 0 1103.2,1088.5M1109.6,1091.7A34.5,34.5 0 0 0 1108.0,1086.6M1103.2,1088.5L1108.0,1086.6M1105.6,1087.5A31.9,31.9 0 0 0 1103.9,1084.0M1114.6,1090.6A39.6,39.6 0 0 0 1110.6,1080.3M1103.9,1084.0L1110.6,1080.3M1094.4,1090.5A20.4,20.4 0 0 0 1092.5,1087.5M1107.3,1082.2A35.8,35.8 0 0 0 1104.9,1078.5M1092.5,1087.5L1104.9,1078.5M1119.6,1089.4A44.7,44.7 0 0 0 1118.3,1084.9M1124.5,1088.3A49.8,49.8 0 0 0 1123.1,1083.3M1118.3,1084.9L1123.1,1083.3M1129.5,1087.1A54.9,54.9 0 0 0 1125.8,1076.3M1134.5,1086.0A60.0,60.0 0 0 0 1130.4,1074.1M1125.8,1076.3L1130.4,1074.1M1120.7,1084.1A47.3,47.3 0 0 0 1115.6,1073.8M1128.1,1075.2A57.5,57.5 0 0 0 1124.2,1068.2M1115.6,1073.8L1124.2,1068.2M1139.5,1084.8A65.1,65.1 0 0 0 1136.0,1074.0M1144.4,1083.7A70.2,70.2 0 0 0 1140.7,1072.1M1136.0,1074.0L1140.7,1072.1M1119.9,1071.0A52.4,52.4 0 0 0 1114.9,1064.5M1138.3,1073.1A67.7,67.7 0 0 0 1126.3,1054.2M1114.9,1064.5L1126.3,1054.2M1098.7,1083.0A28.1,28.1 0 0 0 1093.3,1077.4M1120.6,1059.3A60.0,60.0 0 0 0 1113.0,1052.2M1093.3,1077.4L1113.0,1052.2" fill="none" stroke="#6a6a6a" stroke-width="0.6"/>
<text x="0" y="0" font-size="4.3" fill="#333" font-family="Liberation Sans, sans-serif" transform="translate(1048.5,1037.0) rotate(-29)">pTelM1</text>
<text x="0" y="0" font-size="4.3" fill="#333" font-family="Liberation Sans, sans-serif" transform="translate(1050.6,1041.6) rotate(-29)">pTelF3</text>
<text x="0" y="0" font-size="4.3" fill="#333" font-family="Liberation Sans, sans-serif" transform="translate(1052.7,1046.2) rotate(-29)">pTelM3</text>
<text x="0" y="0" font-size="4.3" fill="#333" font-family="Liberation Sans, sans-serif" transform="translate(1054.8,1050.8) rotate(-29)">pTelF2</text>
<text x="0" y="0" font-size="4.3" fill="#333" font-family="Liberation Sans, sans-serif" transform="translate(1056.9,1055.4) rotate(-29)">pTelF1</text>
<text x="0" y="0" font-size="4.3" fill="#333" font-family="Liberation Sans, sans-serif" transform="translate(1059.0,1060.0) rotate(-29)">pTelM2</text>
<text x="0" y="0" font-size="4.3" fill="#333" font-family="Liberation Sans, sans-serif" transform="translate(1061.0,1064.6) rotate(-29)">pAnaM3</text>
<text x="0" y="0" font-size="4.3" fill="#333" font-family="Liberation Sans, sans-serif" transform="translate(1063.1,1069.2) rotate(-29)">pAnaM2</text>
<text x="0" y="0" font-size="4.3" fill="#333" font-family="Liberation Sans, sans-serif" transform="translate(1065.2,1073.8) rotate(-29)">pAnaM1</text>
<text x="0" y="0" font-size="4.3" fill="#333" font-family="Liberation Sans, sans-serif" transform="translate(1067.3,1078.4) rotate(-29)">pAnaF3</text>
<text x="0" y="0" font-size="4.3" fill="#333" font-family="Liberation Sans, sans-serif" transform="translate(1069.4,1083.0) rotate(-29)">pAnaF1</text>
<text x="0" y="0" font-size="4.3" fill="#333" font-family="Liberation Sans, sans-serif" transform="translate(1071.5,1087.6) rotate(-29)">pAnaF2</text>
<defs><linearGradient id="hg" x1="0" y1="0" x2="0" y2="1"><stop offset="0" stop-color="#cd2828"/><stop offset="0.3" stop-color="#f0b080"/><stop offset="0.5" stop-color="#eee6b4"/><stop offset="0.7" stop-color="#a0b9d7"/><stop offset="1" stop-color="#2b4896"/></linearGradient></defs>
<rect x="1158.5" y="1029.8" width="5.3" height="41.2" fill="url(#hg)"/>
<text x="1165" y="1031.5" font-size="3.4" fill="#666" font-family="Liberation Sans, sans-serif">3.00</text>
<text x="1165" y="1038.2" font-size="3.4" fill="#666" font-family="Liberation Sans, sans-serif">2.00</text>
<text x="1165" y="1044.9" font-size="3.4" fill="#666" font-family="Liberation Sans, sans-serif">1.00</text>
<text x="1165" y="1051.6" font-size="3.4" fill="#666" font-family="Liberation Sans, sans-serif">0.00</text>
<text x="1165" y="1058.3" font-size="3.4" fill="#666" font-family="Liberation Sans, sans-serif">-1.00</text>
<text x="1165" y="1065.0" font-size="3.4" fill="#666" font-family="Liberation Sans, sans-serif">-2.00</text>
<text x="1165" y="1071.7" font-size="3.4" fill="#666" font-family="Liberation Sans, sans-serif">-3.00</text>
<path d="M808,1226 V1251.2 H842.2" stroke="#333" stroke-width="0.6" fill="none"/>
<path d="M806.8,1226.0h1.2M806.8,1232.3h1.2M806.8,1238.6h1.2M806.8,1244.9h1.2M806.8,1251.2h1.2" stroke="#333" stroke-width="0.4"/>
<rect x="812.7" y="1244.9" width="2.7" height="6.3" fill="#151515"/>
<rect x="816.3" y="1234.6" width="3.4" height="16.6" fill="#b3171c"/>
<rect x="822.9" y="1244.9" width="2.7" height="6.3" fill="#151515"/>
<rect x="826.5" y="1242.7" width="3.5" height="8.5" fill="#b3171c"/>
<rect x="833.7" y="1244.9" width="2.7" height="6.3" fill="#151515"/>
<rect x="837.3" y="1238.9" width="3.3" height="12.3" fill="#b3171c"/>
<path d="M814.3,1232.6h5" stroke="#777" stroke-width="0.4"/>
<path d="M824.5,1240.7h5" stroke="#777" stroke-width="0.4"/>
<path d="M835.3,1236.9h5" stroke="#777" stroke-width="0.4"/>
<text x="827.7" y="1224.8" font-size="3" font-weight="bold" fill="#333" text-anchor="middle">ABAM37</text>
<rect x="843.9" y="1225.4" width="4.2" height="1.8" fill="#151515"/><rect x="843.9" y="1228.4" width="4.2" height="1.8" fill="#b3171c"/>
<path d="M849.4,1226.3h6 M849.4,1229.3h6" stroke="#888" stroke-width="1"/>
<text x="0" y="0" font-size="2.6" fill="#444" text-anchor="middle" transform="translate(804.0,1238.6) rotate(-90)">Relative mRNA expression</text>
<path d="M872.1,1227 V1252.9 H904" stroke="#333" stroke-width="0.6" fill="none"/>
<path d="M870.9,1227.0h1.2M870.9,1233.5h1.2M870.9,1240.0h1.2M870.9,1246.4h1.2M870.9,1252.9h1.2" stroke="#333" stroke-width="0.4"/>
<rect x="873.8" y="1239.8" width="2.8" height="13.1" fill="#151515"/>
<rect x="877.2" y="1232" width="3.4" height="20.9" fill="#b3171c"/>
<rect x="884.6" y="1239.8" width="2.8" height="13.1" fill="#151515"/>
<rect x="888" y="1229" width="3.6" height="23.9" fill="#b3171c"/>
<rect x="895.2" y="1239.8" width="2.8" height="13.1" fill="#151515"/>
<rect x="898.6" y="1238" width="3.4" height="14.9" fill="#b3171c"/>
<path d="M875.2,1230.0h5" stroke="#777" stroke-width="0.4"/>
<path d="M886.0,1227.0h5" stroke="#777" stroke-width="0.4"/>
<path d="M896.6,1236.0h5" stroke="#777" stroke-width="0.4"/>
<text x="888" y="1225.8" font-size="3" font-weight="bold" fill="#333" text-anchor="middle">SFRP1</text>
<rect x="905.4" y="1226.4" width="4.2" height="1.8" fill="#151515"/><rect x="905.4" y="1229.4" width="4.2" height="1.8" fill="#b3171c"/>
<path d="M910.9,1227.3h6 M910.9,1230.3h6" stroke="#888" stroke-width="1"/>
<text x="0" y="0" font-size="2.6" fill="#444" text-anchor="middle" transform="translate(868.1,1240.0) rotate(-90)">Relative mRNA expression</text>
<path d="M932.8,1227.8 V1253.4 H965" stroke="#333" stroke-width="0.6" fill="none"/>
<path d="M931.5999999999999,1227.8h1.2M931.5999999999999,1234.2h1.2M931.5999999999999,1240.6h1.2M931.5999999999999,1247.0h1.2M931.5999999999999,1253.4h1.2" stroke="#333" stroke-width="0.4"/>
<rect x="935.3" y="1240.6" width="2.9" height="12.8" fill="#151515"/>
<rect x="939" y="1232" width="3.5" height="21.4" fill="#b3171c"/>
<rect x="946.4" y="1240.6" width="2.8" height="12.8" fill="#151515"/>
<rect x="950" y="1235.8" width="3.2" height="17.6" fill="#b3171c"/>
<rect x="956.7" y="1240.6" width="2.9" height="12.8" fill="#151515"/>
<rect x="960.3" y="1232.4" width="3.3" height="21.0" fill="#b3171c"/>
<path d="M937.0,1230.0h5" stroke="#777" stroke-width="0.4"/>
<path d="M948.0,1233.8h5" stroke="#777" stroke-width="0.4"/>
<path d="M958.3,1230.4h5" stroke="#777" stroke-width="0.4"/>
<text x="949" y="1226.6" font-size="3" font-weight="bold" fill="#333" text-anchor="middle">PPP1CA</text>
<rect x="966" y="1227.2" width="4.2" height="1.8" fill="#151515"/><rect x="966" y="1230.2" width="4.2" height="1.8" fill="#b3171c"/>
<path d="M971.5,1228.1h6 M971.5,1231.1h6" stroke="#888" stroke-width="1"/>
<text x="0" y="0" font-size="2.6" fill="#444" text-anchor="middle" transform="translate(928.8,1240.6) rotate(-90)">Relative mRNA expression</text>
<text x="858.1" y="1260.8" font-size="3.6" font-weight="bold" fill="#333" text-anchor="middle">Telogen</text>
<text x="904.6" y="1260.8" font-size="3.6" font-weight="bold" fill="#333" text-anchor="middle">Anagen</text>
<path d="M834.9,1263.2 H878.1 M879.8,1263.2 H923.4" stroke="#555" stroke-width="0.7"/>
<rect x="833.5" y="1265.4" width="93.3" height="8.5" fill="#e9e9e9" stroke="#999" stroke-width="0.6"/>
<rect x="836.0" y="1268.1" width="12.5" height="3.2" rx="1.5" fill="rgb(181,181,181)"/>
<rect x="851.2" y="1268.1" width="12.5" height="3.2" rx="1.5" fill="rgb(192,192,192)"/>
<rect x="866.4" y="1268.1" width="12.5" height="3.2" rx="1.5" fill="rgb(159,159,159)"/>
<rect x="881.6" y="1268.1" width="12.5" height="3.2" rx="1.5" fill="rgb(84,84,84)"/>
<rect x="896.8" y="1268.1" width="12.5" height="3.2" rx="1.5" fill="rgb(116,116,116)"/>
<rect x="912.0" y="1268.1" width="12.5" height="3.2" rx="1.5" fill="rgb(73,73,73)"/>
<rect x="833.5" y="1275.1" width="93.3" height="8.2" fill="#e9e9e9" stroke="#999" stroke-width="0.6"/>
<rect x="836.0" y="1277.6" width="12.5" height="3.2" rx="1.5" fill="rgb(41,41,41)"/>
<rect x="851.2" y="1277.6" width="12.5" height="3.2" rx="1.5" fill="rgb(52,52,52)"/>
<rect x="866.4" y="1277.6" width="12.5" height="3.2" rx="1.5" fill="rgb(45,45,45)"/>
<rect x="881.6" y="1277.6" width="12.5" height="3.2" rx="1.5" fill="rgb(41,41,41)"/>
<rect x="896.8" y="1277.6" width="12.5" height="3.2" rx="1.5" fill="rgb(58,58,58)"/>
<rect x="912.0" y="1277.6" width="12.5" height="3.2" rx="1.5" fill="rgb(41,41,41)"/>
<text x="831" y="1270.9" font-size="3.6" font-weight="bold" fill="#333" text-anchor="end">ABAM37 (70 kDa)</text>
<text x="831" y="1280.4" font-size="3.6" font-weight="bold" fill="#333" text-anchor="end">α-Tubulin (50 kDa)</text>
<path d="M943,1265.4 V1282.7 H957" stroke="#333" stroke-width="0.6" fill="none"/>
<rect x="946" y="1274.8" width="3.6" height="7.9" fill="#151515"/>
<rect x="951" y="1270" width="4" height="12.7" fill="#a8a8a8" stroke="#333" stroke-width="0.4"/>
<path d="M947.5,1268.0 h6" stroke="#555" stroke-width="0.4"/>
<rect x="962.5" y="1266.4" width="2.6" height="1.6" fill="#151515"/><rect x="962.5" y="1269.0" width="2.6" height="1.6" fill="#999"/>
<path d="M966,1267.2h4 M966,1269.8000000000002h4" stroke="#aaa" stroke-width="0.8"/>
<text x="858.1" y="1290.5" font-size="3.6" font-weight="bold" fill="#333" text-anchor="middle">Telogen</text>
<text x="904.6" y="1290.5" font-size="3.6" font-weight="bold" fill="#333" text-anchor="middle">Anagen</text>
<path d="M834.9,1293.6 H878.1 M879.8,1293.6 H923.4" stroke="#555" stroke-width="0.7"/>
<rect x="833.5" y="1294.4" width="93.3" height="8.6" fill="#e9e9e9" stroke="#999" stroke-width="0.6"/>
<rect x="836.0" y="1297.1" width="12.5" height="3.2" rx="1.5" fill="rgb(192,192,192)"/>
<rect x="851.2" y="1297.1" width="12.5" height="3.2" rx="1.5" fill="rgb(202,202,202)"/>
<rect x="866.4" y="1297.1" width="12.5" height="3.2" rx="1.5" fill="rgb(170,170,170)"/>
<rect x="881.6" y="1297.1" width="12.5" height="3.2" rx="1.5" fill="rgb(116,116,116)"/>
<rect x="896.8" y="1297.1" width="12.5" height="3.2" rx="1.5" fill="rgb(149,149,149)"/>
<rect x="912.0" y="1297.1" width="12.5" height="3.2" rx="1.5" fill="rgb(138,138,138)"/>
<rect x="833.5" y="1303.8" width="93.3" height="7.7" fill="#e9e9e9" stroke="#999" stroke-width="0.6"/>
<rect x="836.0" y="1306.1" width="12.5" height="3.2" rx="1.5" fill="rgb(41,41,41)"/>
<rect x="851.2" y="1306.1" width="12.5" height="3.2" rx="1.5" fill="rgb(52,52,52)"/>
<rect x="866.4" y="1306.1" width="12.5" height="3.2" rx="1.5" fill="rgb(45,45,45)"/>
<rect x="881.6" y="1306.1" width="12.5" height="3.2" rx="1.5" fill="rgb(41,41,41)"/>
<rect x="896.8" y="1306.1" width="12.5" height="3.2" rx="1.5" fill="rgb(58,58,58)"/>
<rect x="912.0" y="1306.1" width="12.5" height="3.2" rx="1.5" fill="rgb(41,41,41)"/>
<text x="831" y="1299.9" font-size="3.6" font-weight="bold" fill="#333" text-anchor="end">SFRP1 (35 kDa)</text>
<text x="831" y="1308.9" font-size="3.6" font-weight="bold" fill="#333" text-anchor="end">α-Tubulin (50 kDa)</text>
<path d="M943,1294.4 V1310.9 H957" stroke="#333" stroke-width="0.6" fill="none"/>
<rect x="946" y="1302.5" width="3.6" height="8.4" fill="#151515"/>
<rect x="951" y="1296.5" width="4" height="14.4" fill="#a8a8a8" stroke="#333" stroke-width="0.4"/>
<path d="M947.5,1294.5 h6" stroke="#555" stroke-width="0.4"/>
<rect x="962.5" y="1295.4" width="2.6" height="1.6" fill="#151515"/><rect x="962.5" y="1298.0" width="2.6" height="1.6" fill="#999"/>
<path d="M966,1296.2h4 M966,1298.8000000000002h4" stroke="#aaa" stroke-width="0.8"/>
<text x="858.1" y="1319.5" font-size="3.6" font-weight="bold" fill="#333" text-anchor="middle">Telogen</text>
<text x="904.6" y="1319.5" font-size="3.6" font-weight="bold" fill="#333" text-anchor="middle">Anagen</text>
<path d="M834.9,1322.6 H878.1 M879.8,1322.6 H923.4" stroke="#555" stroke-width="0.7"/>
<rect x="833.5" y="1324" width="93.3" height="8.0" fill="#e9e9e9" stroke="#999" stroke-width="0.6"/>
<rect x="836.0" y="1326.4" width="12.5" height="3.2" rx="1.5" fill="rgb(73,73,73)"/>
<rect x="851.2" y="1326.4" width="12.5" height="3.2" rx="1.5" fill="rgb(84,84,84)"/>
<rect x="866.4" y="1326.4" width="12.5" height="3.2" rx="1.5" fill="rgb(84,84,84)"/>
<rect x="881.6" y="1326.4" width="12.5" height="3.2" rx="1.5" fill="rgb(63,63,63)"/>
<rect x="896.8" y="1326.4" width="12.5" height="3.2" rx="1.5" fill="rgb(63,63,63)"/>
<rect x="912.0" y="1326.4" width="12.5" height="3.2" rx="1.5" fill="rgb(63,63,63)"/>
<rect x="833.5" y="1332.9" width="93.3" height="8.5" fill="#e9e9e9" stroke="#999" stroke-width="0.6"/>
<rect x="836.0" y="1335.6" width="12.5" height="3.2" rx="1.5" fill="rgb(41,41,41)"/>
<rect x="851.2" y="1335.6" width="12.5" height="3.2" rx="1.5" fill="rgb(52,52,52)"/>
<rect x="866.4" y="1335.6" width="12.5" height="3.2" rx="1.5" fill="rgb(45,45,45)"/>
<rect x="881.6" y="1335.6" width="12.5" height="3.2" rx="1.5" fill="rgb(41,41,41)"/>
<rect x="896.8" y="1335.6" width="12.5" height="3.2" rx="1.5" fill="rgb(58,58,58)"/>
<rect x="912.0" y="1335.6" width="12.5" height="3.2" rx="1.5" fill="rgb(41,41,41)"/>
<text x="831" y="1329.2" font-size="3.6" font-weight="bold" fill="#333" text-anchor="end">PPP1CA (37 kDa)</text>
<text x="831" y="1338.4" font-size="3.6" font-weight="bold" fill="#333" text-anchor="end">α-Tubulin (33 kDa)</text>
<path d="M943,1324 V1340.8000000000002 H957" stroke="#333" stroke-width="0.6" fill="none"/>
<rect x="946" y="1332" width="3.6" height="8.8" fill="#151515"/>
<rect x="951" y="1328" width="4" height="12.8" fill="#a8a8a8" stroke="#333" stroke-width="0.4"/>
<path d="M947.5,1326.0 h6" stroke="#555" stroke-width="0.4"/>
<rect x="962.5" y="1325" width="2.6" height="1.6" fill="#151515"/><rect x="962.5" y="1327.6" width="2.6" height="1.6" fill="#999"/>
<path d="M966,1325.8h4 M966,1328.4h4" stroke="#aaa" stroke-width="0.8"/>
<defs><filter id="soft" x="-5%" y="-5%" width="110%" height="110%"><feGaussianBlur stdDeviation="0.45"/></filter></defs>
<text x="1028.2" y="1227.6" font-size="5.6" font-weight="bold" fill="#222" text-anchor="middle">Transverse</text>
<text x="1119.2" y="1227.6" font-size="5.6" font-weight="bold" fill="#222" text-anchor="middle">longitudinal</text>
<path d="M1000,1230.2 H1058 M1060.2,1230.2 H1178.2" stroke="#555" stroke-width="1.2"/>
<text x="1028" y="1236.4" font-size="3.3" font-weight="bold" fill="#333" text-anchor="middle">PSF &amp; SSF</text>
<text x="1089" y="1236.4" font-size="3.3" font-weight="bold" fill="#333" text-anchor="middle">PSF</text>
<text x="1148.4" y="1236.4" font-size="3.3" font-weight="bold" fill="#333" text-anchor="middle">SSF</text>
<path d="M1000,1239.7 H1058 M1060.2,1239.7 H1118 M1120,1239.7 H1178.2" stroke="#666" stroke-width="0.8"/>
<text x="1014.5" y="1244.6" font-size="3" font-weight="bold" fill="#333" text-anchor="middle">Telogen</text>
<path d="M1000,1247 H1029" stroke="#777" stroke-width="0.6"/>
<text x="1044.4" y="1244.6" font-size="3" font-weight="bold" fill="#333" text-anchor="middle">Anagen</text>
<path d="M1030.6,1247 H1058.2" stroke="#777" stroke-width="0.6"/>
<text x="1074.2" y="1244.6" font-size="3" font-weight="bold" fill="#333" text-anchor="middle">Telogen</text>
<path d="M1060.2,1247 H1088.3" stroke="#777" stroke-width="0.6"/>
<text x="1104.0" y="1244.6" font-size="3" font-weight="bold" fill="#333" text-anchor="middle">Anagen</text>
<path d="M1090,1247 H1118" stroke="#777" stroke-width="0.6"/>
<text x="1133.8" y="1244.6" font-size="3" font-weight="bold" fill="#333" text-anchor="middle">Telogen</text>
<path d="M1120,1247 H1147.6" stroke="#777" stroke-width="0.6"/>
<text x="1164.1" y="1244.6" font-size="3" font-weight="bold" fill="#333" text-anchor="middle">Anagen</text>
<path d="M1150,1247 H1178.2" stroke="#777" stroke-width="0.6"/>
<path d="M995.8,1250.1 V1270.9" stroke="#666" stroke-width="0.9"/>
<rect x="1000" y="1249.1" width="29.0" height="22.8" fill="#f4e7d6"/>
<clipPath id="ih00"><rect x="1000" y="1249.1" width="29.0" height="22.8"/></clipPath>
<g clip-path="url(#ih00)"><g filter="url(#soft)">
<path d="M1005.0,1261.4a2.5,1.8 0 1 0 4.9,0a2.5,1.8 0 1 0 -4.9,0zM1016.1,1251.5a1.8,1.5 0 1 0 3.6,0a1.8,1.5 0 1 0 -3.6,0zM1004.4,1255.0a3.6,2.5 0 1 0 7.2,0a3.6,2.5 0 1 0 -7.2,0zM1020.6,1260.0a3.0,1.7 0 1 0 5.9,0a3.0,1.7 0 1 0 -5.9,0zM1015.4,1268.2a2.7,2.2 0 1 0 5.5,0a2.7,2.2 0 1 0 -5.5,0zM1016.0,1251.4a3.2,2.3 0 1 0 6.3,0a3.2,2.3 0 1 0 -6.3,0zM1005.8,1250.7a3.4,2.3 0 1 0 6.7,0a3.4,2.3 0 1 0 -6.7,0zM1017.3,1268.4a3.1,2.7 0 1 0 6.2,0a3.1,2.7 0 1 0 -6.2,0zM1009.1,1266.8a2.6,2.3 0 1 0 5.2,0a2.6,2.3 0 1 0 -5.2,0z" fill="#e0ae86" opacity="0.85"/>
<path d="M1024.0,1252.9l-2.2,-1.1M1026.1,1259.3l0.8,-0.8M1014.7,1258.4l-0.9,0.3M1016.6,1268.1l1.1,1.7M1023.4,1269.7l1.0,-1.3M1023.5,1269.2l2.4,0.3" stroke="#b98a66" stroke-width="0.7"/>
</g></g>
<rect x="1030.6" y="1249.1" width="27.6" height="22.8" fill="#ecd8c2"/>
<clipPath id="ih01"><rect x="1030.6" y="1249.1" width="27.6" height="22.8"/></clipPath>
<g clip-path="url(#ih01)"><g filter="url(#soft)">
<path d="M1046.6,1254.5a3.3,2.4 0 1 0 6.6,0a3.3,2.4 0 1 0 -6.6,0zM1035.6,1251.4a3.3,3.0 0 1 0 6.7,0a3.3,3.0 0 1 0 -6.7,0zM1031.3,1266.8a2.5,1.4 0 1 0 5.1,0a2.5,1.4 0 1 0 -5.1,0zM1035.8,1266.1a3.4,1.7 0 1 0 6.7,0a3.4,1.7 0 1 0 -6.7,0zM1044.2,1251.0a3.1,2.0 0 1 0 6.2,0a3.1,2.0 0 1 0 -6.2,0zM1051.4,1270.5a2.7,2.4 0 1 0 5.4,0a2.7,2.4 0 1 0 -5.4,0zM1036.6,1251.7a2.9,1.5 0 1 0 5.8,0a2.9,1.5 0 1 0 -5.8,0zM1033.8,1258.6a2.9,1.6 0 1 0 5.8,0a2.9,1.6 0 1 0 -5.8,0zM1030.3,1268.1a2.4,2.1 0 1 0 4.7,0a2.4,2.1 0 1 0 -4.7,0zM1051.9,1258.0a2.6,1.9 0 1 0 5.3,0a2.6,1.9 0 1 0 -5.3,0zM1045.3,1262.5a2.8,2.1 0 1 0 5.6,0a2.8,2.1 0 1 0 -5.6,0zM1053.1,1260.6a2.6,2.0 0 1 0 5.2,0a2.6,2.0 0 1 0 -5.2,0z" fill="#e0ae86" opacity="0.85"/>
<path d="M1038.2,1256.8l2.9,0.1M1045.5,1251.3l-0.5,0.3M1033.1,1262.7l0.8,-1.8M1047.4,1259.9l1.1,-0.6M1049.3,1265.0l-2.9,-1.8M1048.6,1269.2l-1.5,-0.2" stroke="#b98a66" stroke-width="0.7"/>
</g></g>
<rect x="1060.2" y="1249.1" width="28.1" height="22.8" fill="#f4e7d6"/>
<clipPath id="ih02"><rect x="1060.2" y="1249.1" width="28.1" height="22.8"/></clipPath>
<g clip-path="url(#ih02)"><g filter="url(#soft)">
<path d="M1066.1,1248.0q14.8,6.6 26.3,20.4M1060.5,1248.4q15.6,7.0 27.8,21.6" fill="none" stroke="#e0ae86" stroke-width="4.2" stroke-linecap="round"/>
<path d="M1066.1,1248.0q14.8,6.6 26.3,20.4M1060.5,1248.4q15.6,7.0 27.8,21.6" fill="none" stroke="#efd2b6" stroke-width="1.4" stroke-linecap="round"/>
<path d="M1065.1,1257.7l5,3.5M1080.8,1249.7l5,3.5M1074.0,1265.9l5,3.5M1065.5,1254.2l5,3.5" stroke="#e6bf9c" stroke-width="1.1"/>
</g></g>
<rect x="1090" y="1249.1" width="28.0" height="22.8" fill="#f4e7d6"/>
<clipPath id="ih03"><rect x="1090" y="1249.1" width="28.0" height="22.8"/></clipPath>
<g clip-path="url(#ih03)"><g filter="url(#soft)">
<path d="M1100.1,1247.2q14.2,6.3 25.2,19.5M1092.7,1251.4q13.9,6.2 24.7,19.1" fill="none" stroke="#e0ae86" stroke-width="4.2" stroke-linecap="round"/>
<path d="M1100.1,1247.2q14.2,6.3 25.2,19.5M1092.7,1251.4q13.9,6.2 24.7,19.1" fill="none" stroke="#efd2b6" stroke-width="1.4" stroke-linecap="round"/>
<path d="M1095.6,1256.7l5,3.5M1112.5,1259.1l5,3.5M1113.2,1253.0l5,3.5M1096.1,1263.9l5,3.5" stroke="#e6bf9c" stroke-width="1.1"/>
</g></g>
<rect x="1120" y="1249.1" width="27.6" height="22.8" fill="#f4e7d6"/>
<clipPath id="ih04"><rect x="1120" y="1249.1" width="27.6" height="22.8"/></clipPath>
<g clip-path="url(#ih04)"><g filter="url(#soft)">
<path d="M1131.3,1249.2q14.3,6.4 25.4,19.7M1116.4,1249.9q14.2,6.3 25.2,19.5" fill="none" stroke="#e0ae86" stroke-width="4.2" stroke-linecap="round"/>
<path d="M1131.3,1249.2q14.3,6.4 25.4,19.7M1116.4,1249.9q14.2,6.3 25.2,19.5" fill="none" stroke="#efd2b6" stroke-width="1.4" stroke-linecap="round"/>
<path d="M1141.3,1268.2l5,3.5M1121.0,1255.5l5,3.5M1141.3,1263.7l5,3.5M1141.3,1257.0l5,3.5" stroke="#e6bf9c" stroke-width="1.1"/>
</g></g>
<rect x="1150" y="1249.1" width="28.2" height="22.8" fill="#f4e7d6"/>
<clipPath id="ih05"><rect x="1150" y="1249.1" width="28.2" height="22.8"/></clipPath>
<g clip-path="url(#ih05)"><g filter="url(#soft)">
<path d="M1146.6,1247.7q16.4,7.3 29.1,22.5M1149.5,1248.2q15.0,6.7 26.7,20.7" fill="none" stroke="#e0ae86" stroke-width="4.2" stroke-linecap="round"/>
<path d="M1146.6,1247.7q16.4,7.3 29.1,22.5M1149.5,1248.2q15.0,6.7 26.7,20.7" fill="none" stroke="#efd2b6" stroke-width="1.4" stroke-linecap="round"/>
<path d="M1158.9,1258.4l5,3.5M1175.6,1252.7l5,3.5M1145.2,1270.6l5,3.5M1174.2,1271.6l5,3.5" stroke="#e6bf9c" stroke-width="1.1"/>
</g></g>
<path d="M995.8,1274.8 V1295.2" stroke="#666" stroke-width="0.9"/>
<rect x="1000" y="1273.8" width="29.0" height="22.4" fill="#f4e7d6"/>
<clipPath id="ih10"><rect x="1000" y="1273.8" width="29.0" height="22.4"/></clipPath>
<g clip-path="url(#ih10)"><g filter="url(#soft)">
<path d="M1009.3,1294.2a3.5,2.0 0 1 0 6.9,0a3.5,2.0 0 1 0 -6.9,0zM1018.1,1291.9a3.0,2.1 0 1 0 6.0,0a3.0,2.1 0 1 0 -6.0,0zM1006.6,1281.8a2.2,1.2 0 1 0 4.4,0a2.2,1.2 0 1 0 -4.4,0zM1013.6,1280.7a3.3,1.7 0 1 0 6.5,0a3.3,1.7 0 1 0 -6.5,0zM1021.9,1289.0a3.5,3.0 0 1 0 6.9,0a3.5,3.0 0 1 0 -6.9,0zM1023.5,1286.6a1.8,1.5 0 1 0 3.6,0a1.8,1.5 0 1 0 -3.6,0zM1002.6,1280.9a3.0,2.1 0 1 0 6.0,0a3.0,2.1 0 1 0 -6.0,0zM1009.3,1294.0a2.9,1.8 0 1 0 5.8,0a2.9,1.8 0 1 0 -5.8,0zM1005.2,1292.4a2.7,2.2 0 1 0 5.3,0a2.7,2.2 0 1 0 -5.3,0z" fill="#e0ae86" opacity="0.85"/>
<path d="M1010.8,1279.4l0.2,1.3M1006.3,1290.4l2.5,1.2M1022.6,1275.9l0.8,1.5M1003.2,1280.8l-1.4,0.1M1012.6,1284.5l1.7,-2.0M1003.4,1278.1l-2.3,-1.7" stroke="#b98a66" stroke-width="0.7"/>
</g></g>
<rect x="1030.6" y="1273.8" width="27.6" height="22.4" fill="#ecd8c2"/>
<clipPath id="ih11"><rect x="1030.6" y="1273.8" width="27.6" height="22.4"/></clipPath>
<g clip-path="url(#ih11)"><g filter="url(#soft)">
<path d="M1054.6,1292.2a2.0,1.4 0 1 0 3.9,0a2.0,1.4 0 1 0 -3.9,0zM1037.3,1281.2a2.4,1.8 0 1 0 4.9,0a2.4,1.8 0 1 0 -4.9,0zM1044.5,1282.2a2.1,1.4 0 1 0 4.3,0a2.1,1.4 0 1 0 -4.3,0zM1031.7,1286.1a3.1,2.0 0 1 0 6.2,0a3.1,2.0 0 1 0 -6.2,0zM1031.2,1278.4a2.5,1.8 0 1 0 4.9,0a2.5,1.8 0 1 0 -4.9,0zM1048.4,1282.6a3.2,2.4 0 1 0 6.5,0a3.2,2.4 0 1 0 -6.5,0zM1040.0,1282.4a2.7,2.1 0 1 0 5.4,0a2.7,2.1 0 1 0 -5.4,0zM1039.7,1289.0a2.6,1.6 0 1 0 5.3,0a2.6,1.6 0 1 0 -5.3,0zM1043.4,1289.0a1.9,1.3 0 1 0 3.9,0a1.9,1.3 0 1 0 -3.9,0zM1039.0,1292.7a3.5,2.3 0 1 0 7.0,0a3.5,2.3 0 1 0 -7.0,0zM1052.3,1290.9a2.3,1.6 0 1 0 4.5,0a2.3,1.6 0 1 0 -4.5,0zM1031.8,1291.4a3.0,2.6 0 1 0 6.0,0a3.0,2.6 0 1 0 -6.0,0z" fill="#e0ae86" opacity="0.85"/>
<path d="M1051.3,1288.1l1.4,0.3M1035.0,1286.6l-3.0,-1.4M1050.9,1276.6l-2.4,-1.6M1053.4,1279.1l-2.9,1.4M1035.5,1291.3l1.0,1.3M1055.1,1286.5l1.8,-1.9" stroke="#b98a66" stroke-width="0.7"/>
</g></g>
<rect x="1060.2" y="1273.8" width="28.1" height="22.4" fill="#f4e7d6"/>
<clipPath id="ih12"><rect x="1060.2" y="1273.8" width="28.1" height="22.4"/></clipPath>
<g clip-path="url(#ih12)"><g filter="url(#soft)">
<path d="M1069.6,1274.4q16.1,7.1 28.6,22.1M1056.3,1276.5q16.9,7.5 30.0,23.2" fill="none" stroke="#e0ae86" stroke-width="4.2" stroke-linecap="round"/>
<path d="M1069.6,1274.4q16.1,7.1 28.6,22.1M1056.3,1276.5q16.9,7.5 30.0,23.2" fill="none" stroke="#efd2b6" stroke-width="1.4" stroke-linecap="round"/>
<path d="M1057.2,1281.1l5,3.5M1073.9,1292.3l5,3.5M1063.2,1277.8l5,3.5M1063.5,1287.6l5,3.5" stroke="#e6bf9c" stroke-width="1.1"/>
</g></g>
<rect x="1090" y="1273.8" width="28.0" height="22.4" fill="#f4e7d6"/>
<clipPath id="ih13"><rect x="1090" y="1273.8" width="28.0" height="22.4"/></clipPath>
<g clip-path="url(#ih13)"><g filter="url(#soft)">
<path d="M1099.1,1273.3q14.8,6.6 26.4,20.4M1091.9,1273.0q15.0,6.7 26.7,20.7" fill="none" stroke="#e0ae86" stroke-width="4.2" stroke-linecap="round"/>
<path d="M1099.1,1273.3q14.8,6.6 26.4,20.4M1091.9,1273.0q15.0,6.7 26.7,20.7" fill="none" stroke="#efd2b6" stroke-width="1.4" stroke-linecap="round"/>
<path d="M1087.7,1285.0l5,3.5M1117.1,1283.0l5,3.5M1109.7,1277.4l5,3.5M1107.8,1290.7l5,3.5" stroke="#e6bf9c" stroke-width="1.1"/>
</g></g>
<rect x="1120" y="1273.8" width="27.6" height="22.4" fill="#f4e7d6"/>
<clipPath id="ih14"><rect x="1120" y="1273.8" width="27.6" height="22.4"/></clipPath>
<g clip-path="url(#ih14)"><g filter="url(#soft)">
<path d="M1127.2,1274.5q15.2,6.8 27.1,21.0M1126.6,1277.9q14.0,6.2 25.0,19.3" fill="none" stroke="#e0ae86" stroke-width="4.2" stroke-linecap="round"/>
<path d="M1127.2,1274.5q15.2,6.8 27.1,21.0M1126.6,1277.9q14.0,6.2 25.0,19.3" fill="none" stroke="#efd2b6" stroke-width="1.4" stroke-linecap="round"/>
<path d="M1118.1,1290.6l5,3.5M1144.9,1285.4l5,3.5M1129.4,1289.9l5,3.5M1121.1,1279.8l5,3.5" stroke="#e6bf9c" stroke-width="1.1"/>
</g></g>
<rect x="1150" y="1273.8" width="28.2" height="22.4" fill="#f4e7d6"/>
<clipPath id="ih15"><rect x="1150" y="1273.8" width="28.2" height="22.4"/></clipPath>
<g clip-path="url(#ih15)"><g filter="url(#soft)">
<path d="M1148.0,1275.1q14.6,6.5 26.0,20.2M1148.7,1276.0q16.9,7.5 30.1,23.3" fill="none" stroke="#e0ae86" stroke-width="4.2" stroke-linecap="round"/>
<path d="M1148.0,1275.1q14.6,6.5 26.0,20.2M1148.7,1276.0q16.9,7.5 30.1,23.3" fill="none" stroke="#efd2b6" stroke-width="1.4" stroke-linecap="round"/>
<path d="M1154.8,1289.6l5,3.5M1158.7,1292.9l5,3.5M1164.4,1279.8l5,3.5M1152.2,1274.3l5,3.5" stroke="#e6bf9c" stroke-width="1.1"/>
</g></g>
<path d="M995.8,1299.7 V1320" stroke="#666" stroke-width="0.9"/>
<rect x="1000" y="1298.7" width="29.0" height="22.3" fill="#f4e7d6"/>
<clipPath id="ih20"><rect x="1000" y="1298.7" width="29.0" height="22.3"/></clipPath>
<g clip-path="url(#ih20)"><g filter="url(#soft)">
<path d="M1011.8,1307.5a2.1,1.4 0 1 0 4.2,0a2.1,1.4 0 1 0 -4.2,0zM1007.6,1315.4a2.1,1.8 0 1 0 4.1,0a2.1,1.8 0 1 0 -4.1,0zM1011.3,1311.9a2.6,2.2 0 1 0 5.3,0a2.6,2.2 0 1 0 -5.3,0zM1020.5,1311.0a2.7,2.1 0 1 0 5.3,0a2.7,2.1 0 1 0 -5.3,0zM1021.0,1307.8a3.1,2.8 0 1 0 6.2,0a3.1,2.8 0 1 0 -6.2,0zM1011.4,1304.4a2.2,1.7 0 1 0 4.4,0a2.2,1.7 0 1 0 -4.4,0zM1015.9,1319.2a3.3,2.0 0 1 0 6.7,0a3.3,2.0 0 1 0 -6.7,0zM1004.0,1305.0a2.1,1.7 0 1 0 4.3,0a2.1,1.7 0 1 0 -4.3,0zM1021.9,1318.0a2.3,1.9 0 1 0 4.5,0a2.3,1.9 0 1 0 -4.5,0z" fill="#e0ae86" opacity="0.85"/>
<path d="M1009.8,1308.4l1.4,-1.7M1004.3,1316.0l-1.2,-0.6M1016.5,1313.1l-3.0,-0.7M1012.9,1309.6l-1.7,0.3M1025.9,1307.9l0.3,-1.5M1008.9,1312.9l-2.3,1.5" stroke="#b98a66" stroke-width="0.7"/>
</g></g>
<rect x="1030.6" y="1298.7" width="27.6" height="22.3" fill="#f4e7d6"/>
<clipPath id="ih21"><rect x="1030.6" y="1298.7" width="27.6" height="22.3"/></clipPath>
<g clip-path="url(#ih21)"><g filter="url(#soft)">
<path d="M1051.4,1301.7a3.5,2.3 0 1 0 7.0,0a3.5,2.3 0 1 0 -7.0,0zM1049.0,1315.1a2.3,1.8 0 1 0 4.7,0a2.3,1.8 0 1 0 -4.7,0zM1046.1,1316.1a2.3,1.8 0 1 0 4.6,0a2.3,1.8 0 1 0 -4.6,0zM1053.4,1313.4a2.8,1.5 0 1 0 5.5,0a2.8,1.5 0 1 0 -5.5,0zM1041.2,1306.8a3.1,2.4 0 1 0 6.2,0a3.1,2.4 0 1 0 -6.2,0zM1043.1,1303.4a3.0,2.2 0 1 0 5.9,0a3.0,2.2 0 1 0 -5.9,0zM1033.2,1317.8a3.0,1.6 0 1 0 6.0,0a3.0,1.6 0 1 0 -6.0,0zM1053.1,1302.6a2.4,1.9 0 1 0 4.8,0a2.4,1.9 0 1 0 -4.8,0zM1043.9,1311.0a3.0,2.0 0 1 0 5.9,0a3.0,2.0 0 1 0 -5.9,0zM1037.7,1303.3a1.9,1.5 0 1 0 3.8,0a1.9,1.5 0 1 0 -3.8,0zM1047.8,1310.7a3.1,2.0 0 1 0 6.3,0a3.1,2.0 0 1 0 -6.3,0zM1035.0,1307.5a3.4,1.7 0 1 0 6.7,0a3.4,1.7 0 1 0 -6.7,0z" fill="#e0ae86" opacity="0.85"/>
<path d="M1044.5,1305.2l1.6,-0.6M1040.5,1308.1l0.2,1.1M1040.9,1316.2l-2.3,-0.9M1035.0,1302.8l1.7,0.9M1037.0,1304.2l-0.5,1.0M1051.9,1314.4l0.6,-1.4" stroke="#b98a66" stroke-width="0.7"/>
</g></g>
<rect x="1060.2" y="1298.7" width="28.1" height="22.3" fill="#f4e7d6"/>
<clipPath id="ih22"><rect x="1060.2" y="1298.7" width="28.1" height="22.3"/></clipPath>
<g clip-path="url(#ih22)"><g filter="url(#soft)">
<path d="M1062.2,1296.4q15.4,6.8 27.4,21.2M1065.6,1296.5q14.4,6.4 25.6,19.8" fill="none" stroke="#e0ae86" stroke-width="4.2" stroke-linecap="round"/>
<path d="M1062.2,1296.4q15.4,6.8 27.4,21.2M1065.6,1296.5q14.4,6.4 25.6,19.8" fill="none" stroke="#efd2b6" stroke-width="1.4" stroke-linecap="round"/>
<path d="M1081.1,1299.4l5,3.5M1081.8,1318.6l5,3.5M1086.6,1307.2l5,3.5M1073.5,1311.7l5,3.5" stroke="#e6bf9c" stroke-width="1.1"/>
</g></g>
<rect x="1090" y="1298.7" width="28.0" height="22.3" fill="#f4e7d6"/>
<clipPath id="ih23"><rect x="1090" y="1298.7" width="28.0" height="22.3"/></clipPath>
<g clip-path="url(#ih23)"><g filter="url(#soft)">
<path d="M1096.7,1303.5q16.0,7.1 28.4,22.0M1090.0,1302.4q15.2,6.8 27.1,21.0" fill="none" stroke="#e0ae86" stroke-width="4.2" stroke-linecap="round"/>
<path d="M1096.7,1303.5q16.0,7.1 28.4,22.0M1090.0,1302.4q15.2,6.8 27.1,21.0" fill="none" stroke="#efd2b6" stroke-width="1.4" stroke-linecap="round"/>
<path d="M1104.8,1314.9l5,3.5M1085.1,1315.9l5,3.5M1106.8,1309.7l5,3.5M1102.3,1309.0l5,3.5" stroke="#e6bf9c" stroke-width="1.1"/>
</g></g>
<rect x="1120" y="1298.7" width="27.6" height="22.3" fill="#f4e7d6"/>
<clipPath id="ih24"><rect x="1120" y="1298.7" width="27.6" height="22.3"/></clipPath>
<g clip-path="url(#ih24)"><g filter="url(#soft)">
<path d="M1117.8,1299.5q13.6,6.1 24.2,18.8M1123.8,1300.5q15.1,6.7 26.8,20.8" fill="none" stroke="#e0ae86" stroke-width="4.2" stroke-linecap="round"/>
<path d="M1117.8,1299.5q13.6,6.1 24.2,18.8M1123.8,1300.5q15.1,6.7 26.8,20.8" fill="none" stroke="#efd2b6" stroke-width="1.4" stroke-linecap="round"/>
<path d="M1133.5,1320.1l5,3.5M1144.1,1301.7l5,3.5M1140.8,1312.6l5,3.5M1116.6,1306.7l5,3.5" stroke="#e6bf9c" stroke-width="1.1"/>
</g></g>
<rect x="1150" y="1298.7" width="28.2" height="22.3" fill="#f4e7d6"/>
<clipPath id="ih25"><rect x="1150" y="1298.7" width="28.2" height="22.3"/></clipPath>
<g clip-path="url(#ih25)"><g filter="url(#soft)">
<path d="M1148.7,1295.4q15.4,6.9 27.4,21.3M1162.8,1297.6q16.6,7.4 29.6,22.9" fill="none" stroke="#e0ae86" stroke-width="4.2" stroke-linecap="round"/>
<path d="M1148.7,1295.4q15.4,6.9 27.4,21.3M1162.8,1297.6q16.6,7.4 29.6,22.9" fill="none" stroke="#efd2b6" stroke-width="1.4" stroke-linecap="round"/>
<path d="M1168.1,1301.7l5,3.5M1173.5,1312.1l5,3.5M1175.8,1314.7l5,3.5M1169.6,1306.4l5,3.5" stroke="#e6bf9c" stroke-width="1.1"/>
</g></g>
<path d="M995.8,1323.7 V1344" stroke="#666" stroke-width="0.9"/>
<rect x="1000" y="1322.7" width="29.0" height="22.3" fill="#f5eee0"/>
<clipPath id="ih30"><rect x="1000" y="1322.7" width="29.0" height="22.3"/></clipPath>
<g clip-path="url(#ih30)"><g filter="url(#soft)">
<path d="M1023.4,1343.5h0.8M1025.0,1332.4h0.8M1021.9,1333.5h0.8M1003.2,1323.7h0.8M1002.3,1327.2h0.8" stroke="#8b7060" stroke-width="0.8"/>
</g></g>
<rect x="1030.6" y="1322.7" width="27.6" height="22.3" fill="#f5eee0"/>
<clipPath id="ih31"><rect x="1030.6" y="1322.7" width="27.6" height="22.3"/></clipPath>
<g clip-path="url(#ih31)"><g filter="url(#soft)">
<path d="M1035.0,1333.8h0.8M1049.9,1334.7h0.8M1042.3,1337.2h0.8M1039.0,1333.1h0.8M1051.5,1331.7h0.8M1035.6,1342.8h0.8M1050.5,1330.9h0.8M1040.8,1334.5h0.8M1047.1,1327.7h0.8M1030.7,1327.4h0.8M1052.2,1325.9h0.8M1043.3,1327.1h0.8M1036.4,1326.5h0.8M1041.7,1326.5h0.8" stroke="#8b7060" stroke-width="0.8"/>
</g></g>
<rect x="1060.2" y="1322.7" width="28.1" height="22.3" fill="#f5eee0"/>
<clipPath id="ih32"><rect x="1060.2" y="1322.7" width="28.1" height="22.3"/></clipPath>
<g clip-path="url(#ih32)"><g filter="url(#soft)">
<path d="M1054.8,1319.7q14.1,6.3 25.1,19.4M1064.1,1319.2q13.6,6.0 24.1,18.7M1063.2,1322.4q16.0,7.1 28.5,22.1" fill="none" stroke="#dccbbb" stroke-width="0.9" stroke-linecap="round"/>
</g></g>
<rect x="1090" y="1322.7" width="28.0" height="22.3" fill="#f5eee0"/>
<clipPath id="ih33"><rect x="1090" y="1322.7" width="28.0" height="22.3"/></clipPath>
<g clip-path="url(#ih33)"><g filter="url(#soft)">
<path d="M1085.0,1322.3q14.9,6.6 26.5,20.6M1084.5,1327.4q14.3,6.4 25.4,19.7M1085.9,1323.0q14.1,6.3 25.1,19.4" fill="none" stroke="#dccbbb" stroke-width="0.9" stroke-linecap="round"/>
</g></g>
<rect x="1120" y="1322.7" width="27.6" height="22.3" fill="#f5eee0"/>
<clipPath id="ih34"><rect x="1120" y="1322.7" width="27.6" height="22.3"/></clipPath>
<g clip-path="url(#ih34)"><g filter="url(#soft)">
<path d="M1126.2,1321.8q13.9,6.2 24.8,19.2M1115.0,1325.2q14.5,6.4 25.8,20.0M1129.4,1322.9q16.9,7.5 30.0,23.2" fill="none" stroke="#dccbbb" stroke-width="0.9" stroke-linecap="round"/>
</g></g>
<rect x="1150" y="1322.7" width="28.2" height="22.3" fill="#f5eee0"/>
<clipPath id="ih35"><rect x="1150" y="1322.7" width="28.2" height="22.3"/></clipPath>
<g clip-path="url(#ih35)"><g filter="url(#soft)">
<path d="M1150.1,1320.9q14.5,6.4 25.7,19.9M1160.5,1324.4q14.7,6.6 26.2,20.3M1145.9,1324.8q17.0,7.6 30.2,23.4" fill="none" stroke="#dccbbb" stroke-width="0.9" stroke-linecap="round"/>
</g></g>
</svg></body></html>
